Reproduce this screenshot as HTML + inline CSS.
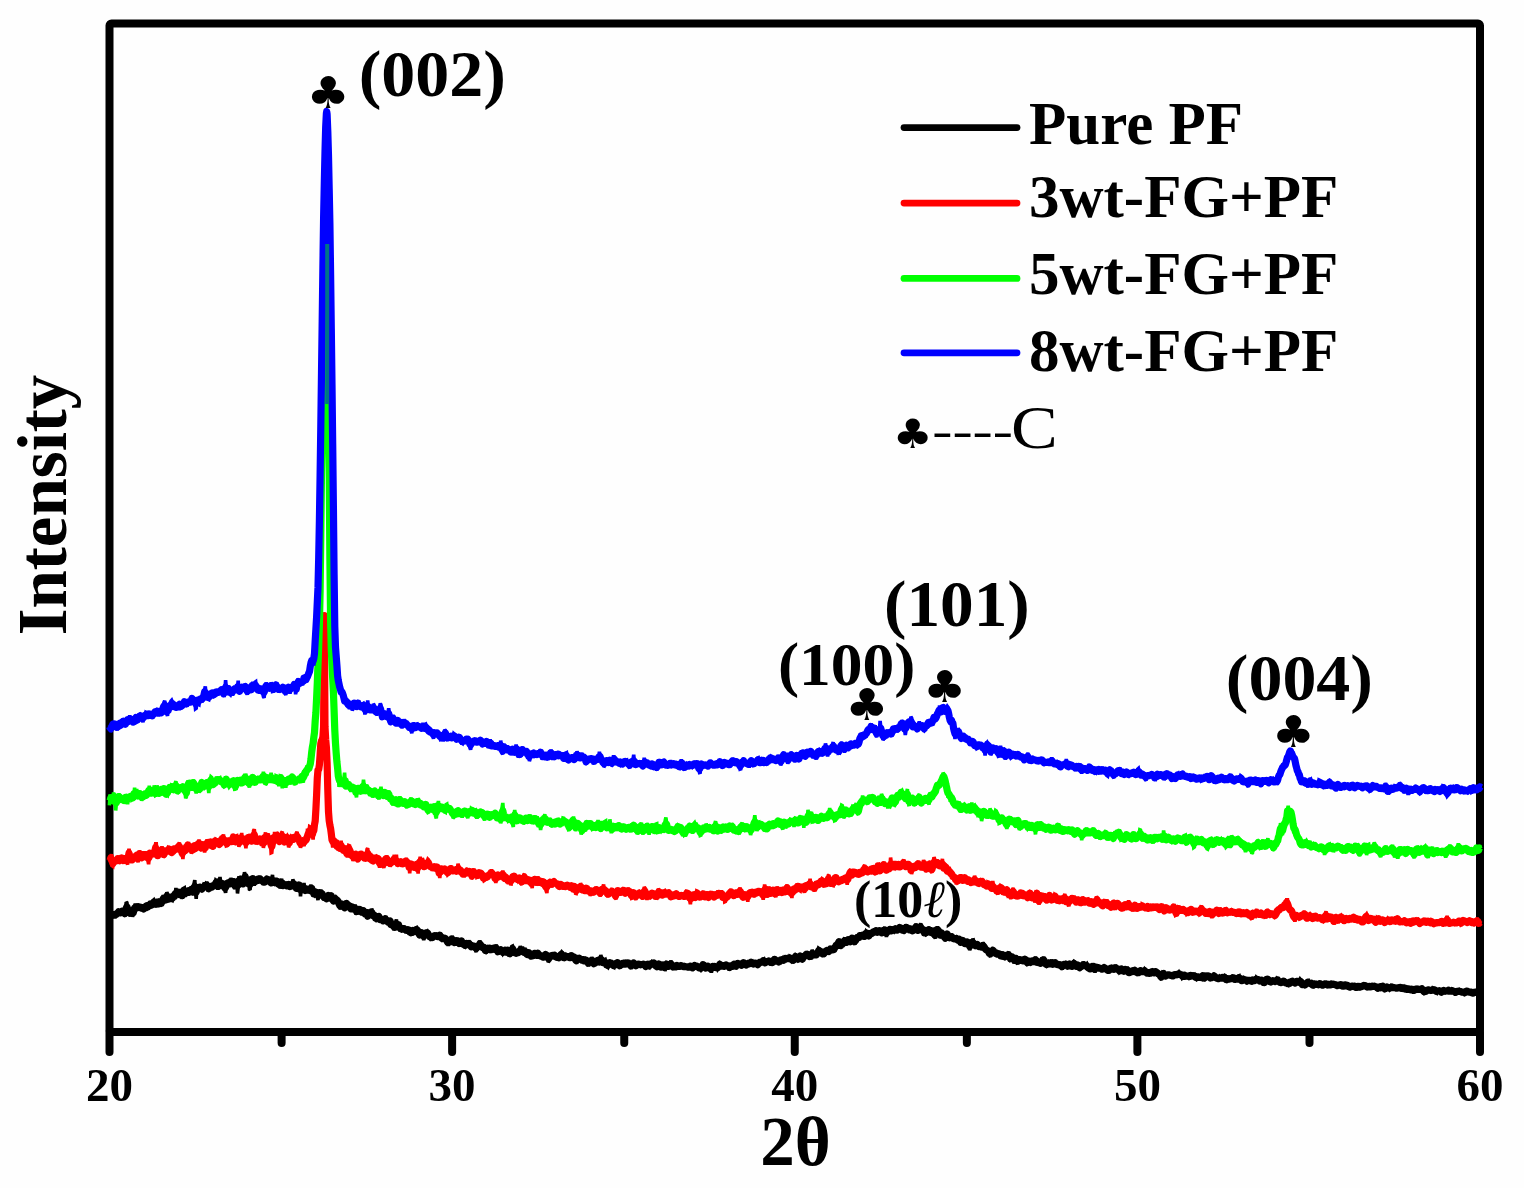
<!DOCTYPE html>
<html lang="en"><head><meta charset="utf-8"><title>XRD patterns</title>
<style>
html,body{margin:0;padding:0;background:#fefefe;}
body{width:1524px;height:1188px;overflow:hidden;}
svg{display:block;}
</style></head>
<body>
<svg width="1524" height="1188" viewBox="0 0 1524 1188" font-family='"Liberation Serif", "DejaVu Serif", serif' fill="#000">
<rect x="0" y="0" width="1524" height="1188" fill="#fefefe"/>
<rect x="109.5" y="23.5" width="1370.5" height="1008.5" fill="none" stroke="#000" stroke-width="8" stroke-linejoin="round" rx="2"/>
<line x1="109.50" y1="1032.0" x2="109.50" y2="1052" stroke="#000" stroke-width="8" stroke-linecap="round"/>
<line x1="281.61" y1="1032.0" x2="281.61" y2="1043" stroke="#000" stroke-width="8" stroke-linecap="round"/>
<line x1="452.12" y1="1032.0" x2="452.12" y2="1052" stroke="#000" stroke-width="8" stroke-linecap="round"/>
<line x1="624.24" y1="1032.0" x2="624.24" y2="1043" stroke="#000" stroke-width="8" stroke-linecap="round"/>
<line x1="794.75" y1="1032.0" x2="794.75" y2="1052" stroke="#000" stroke-width="8" stroke-linecap="round"/>
<line x1="966.86" y1="1032.0" x2="966.86" y2="1043" stroke="#000" stroke-width="8" stroke-linecap="round"/>
<line x1="1137.38" y1="1032.0" x2="1137.38" y2="1052" stroke="#000" stroke-width="8" stroke-linecap="round"/>
<line x1="1309.49" y1="1032.0" x2="1309.49" y2="1043" stroke="#000" stroke-width="8" stroke-linecap="round"/>
<line x1="1480.00" y1="1032.0" x2="1480.00" y2="1052" stroke="#000" stroke-width="8" stroke-linecap="round"/>
<g fill="none" stroke="#000000" stroke-linecap="butt"><path d="M109.4 916.2 L110.1 916.4 L110.8 914.8 L111.5 914.7 L112.2 914.6 L112.9 915.2 L113.6 914.7 L114.3 914.5 L115.0 915.1 L115.7 914.4 L116.4 914.4 L117.1 913.3 L117.8 913.0 L118.5 911.9 L119.2 913.0 L119.9 913.0 L120.6 913.0 L121.3 911.6 L122.0 911.1 L122.7 911.3 L123.4 911.6 L124.1 912.8 L124.8 913.6 L125.5 911.2 L126.2 908.1 L126.9 906.8 L127.6 908.8 L128.3 910.5 L129.0 910.7 L129.7 913.0 L130.4 911.5 L131.1 910.8 L131.8 910.6 L132.5 912.1 L133.2 912.9 L133.9 910.3 L134.6 908.0 L135.3 907.4 L136.0 907.8 L136.7 908.0 L137.4 907.1 L138.1 906.7 L138.8 906.8 L139.5 907.2 L140.2 907.2 L140.9 908.0 L141.6 907.4 L142.3 907.7 L143.0 908.4 L143.7 909.0 L144.4 907.5 L145.1 907.2 L145.8 906.2 L146.5 907.6 L147.2 905.7 L147.9 906.9 L148.6 905.8 L149.3 905.4 L150.0 904.1 L150.7 903.9 L151.4 905.2 L152.1 904.3 L152.8 903.0 L153.5 902.7 L154.2 902.9 L154.9 904.0 L155.6 904.3 L156.3 902.9 L157.0 902.6 L157.7 902.8 L158.4 903.8 L159.1 902.5 L159.8 901.7 L160.5 902.0 L161.2 903.4 L161.9 902.0 L162.6 899.9 L163.3 898.6 L164.0 898.2 L164.7 900.1 L165.4 900.1 L166.1 898.6 L166.8 896.2 L167.5 896.6 L168.2 898.7 L168.9 898.9 L169.6 897.7 L170.3 897.2 L171.0 898.0 L171.7 898.6 L172.4 898.1 L173.1 897.3 L173.8 895.8 L174.5 896.3 L175.2 893.8 L175.9 893.7 L176.6 892.3 L177.3 892.9 L178.0 893.2 L178.7 892.3 L179.4 894.5 L180.1 893.8 L180.8 895.0 L181.5 895.2 L182.2 895.5 L182.9 893.7 L183.6 890.6 L184.3 891.8 L185.0 892.5 L185.7 893.2 L186.4 891.3 L187.1 891.0 L187.8 892.5 L188.5 892.2 L189.2 892.3 L189.9 890.5 L190.6 890.8 L191.3 889.5 L192.0 890.8 L192.7 891.8 L193.4 891.1 L194.1 887.6 L194.8 886.4 L195.5 890.7 L196.2 892.2 L196.9 890.0 L197.6 887.7 L198.3 887.7 L199.0 888.4 L199.7 887.2 L200.4 888.6 L201.1 888.5 L201.8 889.1 L202.5 888.1 L203.2 887.5 L203.9 886.7 L204.6 885.7 L205.3 886.5 L206.0 885.4 L206.7 885.1 L207.4 886.6 L208.1 887.6 L208.8 888.6 L209.5 887.4 L210.2 886.9 L210.9 886.5 L211.6 886.3 L212.3 886.9 L213.0 885.8 L213.7 886.1 L214.4 885.0 L215.1 885.0 L215.8 882.9 L216.5 883.0 L217.2 885.9 L217.9 885.4 L218.6 885.9 L219.3 881.6 L220.0 882.8 L220.7 883.5 L221.4 885.5 L222.1 884.7 L222.8 883.9 L223.5 884.8 L224.2 886.2 L224.9 888.0 L225.6 887.4 L226.3 885.8 L227.0 883.4 L227.7 882.9 L228.4 883.6 L229.1 883.6 L229.8 883.8 L230.5 881.6 L231.2 882.5 L231.9 881.5 L232.6 882.0 L233.3 881.7 L234.0 883.7 L234.7 885.5 L235.4 884.9 L236.1 882.2 L236.8 884.8 L237.5 885.6 L238.2 885.2 L238.9 880.9 L239.6 879.9 L240.3 879.4 L241.0 880.4 L241.7 879.7 L242.4 882.8 L243.1 883.6 L243.8 881.0 L244.5 879.5 L245.2 876.5 L245.9 880.8 L246.6 880.9 L247.3 883.4 L248.0 880.8 L248.7 882.7 L249.4 884.3 L250.1 884.3 L250.8 882.6 L251.5 879.5 L252.2 880.6 L252.9 878.7 L253.6 881.7 L254.3 880.6 L255.0 881.7 L255.7 880.1 L256.4 880.5 L257.1 880.6 L257.8 879.4 L258.5 880.1 L259.2 879.0 L259.9 879.2 L260.6 879.2 L261.3 880.2 L262.0 880.8 L262.7 880.8 L263.4 882.1 L264.1 881.8 L264.8 882.0 L265.5 880.5 L266.2 880.3 L266.9 879.1 L267.6 880.5 L268.3 879.9 L269.0 880.6 L269.7 880.5 L270.4 882.3 L271.1 882.8 L271.8 880.2 L272.5 880.3 L273.2 881.2 L273.9 882.0 L274.6 882.6 L275.3 881.6 L276.0 882.1 L276.7 881.4 L277.4 882.2 L278.1 883.8 L278.8 882.1 L279.5 884.5 L280.2 883.7 L280.9 884.0 L281.6 882.8 L282.3 883.2 L283.0 885.5 L283.7 884.5 L284.4 885.0 L285.1 885.0 L285.8 884.7 L286.5 885.7 L287.2 885.0 L287.9 885.0 L288.6 884.5 L289.3 885.6 L290.0 886.5 L290.7 885.6 L291.4 885.9 L292.1 884.3 L292.8 884.3 L293.5 883.7 L294.2 884.3 L294.9 885.6 L295.6 885.7 L296.3 888.3 L297.0 887.4 L297.7 886.9 L298.4 886.4 L299.1 884.9 L299.8 889.1 L300.5 888.1 L301.2 890.2 L301.9 887.9 L302.6 888.8 L303.3 887.8 L304.0 887.7 L304.7 888.8 L305.4 890.5 L306.1 889.7 L306.8 889.4 L307.5 889.1 L308.2 890.1 L308.9 890.0 L309.6 890.4 L310.3 888.7 L311.0 888.4 L311.7 888.4 L312.4 891.2 L313.1 891.8 L313.8 893.9 L314.5 893.1 L315.2 893.5 L315.9 892.1 L316.6 892.9 L317.3 894.7 L318.0 895.5 L318.7 894.4 L319.4 892.6 L320.1 892.7 L320.8 892.8 L321.5 893.4 L322.2 893.9 L322.9 896.4 L323.6 896.6 L324.3 897.5 L325.0 897.3 L325.7 897.3 L326.4 898.7 L327.1 897.4 L327.8 897.2 L328.5 895.6 L329.2 896.5 L329.9 896.3 L330.6 897.1 L331.3 895.9 L332.0 899.2 L332.7 899.6 L333.4 901.0 L334.1 899.1 L334.8 899.3 L335.5 900.1 L336.2 900.4 L336.9 900.3 L337.6 900.7 L338.3 901.6 L339.0 903.8 L339.7 905.4 L340.4 906.2 L341.1 906.1 L341.8 903.9 L342.5 904.8 L343.2 904.6 L343.9 906.6 L344.6 907.8 L345.3 905.9 L346.0 905.9 L346.7 903.5 L347.4 906.5 L348.1 905.3 L348.8 906.1 L349.5 905.9 L350.2 908.0 L350.9 908.8 L351.6 908.0 L352.3 907.1 L353.0 908.1 L353.7 909.0 L354.4 908.2 L355.1 908.3 L355.8 908.9 L356.5 911.6 L357.2 910.7 L357.9 911.2 L358.6 909.6 L359.3 910.7 L360.0 909.6 L360.7 911.5 L361.4 912.1 L362.1 912.1 L362.8 911.6 L363.5 910.9 L364.2 912.9 L364.9 913.8 L365.6 912.9 L366.3 912.4 L367.0 912.7 L367.7 916.0 L368.4 914.3 L369.1 913.3 L369.8 912.9 L370.5 913.4 L371.2 913.1 L371.9 912.6 L372.6 915.0 L373.3 915.8 L374.0 916.1 L374.7 915.6 L375.4 917.9 L376.1 917.7 L376.8 918.8 L377.5 916.9 L378.2 917.1 L378.9 916.5 L379.6 918.6 L380.3 919.6 L381.0 919.4 L381.7 919.3 L382.4 919.9 L383.1 920.8 L383.8 920.3 L384.5 919.8 L385.2 918.8 L385.9 919.6 L386.6 920.3 L387.3 921.4 L388.0 922.2 L388.7 921.2 L389.4 921.8 L390.1 921.1 L390.8 924.3 L391.5 923.8 L392.2 925.0 L392.9 924.4 L393.6 926.4 L394.3 927.2 L395.0 925.9 L395.7 924.1 L396.4 924.0 L397.1 924.2 L397.8 926.0 L398.5 924.7 L399.2 926.8 L399.9 928.1 L400.6 928.7 L401.3 928.8 L402.0 928.4 L402.7 929.1 L403.4 928.6 L404.1 928.6 L404.8 929.4 L405.5 929.8 L406.2 929.9 L406.9 930.3 L407.6 929.8 L408.3 930.5 L409.0 930.2 L409.7 932.0 L410.4 931.5 L411.1 932.7 L411.8 931.9 L412.5 932.3 L413.2 930.5 L413.9 931.0 L414.6 931.3 L415.3 931.1 L416.0 929.9 L416.7 929.6 L417.4 930.1 L418.1 931.9 L418.8 933.6 L419.5 934.9 L420.2 934.5 L420.9 933.2 L421.6 932.7 L422.3 933.3 L423.0 935.4 L423.7 936.2 L424.4 935.4 L425.1 933.9 L425.8 933.0 L426.5 932.8 L427.2 932.8 L427.9 933.4 L428.6 935.5 L429.3 935.9 L430.0 936.9 L430.7 937.0 L431.4 937.2 L432.1 937.5 L432.8 936.9 L433.5 936.7 L434.2 935.8 L434.9 935.5 L435.6 935.8 L436.3 935.7 L437.0 935.9 L437.7 936.6 L438.4 936.3 L439.1 936.4 L439.8 935.2 L440.5 936.2 L441.2 936.9 L441.9 938.3 L442.6 938.6 L443.3 938.7 L444.0 938.4 L444.7 938.2 L445.4 938.4 L446.1 939.8 L446.8 940.4 L447.5 942.1 L448.2 941.6 L448.9 942.2 L449.6 941.5 L450.3 941.7 L451.0 940.6 L451.7 939.1 L452.4 939.5 L453.1 941.1 L453.8 942.3 L454.5 942.6 L455.2 941.7 L455.9 942.1 L456.6 940.7 L457.3 941.4 L458.0 941.2 L458.7 941.9 L459.4 943.5 L460.1 942.7 L460.8 943.1 L461.5 940.9 L462.2 942.8 L462.9 943.1 L463.6 944.6 L464.3 944.4 L465.0 945.3 L465.7 944.1 L466.4 943.5 L467.1 944.6 L467.8 944.7 L468.5 944.7 L469.2 943.6 L469.9 945.2 L470.6 946.0 L471.3 946.8 L472.0 945.6 L472.7 946.2 L473.4 946.2 L474.1 946.0 L474.8 946.5 L475.5 947.8 L476.2 948.5 L476.9 947.6 L477.6 947.1 L478.3 946.8 L479.0 945.5 L479.7 943.9 L480.4 944.6 L481.1 945.6 L481.8 947.0 L482.5 947.6 L483.2 947.3 L483.9 947.4 L484.6 948.6 L485.3 950.3 L486.0 950.6 L486.7 949.5 L487.4 949.5 L488.1 948.3 L488.8 948.9 L489.5 948.3 L490.2 949.8 L490.9 949.7 L491.6 949.2 L492.3 948.6 L493.0 949.2 L493.7 949.3 L494.4 948.9 L495.1 947.8 L495.8 947.6 L496.5 948.7 L497.2 950.1 L497.9 951.7 L498.6 951.4 L499.3 950.6 L500.0 950.3 L500.7 949.8 L501.4 950.5 L502.1 951.1 L502.8 952.3 L503.5 951.5 L504.2 951.0 L504.9 950.4 L505.6 952.0 L506.3 952.1 L507.0 951.2 L507.7 950.4 L508.4 951.6 L509.1 953.3 L509.8 953.7 L510.5 952.6 L511.2 951.1 L511.9 949.5 L512.6 948.8 L513.3 950.0 L514.0 951.4 L514.7 952.7 L515.4 952.7 L516.1 953.2 L516.8 952.7 L517.5 952.6 L518.2 952.6 L518.9 952.3 L519.6 951.1 L520.3 950.1 L521.0 950.8 L521.7 950.6 L522.4 951.2 L523.1 951.0 L523.8 952.1 L524.5 951.5 L525.2 951.5 L525.9 952.1 L526.6 953.9 L527.3 954.5 L528.0 953.9 L528.7 952.7 L529.4 953.0 L530.1 955.2 L530.8 956.0 L531.5 955.8 L532.2 955.9 L532.9 955.7 L533.6 955.4 L534.3 953.5 L535.0 953.3 L535.7 954.8 L536.4 954.9 L537.1 955.3 L537.8 953.2 L538.5 954.2 L539.2 954.8 L539.9 955.5 L540.6 956.0 L541.3 955.9 L542.0 956.4 L542.7 957.0 L543.4 957.1 L544.1 956.7 L544.8 955.4 L545.5 954.5 L546.2 955.0 L546.9 955.3 L547.6 957.5 L548.3 958.3 L549.0 958.5 L549.7 956.7 L550.4 956.7 L551.1 955.8 L551.8 955.7 L552.5 955.4 L553.2 956.0 L553.9 956.1 L554.6 955.4 L555.3 956.4 L556.0 956.8 L556.7 957.3 L557.4 957.3 L558.1 957.3 L558.8 957.8 L559.5 957.1 L560.2 956.4 L560.9 954.7 L561.6 954.3 L562.3 954.9 L563.0 956.6 L563.7 957.7 L564.4 957.8 L565.1 956.6 L565.8 956.3 L566.5 956.5 L567.2 956.9 L567.9 956.5 L568.6 956.5 L569.3 957.5 L570.0 957.1 L570.7 957.4 L571.4 955.7 L572.1 957.1 L572.8 956.9 L573.5 957.0 L574.2 957.1 L574.9 958.6 L575.6 960.0 L576.3 960.7 L577.0 959.7 L577.7 958.5 L578.4 958.3 L579.1 958.2 L579.8 958.7 L580.5 959.0 L581.2 959.5 L581.9 960.2 L582.6 960.4 L583.3 959.9 L584.0 960.8 L584.7 960.0 L585.4 961.0 L586.1 960.2 L586.8 961.8 L587.5 961.8 L588.2 963.3 L588.9 962.2 L589.6 961.9 L590.3 961.7 L591.0 960.7 L591.7 960.5 L592.4 960.6 L593.1 962.5 L593.8 963.6 L594.5 963.0 L595.2 963.1 L595.9 962.2 L596.6 961.7 L597.3 960.6 L598.0 960.7 L598.7 961.2 L599.4 961.9 L600.1 960.3 L600.8 959.6 L601.5 959.7 L602.2 961.8 L602.9 962.6 L603.6 962.5 L604.3 961.2 L605.0 962.6 L605.7 962.5 L606.4 964.7 L607.1 964.5 L607.8 965.3 L608.5 964.1 L609.2 963.4 L609.9 962.7 L610.6 963.2 L611.3 963.2 L612.0 964.1 L612.7 964.5 L613.4 965.5 L614.1 965.0 L614.8 965.1 L615.5 963.8 L616.2 963.5 L616.9 962.7 L617.6 962.6 L618.3 963.7 L619.0 964.5 L619.7 965.7 L620.4 965.2 L621.1 964.9 L621.8 964.0 L622.5 963.4 L623.2 963.5 L623.9 964.0 L624.6 964.1 L625.3 964.2 L626.0 963.1 L626.7 963.7 L627.4 963.0 L628.1 963.7 L628.8 963.3 L629.5 964.1 L630.2 964.7 L630.9 965.9 L631.6 965.5 L632.3 964.6 L633.0 963.8 L633.7 963.1 L634.4 964.1 L635.1 964.9 L635.8 965.7 L636.5 965.2 L637.2 964.4 L637.9 964.4 L638.6 964.0 L639.3 964.3 L640.0 964.3 L640.7 964.8 L641.4 964.5 L642.1 964.5 L642.8 964.4 L643.5 964.2 L644.2 964.6 L644.9 965.1 L645.6 966.5 L646.3 965.6 L647.0 964.6 L647.7 964.2 L648.4 965.3 L649.1 965.8 L649.8 964.6 L650.5 964.1 L651.2 963.6 L651.9 964.2 L652.6 963.2 L653.3 964.0 L654.0 963.1 L654.7 964.1 L655.4 965.1 L656.1 966.1 L656.8 966.6 L657.5 965.5 L658.2 965.2 L658.9 964.1 L659.6 965.0 L660.3 965.4 L661.0 967.1 L661.7 966.0 L662.4 965.9 L663.1 965.1 L663.8 966.5 L664.5 967.6 L665.2 967.2 L665.9 965.9 L666.6 964.1 L667.3 965.2 L668.0 965.8 L668.7 966.3 L669.4 965.7 L670.1 964.4 L670.8 963.9 L671.5 964.4 L672.2 966.0 L672.9 966.9 L673.6 966.0 L674.3 966.1 L675.0 967.0 L675.7 966.9 L676.4 966.6 L677.1 965.5 L677.8 966.3 L678.5 966.3 L679.2 966.5 L679.9 965.9 L680.6 965.9 L681.3 965.7 L682.0 966.1 L682.7 966.0 L683.4 966.7 L684.1 966.5 L684.8 966.4 L685.5 966.6 L686.2 966.8 L686.9 966.9 L687.6 966.8 L688.3 967.0 L689.0 967.2 L689.7 966.9 L690.4 966.1 L691.1 966.3 L691.8 966.9 L692.5 967.8 L693.2 966.8 L693.9 966.3 L694.6 965.5 L695.3 966.2 L696.0 966.1 L696.7 966.0 L697.4 966.8 L698.1 966.7 L698.8 967.7 L699.5 967.3 L700.2 968.0 L700.9 968.2 L701.6 967.1 L702.3 966.4 L703.0 964.7 L703.7 965.2 L704.4 965.6 L705.1 967.1 L705.8 968.0 L706.5 967.4 L707.2 967.1 L707.9 966.4 L708.6 967.3 L709.3 967.9 L710.0 967.6 L710.7 968.9 L711.4 968.1 L712.1 968.0 L712.8 966.4 L713.5 966.7 L714.2 967.2 L714.9 966.5 L715.6 966.8 L716.3 966.6 L717.0 967.6 L717.7 967.6 L718.4 966.9 L719.1 965.5 L719.8 964.3 L720.5 965.0 L721.2 965.5 L721.9 966.1 L722.6 965.5 L723.3 965.7 L724.0 966.3 L724.7 965.9 L725.4 965.6 L726.1 964.9 L726.8 965.5 L727.5 965.5 L728.2 966.2 L728.9 966.9 L729.6 967.4 L730.3 966.1 L731.0 966.5 L731.7 966.2 L732.4 966.3 L733.1 964.9 L733.8 964.4 L734.5 965.8 L735.2 966.0 L735.9 966.3 L736.6 964.0 L737.3 964.3 L738.0 963.6 L738.7 964.1 L739.4 964.0 L740.1 964.1 L740.8 965.0 L741.5 965.3 L742.2 964.7 L742.9 964.1 L743.6 962.7 L744.3 963.5 L745.0 964.0 L745.7 964.1 L746.4 965.0 L747.1 964.3 L747.8 964.3 L748.5 963.2 L749.2 963.7 L749.9 963.5 L750.6 963.5 L751.3 962.3 L752.0 963.6 L752.7 963.6 L753.4 964.1 L754.1 963.9 L754.8 963.0 L755.5 963.0 L756.2 963.3 L756.9 963.9 L757.6 964.7 L758.3 963.8 L759.0 963.4 L759.7 962.4 L760.4 962.3 L761.1 962.3 L761.8 961.9 L762.5 961.4 L763.2 960.7 L763.9 961.1 L764.6 961.7 L765.3 962.8 L766.0 961.7 L766.7 961.8 L767.4 961.3 L768.1 961.4 L768.8 960.9 L769.5 961.3 L770.2 962.3 L770.9 962.5 L771.6 962.5 L772.3 962.6 L773.0 962.1 L773.7 960.4 L774.4 959.4 L775.1 959.5 L775.8 960.3 L776.5 961.0 L777.2 961.2 L777.9 961.4 L778.6 961.9 L779.3 960.9 L780.0 961.3 L780.7 959.9 L781.4 959.9 L782.1 959.6 L782.8 959.4 L783.5 960.2 L784.2 959.2 L784.9 959.4 L785.6 958.4 L786.3 958.8 L787.0 958.5 L787.7 958.2 L788.4 958.6 L789.1 958.0 L789.8 958.0 L790.5 958.0 L791.2 959.2 L791.9 960.0 L792.6 959.6 L793.3 960.3 L794.0 959.1 L794.7 958.4 L795.4 956.4 L796.1 957.5 L796.8 958.0 L797.5 959.1 L798.2 959.0 L798.9 958.6 L799.6 957.3 L800.3 956.1 L801.0 957.4 L801.7 958.3 L802.4 959.1 L803.1 957.5 L803.8 956.7 L804.5 956.0 L805.2 955.9 L805.9 954.5 L806.6 954.5 L807.3 954.4 L808.0 955.9 L808.7 955.9 L809.4 956.5 L810.1 956.2 L810.8 956.4 L811.5 954.2 L812.2 953.5 L812.9 953.9 L813.6 954.5 L814.3 954.9 L815.0 954.1 L815.7 954.2 L816.4 954.6 L817.1 953.2 L817.8 952.4 L818.5 950.9 L819.2 950.6 L819.9 951.6 L820.6 952.0 L821.3 953.0 L822.0 952.1 L822.7 953.7 L823.4 953.1 L824.1 953.5 L824.8 951.9 L825.5 951.5 L826.2 950.9 L826.9 950.4 L827.6 950.8 L828.3 951.3 L829.0 951.5 L829.7 950.3 L830.4 949.0 L831.1 949.4 L831.8 949.3 L832.5 949.8 L833.2 948.7 L833.9 949.5 L834.6 948.0 L835.3 946.9 L836.0 945.4 L836.7 945.7 L837.4 944.1 L838.1 944.0 L838.8 941.9 L839.5 943.4 L840.2 943.5 L840.9 945.6 L841.6 944.2 L842.3 944.2 L843.0 942.9 L843.7 942.5 L844.4 940.9 L845.1 940.6 L845.8 941.2 L846.5 942.2 L847.2 941.0 L847.9 940.2 L848.6 939.9 L849.3 941.3 L850.0 941.7 L850.7 939.7 L851.4 939.9 L852.1 938.2 L852.8 939.1 L853.5 939.1 L854.2 941.3 L854.9 941.2 L855.6 940.6 L856.3 938.5 L857.0 937.6 L857.7 937.5 L858.4 937.7 L859.1 937.7 L859.8 935.6 L860.5 935.5 L861.2 935.8 L861.9 936.0 L862.6 935.3 L863.3 935.8 L864.0 936.3 L864.7 936.3 L865.4 934.0 L866.1 933.2 L866.8 933.1 L867.5 934.8 L868.2 934.6 L868.9 935.9 L869.6 934.0 L870.3 934.0 L871.0 933.1 L871.7 933.5 L872.4 932.9 L873.1 932.0 L873.8 932.4 L874.5 931.6 L875.2 931.3 L875.9 930.7 L876.6 931.6 L877.3 932.2 L878.0 931.7 L878.7 931.6 L879.4 930.9 L880.1 931.8 L880.8 931.8 L881.5 932.8 L882.2 931.4 L882.9 932.4 L883.6 930.5 L884.3 930.9 L885.0 930.1 L885.7 932.3 L886.4 933.0 L887.1 932.3 L887.8 931.6 L888.5 930.6 L889.2 930.2 L889.9 929.4 L890.6 929.5 L891.3 930.8 L892.0 929.9 L892.7 930.0 L893.4 929.7 L894.1 930.2 L894.8 929.8 L895.5 928.7 L896.2 929.1 L896.9 929.1 L897.6 930.0 L898.3 928.9 L899.0 928.8 L899.7 927.5 L900.4 927.8 L901.1 928.4 L901.8 929.3 L902.5 929.9 L903.2 929.5 L903.9 930.5 L904.6 929.7 L905.3 928.2 L906.0 927.4 L906.7 927.5 L907.4 928.1 L908.1 928.3 L908.8 928.7 L909.5 929.8 L910.2 929.1 L910.9 929.1 L911.6 929.0 L912.3 930.8 L913.0 930.1 L913.7 930.0 L914.4 928.9 L915.1 928.2 L915.8 927.0 L916.5 928.5 L917.2 928.6 L917.9 930.4 L918.6 928.1 L919.3 929.0 L920.0 927.0 L920.7 927.1 L921.4 928.4 L922.1 928.9 L922.8 930.2 L923.5 929.9 L924.2 932.7 L924.9 931.9 L925.6 932.8 L926.3 932.0 L927.0 932.2 L927.7 930.1 L928.4 930.7 L929.1 929.9 L929.8 931.0 L930.5 930.6 L931.2 932.7 L931.9 932.6 L932.6 932.0 L933.3 931.1 L934.0 932.8 L934.7 934.9 L935.4 933.9 L936.1 933.8 L936.8 929.9 L937.5 931.5 L938.2 930.1 L938.9 934.0 L939.6 934.4 L940.3 934.9 L941.0 933.3 L941.7 933.0 L942.4 934.0 L943.1 934.6 L943.8 935.8 L944.5 937.2 L945.2 938.1 L945.9 937.0 L946.6 935.0 L947.3 934.2 L948.0 936.2 L948.7 937.5 L949.4 937.8 L950.1 937.4 L950.8 936.8 L951.5 936.7 L952.2 937.2 L952.9 938.2 L953.6 938.8 L954.3 938.9 L955.0 938.9 L955.7 938.9 L956.4 938.5 L957.1 939.5 L957.8 940.2 L958.5 939.8 L959.2 939.3 L959.9 939.9 L960.6 942.2 L961.3 941.8 L962.0 941.7 L962.7 940.4 L963.4 941.9 L964.1 942.2 L964.8 943.6 L965.5 943.6 L966.2 943.1 L966.9 941.9 L967.6 942.0 L968.3 942.8 L969.0 945.1 L969.7 946.2 L970.4 945.3 L971.1 944.1 L971.8 942.2 L972.5 942.1 L973.2 942.6 L973.9 944.1 L974.6 944.8 L975.3 945.6 L976.0 944.8 L976.7 945.0 L977.4 944.5 L978.1 945.6 L978.8 946.5 L979.5 946.3 L980.2 946.6 L980.9 946.8 L981.6 947.1 L982.3 945.9 L983.0 945.5 L983.7 946.3 L984.4 947.3 L985.1 948.8 L985.8 949.5 L986.5 950.1 L987.2 950.2 L987.9 951.0 L988.6 951.9 L989.3 953.2 L990.0 953.1 L990.7 953.4 L991.4 952.4 L992.1 951.2 L992.8 950.3 L993.5 950.9 L994.2 952.0 L994.9 952.9 L995.6 953.3 L996.3 952.9 L997.0 954.0 L997.7 953.7 L998.4 954.3 L999.1 953.9 L999.8 954.0 L1000.5 955.8 L1001.2 955.1 L1001.9 955.5 L1002.6 954.9 L1003.3 956.5 L1004.0 956.4 L1004.7 956.9 L1005.4 956.1 L1006.1 955.7 L1006.8 955.2 L1007.5 955.2 L1008.2 954.8 L1008.9 955.2 L1009.6 956.6 L1010.3 958.7 L1011.0 958.0 L1011.7 957.9 L1012.4 957.1 L1013.1 958.6 L1013.8 959.1 L1014.5 960.2 L1015.2 958.3 L1015.9 958.4 L1016.6 959.0 L1017.3 961.0 L1018.0 961.1 L1018.7 960.4 L1019.4 959.6 L1020.1 959.6 L1020.8 960.0 L1021.5 960.4 L1022.2 960.0 L1022.9 960.8 L1023.6 960.2 L1024.3 960.4 L1025.0 959.3 L1025.7 960.6 L1026.4 961.5 L1027.1 962.6 L1027.8 962.6 L1028.5 961.1 L1029.2 961.6 L1029.9 961.6 L1030.6 962.4 L1031.3 961.4 L1032.0 961.0 L1032.7 961.4 L1033.4 961.6 L1034.1 961.7 L1034.8 960.1 L1035.5 960.0 L1036.2 960.6 L1036.9 962.3 L1037.6 962.3 L1038.3 962.4 L1039.0 962.8 L1039.7 962.7 L1040.4 963.3 L1041.1 961.7 L1041.8 961.4 L1042.5 960.2 L1043.2 960.0 L1043.9 960.2 L1044.6 961.4 L1045.3 963.5 L1046.0 964.2 L1046.7 964.5 L1047.4 964.0 L1048.1 963.8 L1048.8 963.1 L1049.5 962.9 L1050.2 963.6 L1050.9 962.8 L1051.6 963.5 L1052.3 962.9 L1053.0 964.2 L1053.7 962.9 L1054.4 963.0 L1055.1 962.7 L1055.8 964.1 L1056.5 963.7 L1057.2 964.6 L1057.9 964.5 L1058.6 964.9 L1059.3 964.7 L1060.0 964.6 L1060.7 965.6 L1061.4 966.2 L1062.1 966.6 L1062.8 965.8 L1063.5 964.5 L1064.2 964.4 L1064.9 964.9 L1065.6 964.8 L1066.3 964.2 L1067.0 964.5 L1067.7 966.2 L1068.4 965.3 L1069.1 965.4 L1069.8 964.1 L1070.5 966.0 L1071.2 966.1 L1071.9 966.3 L1072.6 965.5 L1073.3 964.4 L1074.0 963.4 L1074.7 964.7 L1075.4 965.4 L1076.1 966.1 L1076.8 965.4 L1077.5 964.9 L1078.2 965.4 L1078.9 966.3 L1079.6 967.7 L1080.3 966.8 L1081.0 966.9 L1081.7 966.0 L1082.4 965.8 L1083.1 964.6 L1083.8 964.6 L1084.5 965.6 L1085.2 965.8 L1085.9 965.6 L1086.6 965.5 L1087.3 967.1 L1088.0 967.6 L1088.7 968.0 L1089.4 967.1 L1090.1 968.9 L1090.8 967.8 L1091.5 968.4 L1092.2 966.4 L1092.9 967.2 L1093.6 966.6 L1094.3 969.0 L1095.0 968.9 L1095.7 968.1 L1096.4 967.2 L1097.1 967.3 L1097.8 968.1 L1098.5 967.6 L1099.2 968.1 L1099.9 968.2 L1100.6 968.4 L1101.3 968.6 L1102.0 969.2 L1102.7 968.9 L1103.4 968.4 L1104.1 967.5 L1104.8 968.1 L1105.5 968.5 L1106.2 969.4 L1106.9 969.4 L1107.6 970.3 L1108.3 970.2 L1109.0 970.4 L1109.7 969.1 L1110.4 968.5 L1111.1 968.0 L1111.8 968.1 L1112.5 969.0 L1113.2 968.6 L1113.9 969.3 L1114.6 967.8 L1115.3 968.0 L1116.0 967.9 L1116.7 969.0 L1117.4 968.7 L1118.1 969.0 L1118.8 969.7 L1119.5 970.9 L1120.2 970.6 L1120.9 969.9 L1121.6 969.1 L1122.3 969.8 L1123.0 970.8 L1123.7 971.2 L1124.4 970.2 L1125.1 969.6 L1125.8 970.3 L1126.5 969.9 L1127.2 969.9 L1127.9 970.7 L1128.6 972.4 L1129.3 972.7 L1130.0 971.9 L1130.7 972.1 L1131.4 971.4 L1132.1 970.9 L1132.8 970.7 L1133.5 970.8 L1134.2 971.4 L1134.9 970.4 L1135.6 971.1 L1136.3 971.5 L1137.0 972.5 L1137.7 972.3 L1138.4 972.7 L1139.1 972.2 L1139.8 971.8 L1140.5 970.6 L1141.2 970.9 L1141.9 971.0 L1142.6 971.6 L1143.3 971.5 L1144.0 971.4 L1144.7 970.7 L1145.4 971.6 L1146.1 972.3 L1146.8 973.0 L1147.5 972.5 L1148.2 972.6 L1148.9 973.1 L1149.6 973.4 L1150.3 973.2 L1151.0 972.6 L1151.7 971.9 L1152.4 971.6 L1153.1 972.7 L1153.8 972.9 L1154.5 972.6 L1155.2 971.6 L1155.9 971.7 L1156.6 972.9 L1157.3 972.9 L1158.0 973.6 L1158.7 973.7 L1159.4 974.7 L1160.1 975.5 L1160.8 976.7 L1161.5 976.8 L1162.2 975.3 L1162.9 973.9 L1163.6 973.5 L1164.3 975.0 L1165.0 975.5 L1165.7 976.0 L1166.4 975.0 L1167.1 975.1 L1167.8 974.9 L1168.5 974.8 L1169.2 975.0 L1169.9 975.2 L1170.6 975.4 L1171.3 975.5 L1172.0 975.8 L1172.7 976.0 L1173.4 975.6 L1174.1 974.8 L1174.8 974.5 L1175.5 974.6 L1176.2 974.6 L1176.9 974.8 L1177.6 974.4 L1178.3 974.0 L1179.0 973.8 L1179.7 974.3 L1180.4 974.5 L1181.1 974.7 L1181.8 975.3 L1182.5 976.4 L1183.2 976.4 L1183.9 976.0 L1184.6 975.2 L1185.3 976.3 L1186.0 975.8 L1186.7 976.2 L1187.4 976.1 L1188.1 976.0 L1188.8 976.6 L1189.5 975.7 L1190.2 976.2 L1190.9 975.5 L1191.6 975.9 L1192.3 975.9 L1193.0 976.1 L1193.7 975.7 L1194.4 976.0 L1195.1 976.4 L1195.8 977.5 L1196.5 977.8 L1197.2 976.9 L1197.9 976.9 L1198.6 976.9 L1199.3 977.3 L1200.0 977.3 L1200.7 977.4 L1201.4 977.5 L1202.1 976.5 L1202.8 975.7 L1203.5 977.2 L1204.2 978.0 L1204.9 977.6 L1205.6 976.4 L1206.3 975.9 L1207.0 976.3 L1207.7 976.5 L1208.4 975.9 L1209.1 976.3 L1209.8 976.9 L1210.5 978.0 L1211.2 977.7 L1211.9 977.6 L1212.6 977.2 L1213.3 976.9 L1214.0 975.9 L1214.7 976.4 L1215.4 977.2 L1216.1 977.8 L1216.8 978.2 L1217.5 978.4 L1218.2 978.7 L1218.9 978.2 L1219.6 977.8 L1220.3 978.1 L1221.0 978.1 L1221.7 978.2 L1222.4 977.5 L1223.1 977.9 L1223.8 977.6 L1224.5 977.3 L1225.2 978.5 L1225.9 979.4 L1226.6 979.7 L1227.3 978.7 L1228.0 978.6 L1228.7 978.8 L1229.4 979.1 L1230.1 978.6 L1230.8 978.7 L1231.5 978.4 L1232.2 978.6 L1232.9 977.7 L1233.6 977.8 L1234.3 978.2 L1235.0 979.4 L1235.7 979.1 L1236.4 979.2 L1237.1 979.1 L1237.8 978.8 L1238.5 977.8 L1239.2 978.0 L1239.9 978.4 L1240.6 979.7 L1241.3 980.5 L1242.0 980.7 L1242.7 980.0 L1243.4 979.2 L1244.1 979.7 L1244.8 979.6 L1245.5 980.1 L1246.2 980.3 L1246.9 981.1 L1247.6 980.4 L1248.3 980.4 L1249.0 980.5 L1249.7 980.3 L1250.4 980.8 L1251.1 980.4 L1251.8 981.1 L1252.5 980.0 L1253.2 980.4 L1253.9 980.7 L1254.6 980.6 L1255.3 979.8 L1256.0 979.2 L1256.7 979.1 L1257.4 979.5 L1258.1 979.6 L1258.8 980.2 L1259.5 981.0 L1260.2 980.7 L1260.9 980.9 L1261.6 980.2 L1262.3 981.2 L1263.0 982.1 L1263.7 982.5 L1264.4 982.6 L1265.1 981.4 L1265.8 980.7 L1266.5 979.5 L1267.2 979.1 L1267.9 979.4 L1268.6 979.9 L1269.3 981.0 L1270.0 981.7 L1270.7 982.0 L1271.4 981.4 L1272.1 980.9 L1272.8 980.7 L1273.5 981.0 L1274.2 981.4 L1274.9 981.6 L1275.6 981.5 L1276.3 980.7 L1277.0 980.1 L1277.7 979.9 L1278.4 981.4 L1279.1 981.7 L1279.8 982.3 L1280.5 982.3 L1281.2 982.6 L1281.9 982.2 L1282.6 981.6 L1283.3 981.1 L1284.0 981.4 L1284.7 982.0 L1285.4 982.7 L1286.1 983.0 L1286.8 982.8 L1287.5 983.5 L1288.2 983.0 L1288.9 982.8 L1289.6 982.3 L1290.3 983.1 L1291.0 982.2 L1291.7 981.7 L1292.4 981.2 L1293.1 981.8 L1293.8 982.4 L1294.5 982.6 L1295.2 983.0 L1295.9 982.0 L1296.6 981.5 L1297.3 981.3 L1298.0 982.2 L1298.7 982.3 L1299.4 981.9 L1300.1 981.2 L1300.8 981.5 L1301.5 983.0 L1302.2 984.6 L1302.9 984.7 L1303.6 984.4 L1304.3 984.1 L1305.0 984.8 L1305.7 984.4 L1306.4 983.4 L1307.1 982.8 L1307.8 982.2 L1308.5 982.8 L1309.2 983.3 L1309.9 983.4 L1310.6 983.3 L1311.3 983.1 L1312.0 984.4 L1312.7 985.0 L1313.4 985.2 L1314.1 984.5 L1314.8 983.9 L1315.5 984.1 L1316.2 984.1 L1316.9 984.3 L1317.6 984.5 L1318.3 984.8 L1319.0 984.3 L1319.7 983.6 L1320.4 983.9 L1321.1 984.4 L1321.8 984.9 L1322.5 985.2 L1323.2 985.1 L1323.9 984.5 L1324.6 984.0 L1325.3 983.8 L1326.0 984.2 L1326.7 984.2 L1327.4 985.0 L1328.1 984.7 L1328.8 984.4 L1329.5 984.9 L1330.2 984.8 L1330.9 984.9 L1331.6 984.0 L1332.3 984.3 L1333.0 984.2 L1333.7 984.5 L1334.4 984.4 L1335.1 984.6 L1335.8 984.8 L1336.5 985.3 L1337.2 985.7 L1337.9 985.3 L1338.6 985.2 L1339.3 985.1 L1340.0 985.3 L1340.7 984.6 L1341.4 984.9 L1342.1 984.9 L1342.8 986.2 L1343.5 986.2 L1344.2 985.9 L1344.9 984.8 L1345.6 985.0 L1346.3 985.2 L1347.0 986.0 L1347.7 985.5 L1348.4 986.6 L1349.1 986.4 L1349.8 987.1 L1350.5 986.8 L1351.2 986.7 L1351.9 986.0 L1352.6 986.1 L1353.3 986.3 L1354.0 986.2 L1354.7 986.1 L1355.4 987.1 L1356.1 987.4 L1356.8 987.5 L1357.5 986.5 L1358.2 987.1 L1358.9 986.5 L1359.6 987.1 L1360.3 986.8 L1361.0 986.9 L1361.7 986.5 L1362.4 986.1 L1363.1 985.8 L1363.8 985.4 L1364.5 985.6 L1365.2 985.6 L1365.9 986.2 L1366.6 986.4 L1367.3 987.0 L1368.0 986.7 L1368.7 986.5 L1369.4 986.4 L1370.1 987.0 L1370.8 986.8 L1371.5 986.7 L1372.2 986.1 L1372.9 986.4 L1373.6 986.3 L1374.3 986.1 L1375.0 986.6 L1375.7 986.6 L1376.4 987.2 L1377.1 987.6 L1377.8 988.3 L1378.5 987.4 L1379.2 987.0 L1379.9 986.7 L1380.6 987.6 L1381.3 986.7 L1382.0 986.9 L1382.7 986.3 L1383.4 987.4 L1384.1 987.5 L1384.8 988.9 L1385.5 988.3 L1386.2 987.4 L1386.9 986.9 L1387.6 987.4 L1388.3 987.9 L1389.0 988.1 L1389.7 988.1 L1390.4 987.8 L1391.1 987.3 L1391.8 986.9 L1392.5 987.4 L1393.2 987.7 L1393.9 987.6 L1394.6 987.7 L1395.3 987.9 L1396.0 988.1 L1396.7 988.2 L1397.4 987.9 L1398.1 988.0 L1398.8 987.5 L1399.5 987.7 L1400.2 987.4 L1400.9 988.2 L1401.6 987.7 L1402.3 988.4 L1403.0 988.5 L1403.7 988.6 L1404.4 988.4 L1405.1 988.1 L1405.8 989.2 L1406.5 989.4 L1407.2 989.4 L1407.9 988.9 L1408.6 988.8 L1409.3 989.5 L1410.0 989.6 L1410.7 989.8 L1411.4 989.1 L1412.1 989.3 L1412.8 989.9 L1413.5 990.5 L1414.2 990.3 L1414.9 989.7 L1415.6 989.2 L1416.3 989.3 L1417.0 988.9 L1417.7 989.3 L1418.4 989.2 L1419.1 989.3 L1419.8 989.5 L1420.5 989.2 L1421.2 989.5 L1421.9 988.9 L1422.6 990.1 L1423.3 990.8 L1424.0 991.6 L1424.7 991.6 L1425.4 991.2 L1426.1 991.1 L1426.8 990.4 L1427.5 990.0 L1428.2 989.9 L1428.9 989.9 L1429.6 990.1 L1430.3 990.3 L1431.0 990.5 L1431.7 990.1 L1432.4 989.9 L1433.1 989.7 L1433.8 990.1 L1434.5 989.9 L1435.2 990.6 L1435.9 991.3 L1436.6 991.3 L1437.3 991.2 L1438.0 990.8 L1438.7 990.8 L1439.4 990.7 L1440.1 991.0 L1440.8 991.7 L1441.5 992.2 L1442.2 991.4 L1442.9 990.9 L1443.6 990.5 L1444.3 991.0 L1445.0 991.3 L1445.7 991.1 L1446.4 990.9 L1447.1 990.7 L1447.8 991.0 L1448.5 990.3 L1449.2 991.0 L1449.9 990.7 L1450.6 991.2 L1451.3 990.9 L1452.0 990.6 L1452.7 991.2 L1453.4 991.0 L1454.1 991.6 L1454.8 991.8 L1455.5 992.4 L1456.2 992.0 L1456.9 991.7 L1457.6 991.3 L1458.3 991.1 L1459.0 991.4 L1459.7 991.4 L1460.4 991.5 L1461.1 991.7 L1461.8 992.1 L1462.5 992.2 L1463.2 992.0 L1463.9 992.0 L1464.6 992.7 L1465.3 992.2 L1466.0 991.4 L1466.7 991.1 L1467.4 991.3 L1468.1 991.8 L1468.8 991.8 L1469.5 992.1 L1470.2 992.0 L1470.9 992.0 L1471.6 992.8 L1472.3 992.9 L1473.0 993.2 L1473.7 992.4 L1474.4 992.5 L1475.1 992.0 L1475.8 992.1 L1476.5 992.1 L1477.2 992.6 L1477.9 993.1 L1478.6 993.2 L1479.3 993.2 L1480.0 992.3 L1480.7 992.2" stroke-width="7.2" stroke-linejoin="round"/><path d="M109.4 917.0 L110.1 918.2 L110.8 915.5 L111.5 911.9 L112.2 916.6 L112.9 916.1 L113.6 913.6 L114.3 915.8 L115.0 915.9 L115.7 915.1 L116.4 914.5 L117.1 914.5 L117.8 911.4 L118.5 911.6 L119.2 911.9 L119.9 914.3 L120.6 913.1 L121.3 910.9 L122.0 909.4 L122.7 910.7 L123.4 911.6 L124.1 912.2 L124.8 916.5 L125.5 913.4 L126.2 902.0 L126.9 902.6 L127.6 908.4 L128.3 909.6 L129.0 911.2 L129.7 913.4 L130.4 916.3 L131.1 908.3 L131.8 909.7 L132.5 916.7 L133.2 914.4 L133.9 911.8 L134.6 906.8 L135.3 903.6 L136.0 908.2 L136.7 908.3 L137.4 904.3 L138.1 905.2 L138.8 906.7 L139.5 905.1 L140.2 907.0 L140.9 908.2 L141.6 907.5 L142.3 906.6 L143.0 909.8 L143.7 911.1 L144.4 908.2 L145.1 905.3 L145.8 907.9 L146.5 906.5 L147.2 907.7 L147.9 904.4 L148.6 907.9 L149.3 905.4 L150.0 901.1 L150.7 903.2 L151.4 905.3 L152.1 905.0 L152.8 900.7 L153.5 900.1 L154.2 903.4 L154.9 902.9 L155.6 904.9 L156.3 904.7 L157.0 898.7 L157.7 903.4 L158.4 906.8 L159.1 901.8 L159.8 899.8 L160.5 903.8 L161.2 904.0 L161.9 904.1 L162.6 899.1 L163.3 895.0 L164.0 897.9 L164.7 899.0 L165.4 902.0 L166.1 899.1 L166.8 892.2 L167.5 893.7 L168.2 900.9 L168.9 900.6 L169.6 896.1 L170.3 897.2 L171.0 899.1 L171.7 899.8 L172.4 900.3 L173.1 897.9 L173.8 895.5 L174.5 895.7 L175.2 896.5 L175.9 888.0 L176.6 892.0 L177.3 893.0 L178.0 889.6 L178.7 893.1 L179.4 892.8 L180.1 896.0 L180.8 894.6 L181.5 896.9 L182.2 898.6 L182.9 894.6 L183.6 888.3 L184.3 887.9 L185.0 897.0 L185.7 892.9 L186.4 889.5 L187.1 891.4 L187.8 892.0 L188.5 894.5 L189.2 892.4 L189.9 890.5 L190.6 888.9 L191.3 890.7 L192.0 888.1 L192.7 893.6 L193.4 895.1 L194.1 883.6 L194.8 880.0 L195.5 892.3 L196.2 898.8 L196.9 887.4 L197.6 884.4 L198.3 889.3 L199.0 886.2 L199.7 885.9 L200.4 887.6 L201.1 889.9 L201.8 888.0 L202.5 888.9 L203.2 887.0 L203.9 884.4 L204.6 884.8 L205.3 883.9 L206.0 885.4 L206.7 882.1 L207.4 883.7 L208.1 891.5 L208.8 888.5 L209.5 887.3 L210.2 888.2 L210.9 885.4 L211.6 885.7 L212.3 888.1 L213.0 886.5 L213.7 883.0 L214.4 887.2 L215.1 883.4 L215.8 880.0 L216.5 880.5 L217.2 884.8 L217.9 889.8 L218.6 882.7 L219.3 882.0 L220.0 877.0 L220.7 883.5 L221.4 888.0 L222.1 884.1 L222.8 882.2 L223.5 885.4 L224.2 888.1 L224.9 889.9 L225.6 892.8 L226.3 886.4 L227.0 881.7 L227.7 882.6 L228.4 883.4 L229.1 883.9 L229.8 883.7 L230.5 882.1 L231.2 877.9 L231.9 883.8 L232.6 880.4 L233.3 878.5 L234.0 885.5 L234.7 889.2 L235.4 886.2 L236.1 882.7 L236.8 882.3 L237.5 893.5 L238.2 887.7 L238.9 877.8 L239.6 877.8 L240.3 879.6 L241.0 876.1 L241.7 880.1 L242.4 881.5 L243.1 887.0 L243.8 883.6 L244.5 872.0 L245.2 876.6 L245.9 876.3 L246.6 884.0 L247.3 883.8 L248.0 882.3 L248.7 879.7 L249.4 889.4 L250.1 889.9 L250.8 879.6 L251.5 880.5 L252.2 878.8 L252.9 878.7 L253.6 878.2 L254.3 885.8 L255.0 879.0 L255.7 879.3 L256.4 881.9 L257.1 878.8 L257.8 878.8 L258.5 878.5 L259.2 878.7 L259.9 876.0 L260.6 878.0 L261.3 879.6 L262.0 879.9 L262.7 881.0 L263.4 881.3 L264.1 883.9 L264.8 881.1 L265.5 880.1 L266.2 878.5 L266.9 877.6 L267.6 877.0 L268.3 881.3 L269.0 877.4 L269.7 878.4 L270.4 883.3 L271.1 883.9 L271.8 879.1 L272.5 874.8 L273.2 882.4 L273.9 882.7 L274.6 878.7 L275.3 883.7 L276.0 880.1 L276.7 878.4 L277.4 882.4 L278.1 883.4 L278.8 882.6 L279.5 880.1 L280.2 888.7 L280.9 882.3 L281.6 878.6 L282.3 884.9 L283.0 884.5 L283.7 885.4 L284.4 884.1 L285.1 884.9 L285.8 885.4 L286.5 883.7 L287.2 886.9 L287.9 883.8 L288.6 882.1 L289.3 885.8 L290.0 887.7 L290.7 885.0 L291.4 883.6 L292.1 886.0 L292.8 879.5 L293.5 881.0 L294.2 884.4 L294.9 882.0 L295.6 885.7 L296.3 888.2 L297.0 889.8 L297.7 884.5 L298.4 884.8 L299.1 885.8 L299.8 882.6 L300.5 896.4 L301.2 888.4 L301.9 886.0 L302.6 891.0 L303.3 887.7 L304.0 883.0 L304.7 890.5 L305.4 892.7 L306.1 888.5 L306.8 888.7 L307.5 890.4 L308.2 887.7 L308.9 891.1 L309.6 891.0 L310.3 886.9 L311.0 884.8 L311.7 887.8 L312.4 888.9 L313.1 894.4 L313.8 894.2 L314.5 895.2 L315.2 893.9 L315.9 892.7 L316.6 890.9 L317.3 896.5 L318.0 900.1 L318.7 893.6 L319.4 891.1 L320.1 892.3 L320.8 891.6 L321.5 891.6 L322.2 894.3 L322.9 895.7 L323.6 900.2 L324.3 897.5 L325.0 898.1 L325.7 899.6 L326.4 898.0 L327.1 901.0 L327.8 895.6 L328.5 893.6 L329.2 895.6 L329.9 896.0 L330.6 893.6 L331.3 895.8 L332.0 895.1 L332.7 902.9 L333.4 900.8 L334.1 897.6 L334.8 897.1 L335.5 899.2 L336.2 899.9 L336.9 897.8 L337.6 898.5 L338.3 901.1 L339.0 902.5 L339.7 907.6 L340.4 908.9 L341.1 906.1 L341.8 905.0 L342.5 901.7 L343.2 906.1 L343.9 906.5 L344.6 908.9 L345.3 909.6 L346.0 900.6 L346.7 904.1 L347.4 904.0 L348.1 906.6 L348.8 903.0 L349.5 904.8 L350.2 908.5 L350.9 910.2 L351.6 908.2 L352.3 905.3 L353.0 906.8 L353.7 911.1 L354.4 908.2 L355.1 904.5 L355.8 910.9 L356.5 912.5 L357.2 912.6 L357.9 910.5 L358.6 911.5 L359.3 908.3 L360.0 910.9 L360.7 910.4 L361.4 913.6 L362.1 914.3 L362.8 910.0 L363.5 910.8 L364.2 913.0 L364.9 916.5 L365.6 914.5 L366.3 909.7 L367.0 913.7 L367.7 917.6 L368.4 918.9 L369.1 909.7 L369.8 911.7 L370.5 916.3 L371.2 910.1 L371.9 910.0 L372.6 916.1 L373.3 918.0 L374.0 914.7 L374.7 916.8 L375.4 918.1 L376.1 920.9 L376.8 918.8 L377.5 919.1 L378.2 915.2 L378.9 916.1 L379.6 918.4 L380.3 922.0 L381.0 920.6 L381.7 917.8 L382.4 921.3 L383.1 922.4 L383.8 920.1 L384.5 919.3 L385.2 918.4 L385.9 916.1 L386.6 920.7 L387.3 921.9 L388.0 920.4 L388.7 922.7 L389.4 919.0 L390.1 920.0 L390.8 923.3 L391.5 927.7 L392.2 921.8 L392.9 925.5 L393.6 928.3 L394.3 928.0 L395.0 928.3 L395.7 922.1 L396.4 919.5 L397.1 925.7 L397.8 923.7 L398.5 924.1 L399.2 924.5 L399.9 930.1 L400.6 930.4 L401.3 927.4 L402.0 930.2 L402.7 929.4 L403.4 928.4 L404.1 928.7 L404.8 929.0 L405.5 931.0 L406.2 930.4 L406.9 929.7 L407.6 931.7 L408.3 929.3 L409.0 930.7 L409.7 932.8 L410.4 934.3 L411.1 931.8 L411.8 935.1 L412.5 932.6 L413.2 930.2 L413.9 929.7 L414.6 932.4 L415.3 931.2 L416.0 927.9 L416.7 927.5 L417.4 929.1 L418.1 930.7 L418.8 935.6 L419.5 937.4 L420.2 936.1 L420.9 933.9 L421.6 931.9 L422.3 933.4 L423.0 937.0 L423.7 940.1 L424.4 937.1 L425.1 933.4 L425.8 933.1 L426.5 931.9 L427.2 931.3 L427.9 933.1 L428.6 935.9 L429.3 939.2 L430.0 937.0 L430.7 939.4 L431.4 940.4 L432.1 937.7 L432.8 939.8 L433.5 938.0 L434.2 935.1 L434.9 936.0 L435.6 935.9 L436.3 935.2 L437.0 935.6 L437.7 936.9 L438.4 937.1 L439.1 934.8 L439.8 935.1 L440.5 933.5 L441.2 937.3 L441.9 939.4 L442.6 938.8 L443.3 939.2 L444.0 939.4 L444.7 937.0 L445.4 937.9 L446.1 940.7 L446.8 942.2 L447.5 942.8 L448.2 945.9 L448.9 942.1 L449.6 943.2 L450.3 943.9 L451.0 940.4 L451.7 937.7 L452.4 937.5 L453.1 941.4 L453.8 944.2 L454.5 943.0 L455.2 942.0 L455.9 941.5 L456.6 941.7 L457.3 937.8 L458.0 941.6 L458.7 942.0 L459.4 941.2 L460.1 946.3 L460.8 940.8 L461.5 939.2 L462.2 940.8 L462.9 944.9 L463.6 943.1 L464.3 945.5 L465.0 946.3 L465.7 944.5 L466.4 941.3 L467.1 943.6 L467.8 947.4 L468.5 942.6 L469.2 942.3 L469.9 944.9 L470.6 947.3 L471.3 947.2 L472.0 946.8 L472.7 944.5 L473.4 947.7 L474.1 946.9 L474.8 944.0 L475.5 950.2 L476.2 952.1 L476.9 946.4 L477.6 947.2 L478.3 949.0 L479.0 943.2 L479.7 940.7 L480.4 942.5 L481.1 944.7 L481.8 946.1 L482.5 948.6 L483.2 947.7 L483.9 945.4 L484.6 949.4 L485.3 953.2 L486.0 952.5 L486.7 951.1 L487.4 949.5 L488.1 949.9 L488.8 947.4 L489.5 949.5 L490.2 949.6 L490.9 951.5 L491.6 949.9 L492.3 946.9 L493.0 949.4 L493.7 951.2 L494.4 947.2 L495.1 946.9 L495.8 946.5 L496.5 946.4 L497.2 951.6 L497.9 953.7 L498.6 952.6 L499.3 951.0 L500.0 950.3 L500.7 950.2 L501.4 949.4 L502.1 952.5 L502.8 953.9 L503.5 952.9 L504.2 950.2 L504.9 950.5 L505.6 951.7 L506.3 954.8 L507.0 951.4 L507.7 947.6 L508.4 952.2 L509.1 956.1 L509.8 954.7 L510.5 953.9 L511.2 951.1 L511.9 946.5 L512.6 946.1 L513.3 948.2 L514.0 951.3 L514.7 953.2 L515.4 953.7 L516.1 952.7 L516.8 954.1 L517.5 952.1 L518.2 951.5 L518.9 953.5 L519.6 949.8 L520.3 946.0 L521.0 949.2 L521.7 950.8 L522.4 946.6 L523.1 950.5 L523.8 951.6 L524.5 949.4 L525.2 949.3 L525.9 951.4 L526.6 953.1 L527.3 956.3 L528.0 954.5 L528.7 950.4 L529.4 951.8 L530.1 956.2 L530.8 958.8 L531.5 956.4 L532.2 956.3 L532.9 958.4 L533.6 955.4 L534.3 953.1 L535.0 951.2 L535.7 954.1 L536.4 958.0 L537.1 953.2 L537.8 953.2 L538.5 952.2 L539.2 955.0 L539.9 956.8 L540.6 955.6 L541.3 957.0 L542.0 957.4 L542.7 957.7 L543.4 959.6 L544.1 957.9 L544.8 954.9 L545.5 953.5 L546.2 953.8 L546.9 956.0 L547.6 957.0 L548.3 962.2 L549.0 961.1 L549.7 956.4 L550.4 956.2 L551.1 958.1 L551.8 953.1 L552.5 954.7 L553.2 957.4 L553.9 954.8 L554.6 954.7 L555.3 955.9 L556.0 957.7 L556.7 957.5 L557.4 957.9 L558.1 958.2 L558.8 957.9 L559.5 958.7 L560.2 955.3 L560.9 952.7 L561.6 951.8 L562.3 952.6 L563.0 955.8 L563.7 959.2 L564.4 958.0 L565.1 955.8 L565.8 954.8 L566.5 955.8 L567.2 956.3 L567.9 955.7 L568.6 954.5 L569.3 956.8 L570.0 958.6 L570.7 954.4 L571.4 955.3 L572.1 954.2 L572.8 957.2 L573.5 956.0 L574.2 954.2 L574.9 958.8 L575.6 962.5 L576.3 960.8 L577.0 961.3 L577.7 958.4 L578.4 955.3 L579.1 958.9 L579.8 958.1 L580.5 957.0 L581.2 960.6 L581.9 960.6 L582.6 959.7 L583.3 961.1 L584.0 959.6 L584.7 960.8 L585.4 959.7 L586.1 960.9 L586.8 960.3 L587.5 963.7 L588.2 963.7 L588.9 964.1 L589.6 960.8 L590.3 961.1 L591.0 961.8 L591.7 956.9 L592.4 959.2 L593.1 963.8 L593.8 964.2 L594.5 964.3 L595.2 962.7 L595.9 963.0 L596.6 960.8 L597.3 958.8 L598.0 958.5 L598.7 960.5 L599.4 961.2 L600.1 959.5 L600.8 955.0 L601.5 957.1 L602.2 961.1 L602.9 963.0 L603.6 961.8 L604.3 960.0 L605.0 959.6 L605.7 965.1 L606.4 963.3 L607.1 966.7 L607.8 967.3 L608.5 964.5 L609.2 962.7 L609.9 962.9 L610.6 961.7 L611.3 963.5 L612.0 964.1 L612.7 965.2 L613.4 966.7 L614.1 967.2 L614.8 964.6 L615.5 965.1 L616.2 962.5 L616.9 961.6 L617.6 961.8 L618.3 962.4 L619.0 965.8 L619.7 966.9 L620.4 966.9 L621.1 964.9 L621.8 964.3 L622.5 962.7 L623.2 962.1 L623.9 964.6 L624.6 964.4 L625.3 962.8 L626.0 963.9 L626.7 961.4 L627.4 962.8 L628.1 962.9 L628.8 962.6 L629.5 962.8 L630.2 965.9 L630.9 966.7 L631.6 967.0 L632.3 964.8 L633.0 962.2 L633.7 962.6 L634.4 962.6 L635.1 965.5 L635.8 967.3 L636.5 965.6 L637.2 963.6 L637.9 963.9 L638.6 964.2 L639.3 962.4 L640.0 964.4 L640.7 965.0 L641.4 963.8 L642.1 964.0 L642.8 964.6 L643.5 963.2 L644.2 963.5 L644.9 966.1 L645.6 966.7 L646.3 967.7 L647.0 963.3 L647.7 962.0 L648.4 966.4 L649.1 967.0 L649.8 963.7 L650.5 962.3 L651.2 963.5 L651.9 962.0 L652.6 962.7 L653.3 961.2 L654.0 962.7 L654.7 961.4 L655.4 964.7 L656.1 967.9 L656.8 966.2 L657.5 966.4 L658.2 964.4 L658.9 962.9 L659.6 963.1 L660.3 966.7 L661.0 967.0 L661.7 967.9 L662.4 964.4 L663.1 964.8 L663.8 966.5 L664.5 969.3 L665.2 969.4 L665.9 965.1 L666.6 962.7 L667.3 963.0 L668.0 967.3 L668.7 966.2 L669.4 964.8 L670.1 964.3 L670.8 960.7 L671.5 962.2 L672.2 967.0 L672.9 967.4 L673.6 966.1 L674.3 964.8 L675.0 967.6 L675.7 969.0 L676.4 965.0 L677.1 965.4 L677.8 965.7 L678.5 966.7 L679.2 966.5 L679.9 965.6 L680.6 964.7 L681.3 965.6 L682.0 965.2 L682.7 965.8 L683.4 966.6 L684.1 967.2 L684.8 965.6 L685.5 966.1 L686.2 968.1 L686.9 966.5 L687.6 966.4 L688.3 968.0 L689.0 967.5 L689.7 966.9 L690.4 966.3 L691.1 964.7 L691.8 967.4 L692.5 969.4 L693.2 967.4 L693.9 964.3 L694.6 965.8 L695.3 965.0 L696.0 965.8 L696.7 966.1 L697.4 965.2 L698.1 968.2 L698.8 967.5 L699.5 968.2 L700.2 968.7 L700.9 969.8 L701.6 968.5 L702.3 964.6 L703.0 964.7 L703.7 962.6 L704.4 965.0 L705.1 967.9 L705.8 969.1 L706.5 968.9 L707.2 966.6 L707.9 966.8 L708.6 967.3 L709.3 969.4 L710.0 969.5 L710.7 968.4 L711.4 972.7 L712.1 968.0 L712.8 965.9 L713.5 967.4 L714.2 968.1 L714.9 967.1 L715.6 966.0 L716.3 968.3 L717.0 967.7 L717.7 969.4 L718.4 968.5 L719.1 963.9 L719.8 963.0 L720.5 963.7 L721.2 965.8 L721.9 966.2 L722.6 965.9 L723.3 964.7 L724.0 966.8 L724.7 967.7 L725.4 963.9 L726.1 964.7 L726.8 965.8 L727.5 965.3 L728.2 966.0 L728.9 969.1 L729.6 969.0 L730.3 967.1 L731.0 965.6 L731.7 969.0 L732.4 966.7 L733.1 964.2 L733.8 964.0 L734.5 965.2 L735.2 968.7 L735.9 966.5 L736.6 964.1 L737.3 961.5 L738.0 964.5 L738.7 962.8 L739.4 962.6 L740.1 964.8 L740.8 963.9 L741.5 966.3 L742.2 966.1 L742.9 961.9 L743.6 962.5 L744.3 961.5 L745.0 963.9 L745.7 965.2 L746.4 963.2 L747.1 966.5 L747.8 963.9 L748.5 961.7 L749.2 963.5 L749.9 964.5 L750.6 961.8 L751.3 962.3 L752.0 961.8 L752.7 965.1 L753.4 964.2 L754.1 963.3 L754.8 964.3 L755.5 961.3 L756.2 962.8 L756.9 966.2 L757.6 964.5 L758.3 965.5 L759.0 963.6 L759.7 961.5 L760.4 961.9 L761.1 962.4 L761.8 961.4 L762.5 960.3 L763.2 959.7 L763.9 959.2 L764.6 961.8 L765.3 963.3 L766.0 962.6 L766.7 959.4 L767.4 962.3 L768.1 961.4 L768.8 959.0 L769.5 961.4 L770.2 963.3 L770.9 963.2 L771.6 963.5 L772.3 963.9 L773.0 963.3 L773.7 960.3 L774.4 956.6 L775.1 958.5 L775.8 960.7 L776.5 960.4 L777.2 962.0 L777.9 962.4 L778.6 962.0 L779.3 963.3 L780.0 959.9 L780.7 961.1 L781.4 959.2 L782.1 958.5 L782.8 960.2 L783.5 959.4 L784.2 960.3 L784.9 957.8 L785.6 958.4 L786.3 957.6 L787.0 958.1 L787.7 957.7 L788.4 957.1 L789.1 958.9 L789.8 956.3 L790.5 956.7 L791.2 960.4 L791.9 961.3 L792.6 960.5 L793.3 960.7 L794.0 962.2 L794.7 956.7 L795.4 955.3 L796.1 956.1 L796.8 959.2 L797.5 959.4 L798.2 960.5 L798.9 959.9 L799.6 957.0 L800.3 954.9 L801.0 956.0 L801.7 961.4 L802.4 960.5 L803.1 958.3 L803.8 956.2 L804.5 955.7 L805.2 955.4 L805.9 954.0 L806.6 951.1 L807.3 954.3 L808.0 955.3 L808.7 956.3 L809.4 956.8 L810.1 957.4 L810.8 956.4 L811.5 955.4 L812.2 949.8 L812.9 952.3 L813.6 957.0 L814.3 953.1 L815.0 953.7 L815.7 955.2 L816.4 953.3 L817.1 954.2 L817.8 950.3 L818.5 948.1 L819.2 948.6 L819.9 949.1 L820.6 951.9 L821.3 952.5 L822.0 952.6 L822.7 952.1 L823.4 956.9 L824.1 953.3 L824.8 951.8 L825.5 952.2 L826.2 950.5 L826.9 949.4 L827.6 950.9 L828.3 952.7 L829.0 952.5 L829.7 951.7 L830.4 948.2 L831.1 948.2 L831.8 952.4 L832.5 949.4 L833.2 949.5 L833.9 950.6 L834.6 950.2 L835.3 944.7 L836.0 944.6 L836.7 945.0 L837.4 943.6 L838.1 940.1 L838.8 941.8 L839.5 938.7 L840.2 944.0 L840.9 946.4 L841.6 945.2 L842.3 942.2 L843.0 944.4 L843.7 941.1 L844.4 938.8 L845.1 938.9 L845.8 939.8 L846.5 942.4 L847.2 942.4 L847.9 936.6 L848.6 939.0 L849.3 942.8 L850.0 942.0 L850.7 940.5 L851.4 937.4 L852.1 939.8 L852.8 936.4 L853.5 939.4 L854.2 943.6 L854.9 944.5 L855.6 941.5 L856.3 940.1 L857.0 936.5 L857.7 936.7 L858.4 939.8 L859.1 937.7 L859.8 935.4 L860.5 933.0 L861.2 936.1 L861.9 937.2 L862.6 933.9 L863.3 934.9 L864.0 939.2 L864.7 936.6 L865.4 933.5 L866.1 931.2 L866.8 931.9 L867.5 934.3 L868.2 937.1 L868.9 934.8 L869.6 937.3 L870.3 932.3 L871.0 932.5 L871.7 935.0 L872.4 932.5 L873.1 930.5 L873.8 932.2 L874.5 932.4 L875.2 928.2 L875.9 930.3 L876.6 931.4 L877.3 931.5 L878.0 933.1 L878.7 930.5 L879.4 930.2 L880.1 931.8 L880.8 933.1 L881.5 932.4 L882.2 934.2 L882.9 930.7 L883.6 932.9 L884.3 929.3 L885.0 929.8 L885.7 933.0 L886.4 936.9 L887.1 934.0 L887.8 930.8 L888.5 933.1 L889.2 929.8 L889.9 927.9 L890.6 930.4 L891.3 931.0 L892.0 931.7 L892.7 929.0 L893.4 930.4 L894.1 931.4 L894.8 930.3 L895.5 928.6 L896.2 927.7 L896.9 930.8 L897.6 930.3 L898.3 929.9 L899.0 928.1 L899.7 927.5 L900.4 925.8 L901.1 928.5 L901.8 930.7 L902.5 930.1 L903.2 931.2 L903.9 931.1 L904.6 932.3 L905.3 927.8 L906.0 924.3 L906.7 928.3 L907.4 927.7 L908.1 926.4 L908.8 929.9 L909.5 930.4 L910.2 930.0 L910.9 928.5 L911.6 929.4 L912.3 931.2 L913.0 933.5 L913.7 928.7 L914.4 928.9 L915.1 928.9 L915.8 923.7 L916.5 925.5 L917.2 932.7 L917.9 927.0 L918.6 929.2 L919.3 927.3 L920.0 925.6 L920.7 923.3 L921.4 926.7 L922.1 930.4 L922.8 927.6 L923.5 931.1 L924.2 933.3 L924.9 935.7 L925.6 931.9 L926.3 934.4 L927.0 933.9 L927.7 929.5 L928.4 927.5 L929.1 932.8 L929.8 928.4 L930.5 929.8 L931.2 934.3 L931.9 934.6 L932.6 930.4 L933.3 931.0 L934.0 932.3 L934.7 937.1 L935.4 938.5 L936.1 930.5 L936.8 931.6 L937.5 926.2 L938.2 930.2 L938.9 932.0 L939.6 938.0 L940.3 935.2 L941.0 932.0 L941.7 932.1 L942.4 933.0 L943.1 934.9 L943.8 935.5 L944.5 938.3 L945.2 940.9 L945.9 938.3 L946.6 932.8 L947.3 931.4 L948.0 934.9 L948.7 939.3 L949.4 937.2 L950.1 936.2 L950.8 937.1 L951.5 934.2 L952.2 935.2 L952.9 939.1 L953.6 938.3 L954.3 938.1 L955.0 939.4 L955.7 937.9 L956.4 937.3 L957.1 938.7 L957.8 941.2 L958.5 939.9 L959.2 937.3 L959.9 939.4 L960.6 943.3 L961.3 944.9 L962.0 939.8 L962.7 941.0 L963.4 941.5 L964.1 943.6 L964.8 944.4 L965.5 946.0 L966.2 943.9 L966.9 941.0 L967.6 941.1 L968.3 943.5 L969.0 945.7 L969.7 950.1 L970.4 948.0 L971.1 942.2 L971.8 942.8 L972.5 940.0 L973.2 939.9 L973.9 945.3 L974.6 945.7 L975.3 943.9 L976.0 947.5 L976.7 943.4 L977.4 942.6 L978.1 946.6 L978.8 946.9 L979.5 946.0 L980.2 946.4 L980.9 947.2 L981.6 946.8 L982.3 945.7 L983.0 942.5 L983.7 944.2 L984.4 948.3 L985.1 947.7 L985.8 950.4 L986.5 952.0 L987.2 949.6 L987.9 951.4 L988.6 955.1 L989.3 954.2 L990.0 955.9 L990.7 955.7 L991.4 953.6 L992.1 951.0 L992.8 949.0 L993.5 949.3 L994.2 952.7 L994.9 953.5 L995.6 953.1 L996.3 954.2 L997.0 953.1 L997.7 955.3 L998.4 954.4 L999.1 953.8 L999.8 954.0 L1000.5 955.7 L1001.2 958.7 L1001.9 953.1 L1002.6 955.2 L1003.3 958.3 L1004.0 957.5 L1004.7 956.5 L1005.4 958.6 L1006.1 954.2 L1006.8 953.4 L1007.5 956.0 L1008.2 952.7 L1008.9 951.8 L1009.6 957.9 L1010.3 959.7 L1011.0 959.1 L1011.7 957.2 L1012.4 957.4 L1013.1 957.2 L1013.8 961.5 L1014.5 961.3 L1015.2 959.3 L1015.9 955.8 L1016.6 960.1 L1017.3 963.0 L1018.0 962.8 L1018.7 961.4 L1019.4 959.6 L1020.1 959.2 L1020.8 960.8 L1021.5 960.9 L1022.2 960.3 L1022.9 960.4 L1023.6 962.4 L1024.3 958.9 L1025.0 959.2 L1025.7 959.8 L1026.4 962.9 L1027.1 964.5 L1027.8 964.2 L1028.5 962.1 L1029.2 959.8 L1029.9 964.4 L1030.6 963.1 L1031.3 961.2 L1032.0 961.0 L1032.7 960.9 L1033.4 962.2 L1034.1 962.1 L1034.8 959.6 L1035.5 956.6 L1036.2 960.5 L1036.9 963.0 L1037.6 963.0 L1038.3 962.2 L1039.0 963.4 L1039.7 964.0 L1040.4 962.7 L1041.1 963.7 L1041.8 958.8 L1042.5 958.5 L1043.2 958.8 L1043.9 957.0 L1044.6 960.1 L1045.3 965.1 L1046.0 965.8 L1046.7 964.6 L1047.4 966.3 L1048.1 964.1 L1048.8 962.4 L1049.5 963.2 L1050.2 963.5 L1050.9 963.7 L1051.6 961.5 L1052.3 964.2 L1053.0 963.6 L1053.7 964.0 L1054.4 961.1 L1055.1 962.1 L1055.8 964.2 L1056.5 964.9 L1057.2 963.1 L1057.9 966.6 L1058.6 965.5 L1059.3 964.1 L1060.0 966.1 L1060.7 965.7 L1061.4 967.7 L1062.1 969.6 L1062.8 966.8 L1063.5 963.8 L1064.2 963.9 L1064.9 965.7 L1065.6 965.2 L1066.3 963.2 L1067.0 963.7 L1067.7 967.1 L1068.4 968.2 L1069.1 962.1 L1069.8 965.0 L1070.5 965.7 L1071.2 967.1 L1071.9 967.4 L1072.6 965.5 L1073.3 963.1 L1074.0 961.7 L1074.7 962.3 L1075.4 966.9 L1076.1 965.9 L1076.8 964.8 L1077.5 964.6 L1078.2 963.8 L1078.9 966.7 L1079.6 969.3 L1080.3 968.2 L1081.0 964.9 L1081.7 967.6 L1082.4 964.9 L1083.1 962.2 L1083.8 963.1 L1084.5 964.4 L1085.2 965.8 L1085.9 964.3 L1086.6 963.7 L1087.3 966.8 L1088.0 969.9 L1088.7 967.1 L1089.4 967.7 L1090.1 969.0 L1090.8 971.0 L1091.5 966.1 L1092.2 967.8 L1092.9 965.6 L1093.6 965.9 L1094.3 968.8 L1095.0 972.8 L1095.7 967.2 L1096.4 965.0 L1097.1 968.8 L1097.8 967.1 L1098.5 967.3 L1099.2 968.1 L1099.9 968.3 L1100.6 968.2 L1101.3 968.9 L1102.0 969.7 L1102.7 969.9 L1103.4 967.9 L1104.1 966.6 L1104.8 966.8 L1105.5 969.2 L1106.2 969.3 L1106.9 970.1 L1107.6 971.0 L1108.3 972.2 L1109.0 970.7 L1109.7 969.9 L1110.4 967.1 L1111.1 966.8 L1111.8 967.7 L1112.5 967.6 L1113.2 969.4 L1113.9 967.7 L1114.6 967.9 L1115.3 965.1 L1116.0 966.6 L1116.7 968.6 L1117.4 968.4 L1118.1 966.9 L1118.8 969.8 L1119.5 972.1 L1120.2 971.4 L1120.9 969.2 L1121.6 968.4 L1122.3 968.4 L1123.0 971.6 L1123.7 972.9 L1124.4 969.6 L1125.1 967.7 L1125.8 970.5 L1126.5 970.7 L1127.2 966.8 L1127.9 970.8 L1128.6 974.9 L1129.3 973.6 L1130.0 972.5 L1130.7 972.5 L1131.4 972.6 L1132.1 969.8 L1132.8 969.7 L1133.5 971.3 L1134.2 970.7 L1134.9 970.7 L1135.6 969.0 L1136.3 972.3 L1137.0 973.4 L1137.7 972.3 L1138.4 972.9 L1139.1 974.1 L1139.8 970.6 L1140.5 969.5 L1141.2 969.7 L1141.9 970.5 L1142.6 970.4 L1143.3 971.6 L1144.0 970.7 L1144.7 969.1 L1145.4 969.9 L1146.1 973.7 L1146.8 972.9 L1147.5 972.3 L1148.2 972.6 L1148.9 973.0 L1149.6 974.3 L1150.3 973.9 L1151.0 971.9 L1151.7 971.0 L1152.4 970.4 L1153.1 971.3 L1153.8 974.4 L1154.5 971.6 L1155.2 969.4 L1155.9 970.8 L1156.6 972.0 L1157.3 973.3 L1158.0 972.6 L1158.7 974.2 L1159.4 975.1 L1160.1 976.9 L1160.8 979.1 L1161.5 979.9 L1162.2 976.8 L1162.9 972.6 L1163.6 973.0 L1164.3 975.2 L1165.0 977.8 L1165.7 976.7 L1166.4 976.4 L1167.1 974.9 L1167.8 975.5 L1168.5 975.6 L1169.2 974.5 L1169.9 976.0 L1170.6 976.5 L1171.3 975.4 L1172.0 976.9 L1172.7 977.8 L1173.4 975.7 L1174.1 974.8 L1174.8 974.2 L1175.5 974.0 L1176.2 974.8 L1176.9 974.4 L1177.6 974.1 L1178.3 973.2 L1179.0 972.1 L1179.7 973.3 L1180.4 974.9 L1181.1 973.4 L1181.8 974.6 L1182.5 978.1 L1183.2 977.6 L1183.9 975.2 L1184.6 975.9 L1185.3 975.6 L1186.0 977.5 L1186.7 975.6 L1187.4 976.2 L1188.1 977.5 L1188.8 975.7 L1189.5 977.1 L1190.2 975.3 L1190.9 975.8 L1191.6 975.6 L1192.3 975.8 L1193.0 976.2 L1193.7 975.6 L1194.4 975.0 L1195.1 977.3 L1195.8 978.2 L1196.5 979.1 L1197.2 978.3 L1197.9 975.5 L1198.6 978.3 L1199.3 978.7 L1200.0 976.7 L1200.7 978.5 L1201.4 979.0 L1202.1 975.9 L1202.8 974.3 L1203.5 976.8 L1204.2 980.9 L1204.9 977.9 L1205.6 975.1 L1206.3 975.6 L1207.0 975.3 L1207.7 976.1 L1208.4 976.0 L1209.1 973.6 L1209.8 977.3 L1210.5 979.4 L1211.2 977.5 L1211.9 977.2 L1212.6 978.3 L1213.3 975.6 L1214.0 974.6 L1214.7 975.0 L1215.4 977.0 L1216.1 978.2 L1216.8 978.1 L1217.5 979.0 L1218.2 979.6 L1218.9 978.7 L1219.6 977.0 L1220.3 977.9 L1221.0 979.4 L1221.7 977.1 L1222.4 977.3 L1223.1 977.5 L1223.8 977.5 L1224.5 976.2 L1225.2 977.1 L1225.9 982.0 L1226.6 980.7 L1227.3 977.9 L1228.0 978.5 L1228.7 979.5 L1229.4 978.8 L1230.1 979.3 L1230.8 978.1 L1231.5 978.1 L1232.2 978.5 L1232.9 977.3 L1233.6 975.4 L1234.3 978.2 L1235.0 979.7 L1235.7 979.5 L1236.4 978.2 L1237.1 979.4 L1237.8 979.0 L1238.5 976.1 L1239.2 975.8 L1239.9 978.8 L1240.6 978.8 L1241.3 981.4 L1242.0 982.8 L1242.7 979.4 L1243.4 978.5 L1244.1 979.7 L1244.8 980.2 L1245.5 979.0 L1246.2 981.5 L1246.9 982.1 L1247.6 981.1 L1248.3 979.9 L1249.0 981.4 L1249.7 981.1 L1250.4 979.6 L1251.1 982.4 L1251.8 980.8 L1252.5 980.4 L1253.2 979.8 L1253.9 981.1 L1254.6 981.8 L1255.3 979.1 L1256.0 977.6 L1256.7 978.6 L1257.4 978.2 L1258.1 978.9 L1258.8 980.0 L1259.5 981.0 L1260.2 981.9 L1260.9 979.9 L1261.6 980.5 L1262.3 980.7 L1263.0 983.4 L1263.7 984.9 L1264.4 982.9 L1265.1 983.0 L1265.8 980.2 L1266.5 978.0 L1267.2 977.9 L1267.9 977.9 L1268.6 978.9 L1269.3 980.8 L1270.0 982.8 L1270.7 982.7 L1271.4 981.8 L1272.1 980.5 L1272.8 980.0 L1273.5 981.0 L1274.2 981.5 L1274.9 981.8 L1275.6 981.9 L1276.3 980.6 L1277.0 978.3 L1277.7 978.8 L1278.4 980.6 L1279.1 983.3 L1279.8 981.9 L1280.5 982.9 L1281.2 984.0 L1281.9 982.6 L1282.6 981.2 L1283.3 980.8 L1284.0 980.5 L1284.7 982.3 L1285.4 983.8 L1286.1 983.5 L1286.8 983.6 L1287.5 984.1 L1288.2 984.8 L1288.9 982.2 L1289.6 982.5 L1290.3 983.8 L1291.0 983.3 L1291.7 979.5 L1292.4 980.7 L1293.1 981.6 L1293.8 981.5 L1294.5 983.4 L1295.2 983.2 L1295.9 981.7 L1296.6 980.0 L1297.3 980.1 L1298.0 981.3 L1298.7 982.7 L1299.4 980.8 L1300.1 979.3 L1300.8 980.2 L1301.5 982.5 L1302.2 986.1 L1302.9 987.0 L1303.6 984.0 L1304.3 984.9 L1305.0 986.1 L1305.7 985.6 L1306.4 983.3 L1307.1 981.6 L1307.8 981.7 L1308.5 981.1 L1309.2 983.5 L1309.9 984.1 L1310.6 981.6 L1311.3 983.1 L1312.0 984.6 L1312.7 986.1 L1313.4 986.4 L1314.1 985.2 L1314.8 983.2 L1315.5 983.7 L1316.2 985.2 L1316.9 983.7 L1317.6 984.4 L1318.3 986.2 L1319.0 984.4 L1319.7 982.4 L1320.4 983.6 L1321.1 984.9 L1321.8 984.8 L1322.5 986.3 L1323.2 986.2 L1323.9 983.9 L1324.6 983.6 L1325.3 983.7 L1326.0 983.1 L1326.7 984.5 L1327.4 984.8 L1328.1 985.4 L1328.8 983.9 L1329.5 984.1 L1330.2 986.4 L1330.9 984.1 L1331.6 983.5 L1332.3 983.6 L1333.0 983.9 L1333.7 983.7 L1334.4 984.3 L1335.1 983.9 L1335.8 984.4 L1336.5 985.6 L1337.2 986.3 L1337.9 985.7 L1338.6 984.6 L1339.3 985.4 L1340.0 985.2 L1340.7 984.5 L1341.4 983.4 L1342.1 985.5 L1342.8 986.1 L1343.5 987.8 L1344.2 986.5 L1344.9 983.8 L1345.6 983.8 L1346.3 986.2 L1347.0 985.2 L1347.7 986.1 L1348.4 986.3 L1349.1 988.2 L1349.8 987.2 L1350.5 988.2 L1351.2 987.8 L1351.9 985.6 L1352.6 985.8 L1353.3 987.6 L1354.0 986.2 L1354.7 985.3 L1355.4 988.1 L1356.1 989.6 L1356.8 987.5 L1357.5 987.8 L1358.2 987.0 L1358.9 987.7 L1359.6 986.9 L1360.3 988.0 L1361.0 987.4 L1361.7 986.4 L1362.4 986.4 L1363.1 985.4 L1363.8 984.4 L1364.5 984.7 L1365.2 985.6 L1365.9 985.3 L1366.6 986.8 L1367.3 987.5 L1368.0 987.1 L1368.7 986.1 L1369.4 986.5 L1370.1 987.1 L1370.8 988.0 L1371.5 986.0 L1372.2 985.8 L1372.9 986.2 L1373.6 986.2 L1374.3 985.6 L1375.0 986.1 L1375.7 987.6 L1376.4 986.7 L1377.1 988.5 L1377.8 990.1 L1378.5 988.5 L1379.2 985.5 L1379.9 987.4 L1380.6 988.0 L1381.3 987.3 L1382.0 985.5 L1382.7 987.0 L1383.4 986.5 L1384.1 988.7 L1384.8 989.8 L1385.5 990.5 L1386.2 987.2 L1386.9 985.7 L1387.6 988.4 L1388.3 988.7 L1389.0 987.8 L1389.7 989.3 L1390.4 988.4 L1391.1 986.2 L1391.8 986.7 L1392.5 987.1 L1393.2 987.6 L1393.9 987.8 L1394.6 987.1 L1395.3 987.8 L1396.0 988.7 L1396.7 988.2 L1397.4 987.8 L1398.1 987.8 L1398.8 987.4 L1399.5 986.1 L1400.2 987.6 L1400.9 987.4 L1401.6 987.8 L1402.3 987.2 L1403.0 989.3 L1403.7 988.8 L1404.4 987.3 L1405.1 988.3 L1405.8 988.6 L1406.5 990.9 L1407.2 989.8 L1407.9 988.3 L1408.6 989.0 L1409.3 989.5 L1410.0 990.6 L1410.7 990.2 L1411.4 989.6 L1412.1 988.4 L1412.8 990.6 L1413.5 992.3 L1414.2 990.9 L1414.9 989.7 L1415.6 989.4 L1416.3 988.6 L1417.0 989.1 L1417.7 988.5 L1418.4 989.3 L1419.1 989.1 L1419.8 988.9 L1420.5 989.7 L1421.2 988.4 L1421.9 989.0 L1422.6 989.1 L1423.3 992.3 L1424.0 993.2 L1424.7 992.4 L1425.4 992.8 L1426.1 991.7 L1426.8 990.9 L1427.5 989.7 L1428.2 989.2 L1428.9 990.0 L1429.6 989.7 L1430.3 990.0 L1431.0 991.1 L1431.7 990.1 L1432.4 988.7 L1433.1 989.6 L1433.8 989.6 L1434.5 989.7 L1435.2 989.7 L1435.9 992.3 L1436.6 992.9 L1437.3 990.4 L1438.0 991.4 L1438.7 991.4 L1439.4 989.9 L1440.1 991.1 L1440.8 992.8 L1441.5 992.9 L1442.2 992.7 L1442.9 990.0 L1443.6 989.9 L1444.3 991.3 L1445.0 991.6 L1445.7 991.2 L1446.4 990.6 L1447.1 990.4 L1447.8 990.6 L1448.5 990.7 L1449.2 988.9 L1449.9 992.0 L1450.6 990.8 L1451.3 989.8 L1452.0 991.1 L1452.7 990.2 L1453.4 991.3 L1454.1 991.4 L1454.8 992.3 L1455.5 993.0 L1456.2 993.1 L1456.9 991.4 L1457.6 991.1 L1458.3 991.1 L1459.0 990.3 L1459.7 991.9 L1460.4 991.6 L1461.1 990.7 L1461.8 993.1 L1462.5 993.2 L1463.2 991.0 L1463.9 992.4 L1464.6 993.7 L1465.3 992.9 L1466.0 990.7 L1466.7 990.1 L1467.4 991.2 L1468.1 991.4 L1468.8 991.8 L1469.5 992.1 L1470.2 992.4 L1470.9 991.6 L1471.6 992.7 L1472.3 995.2 L1473.0 993.2 L1473.7 993.0 L1474.4 992.8 L1475.1 992.2 L1475.8 991.4 L1476.5 992.5 L1477.2 992.6 L1477.9 993.8 L1478.6 994.8 L1479.3 993.4 L1480.0 992.9 L1480.7 991.4" stroke-width="3.6" stroke-linejoin="miter" stroke-miterlimit="2"/></g>
<g fill="none" stroke="#ff0000" stroke-linecap="butt"><path d="M109.4 861.1 L110.1 860.5 L110.8 857.8 L111.5 860.0 L112.2 861.5 L112.9 863.5 L113.6 862.4 L114.3 861.4 L115.0 861.0 L115.7 861.1 L116.4 860.4 L117.1 860.5 L117.8 858.6 L118.5 859.3 L119.2 859.4 L119.9 860.7 L120.6 859.5 L121.3 859.6 L122.0 858.0 L122.7 859.3 L123.4 859.3 L124.1 860.4 L124.8 859.9 L125.5 858.5 L126.2 858.9 L126.9 860.4 L127.6 859.7 L128.3 856.9 L129.0 853.2 L129.7 855.6 L130.4 857.4 L131.1 859.9 L131.8 859.7 L132.5 859.6 L133.2 858.7 L133.9 857.6 L134.6 858.2 L135.3 856.5 L136.0 856.1 L136.7 855.4 L137.4 858.3 L138.1 857.8 L138.8 856.2 L139.5 853.6 L140.2 855.3 L140.9 856.0 L141.6 857.9 L142.3 854.8 L143.0 856.0 L143.7 855.6 L144.4 855.9 L145.1 854.8 L145.8 854.8 L146.5 856.3 L147.2 857.0 L147.9 858.1 L148.6 858.2 L149.3 856.7 L150.0 853.2 L150.7 853.5 L151.4 853.5 L152.1 854.0 L152.8 853.1 L153.5 853.8 L154.2 852.8 L154.9 851.1 L155.6 847.7 L156.3 850.0 L157.0 851.6 L157.7 855.7 L158.4 854.3 L159.1 853.3 L159.8 852.1 L160.5 851.9 L161.2 851.3 L161.9 849.7 L162.6 851.6 L163.3 853.2 L164.0 854.5 L164.7 852.2 L165.4 851.0 L166.1 851.4 L166.8 851.4 L167.5 851.3 L168.2 850.0 L168.9 849.1 L169.6 850.0 L170.3 851.3 L171.0 851.2 L171.7 852.5 L172.4 850.4 L173.1 851.4 L173.8 848.8 L174.5 849.2 L175.2 849.0 L175.9 849.3 L176.6 848.7 L177.3 847.8 L178.0 847.2 L178.7 846.2 L179.4 846.5 L180.1 847.7 L180.8 850.3 L181.5 851.2 L182.2 853.3 L182.9 852.6 L183.6 851.3 L184.3 850.5 L185.0 848.9 L185.7 850.3 L186.4 847.1 L187.1 848.6 L187.8 845.2 L188.5 847.1 L189.2 846.5 L189.9 847.4 L190.6 848.2 L191.3 849.1 L192.0 850.1 L192.7 847.3 L193.4 846.3 L194.1 845.9 L194.8 847.5 L195.5 848.3 L196.2 847.6 L196.9 846.1 L197.6 844.5 L198.3 843.6 L199.0 843.4 L199.7 843.8 L200.4 845.9 L201.1 847.9 L201.8 847.0 L202.5 846.7 L203.2 844.6 L203.9 847.7 L204.6 846.9 L205.3 847.9 L206.0 844.3 L206.7 843.4 L207.4 842.9 L208.1 843.4 L208.8 844.5 L209.5 842.4 L210.2 843.4 L210.9 841.9 L211.6 845.5 L212.3 844.3 L213.0 846.4 L213.7 842.7 L214.4 843.4 L215.1 841.0 L215.8 842.0 L216.5 841.4 L217.2 841.9 L217.9 842.6 L218.6 843.4 L219.3 844.4 L220.0 843.9 L220.7 841.4 L221.4 839.6 L222.1 839.4 L222.8 838.4 L223.5 840.1 L224.2 840.0 L224.9 842.0 L225.6 842.2 L226.3 843.1 L227.0 843.6 L227.7 841.3 L228.4 840.8 L229.1 840.8 L229.8 840.9 L230.5 841.6 L231.2 841.7 L231.9 840.4 L232.6 839.3 L233.3 837.2 L234.0 840.6 L234.7 841.4 L235.4 841.5 L236.1 839.1 L236.8 838.2 L237.5 839.1 L238.2 841.8 L238.9 842.5 L239.6 842.4 L240.3 841.2 L241.0 837.9 L241.7 838.6 L242.4 838.8 L243.1 840.9 L243.8 839.7 L244.5 839.3 L245.2 841.7 L245.9 842.7 L246.6 840.7 L247.3 840.1 L248.0 837.7 L248.7 839.5 L249.4 837.1 L250.1 840.4 L250.8 838.8 L251.5 841.0 L252.2 840.2 L252.9 839.2 L253.6 835.4 L254.3 834.6 L255.0 838.1 L255.7 840.6 L256.4 841.0 L257.1 839.3 L257.8 840.0 L258.5 840.4 L259.2 841.0 L259.9 839.0 L260.6 840.0 L261.3 841.2 L262.0 840.9 L262.7 842.2 L263.4 841.5 L264.1 842.5 L264.8 837.6 L265.5 837.6 L266.2 838.8 L266.9 840.4 L267.6 837.6 L268.3 838.3 L269.0 838.3 L269.7 839.9 L270.4 841.9 L271.1 845.1 L271.8 846.7 L272.5 843.0 L273.2 841.3 L273.9 837.6 L274.6 838.3 L275.3 836.7 L276.0 837.9 L276.7 836.0 L277.4 837.5 L278.1 839.1 L278.8 841.1 L279.5 841.5 L280.2 840.5 L280.9 838.9 L281.6 835.9 L282.3 836.6 L283.0 838.9 L283.7 840.8 L284.4 841.9 L285.1 839.7 L285.8 839.4 L286.5 837.8 L287.2 837.7 L287.9 840.4 L288.6 842.3 L289.3 842.9 L290.0 839.9 L290.7 838.8 L291.4 838.1 L292.1 839.5 L292.8 838.0 L293.5 839.3 L294.2 837.6 L294.9 838.6 L295.6 837.5 L296.3 836.9 L297.0 836.3 L297.7 837.1 L298.4 838.6 L299.1 839.8 L299.8 842.3 L300.5 843.6 L301.2 843.3 L301.9 842.4 L302.6 840.7 L303.3 842.6 L304.0 842.2 L304.7 841.2 L305.4 840.1 L306.1 840.1 L306.8 838.2 L307.5 836.0 L308.2 833.8 L308.9 833.7 L309.6 832.1 L310.3 830.1 L311.0 831.5 L311.7 831.6 L312.4 834.5 L313.1 831.7 L313.8 830.7 L314.5 824.7 L315.2 821.0 L315.9 809.2 L316.6 795.1 L317.3 778.0 L318.0 769.9 L318.7 769.5 L319.4 764.7 L320.1 755.1 L320.8 743.7 L321.5 740.9 L322.2 739.7 L322.9 736.7 L323.6 727.0 L324.3 615.6 L325.0 726.9 L325.7 739.5 L326.4 747.3 L327.1 762.7 L327.8 790.1 L328.5 811.9 L329.2 820.8 L329.9 825.2 L330.6 828.6 L331.3 833.8 L332.0 839.8 L332.7 841.4 L333.4 842.2 L334.1 841.1 L334.8 842.8 L335.5 843.6 L336.2 842.7 L336.9 845.9 L337.6 845.7 L338.3 847.6 L339.0 847.6 L339.7 848.3 L340.4 846.6 L341.1 845.5 L341.8 847.0 L342.5 849.1 L343.2 850.1 L343.9 848.4 L344.6 848.9 L345.3 849.7 L346.0 851.1 L346.7 853.3 L347.4 852.6 L348.1 851.7 L348.8 848.2 L349.5 850.0 L350.2 851.3 L350.9 854.4 L351.6 854.0 L352.3 856.1 L353.0 856.6 L353.7 856.1 L354.4 854.9 L355.1 855.0 L355.8 854.3 L356.5 855.8 L357.2 856.2 L357.9 858.8 L358.6 857.3 L359.3 856.5 L360.0 854.5 L360.7 855.0 L361.4 854.3 L362.1 855.8 L362.8 855.4 L363.5 856.5 L364.2 857.9 L364.9 857.2 L365.6 858.1 L366.3 855.0 L367.0 854.3 L367.7 853.4 L368.4 855.7 L369.1 858.5 L369.8 857.2 L370.5 857.3 L371.2 857.1 L371.9 860.3 L372.6 860.4 L373.3 861.0 L374.0 858.8 L374.7 858.9 L375.4 858.0 L376.1 859.9 L376.8 859.2 L377.5 859.0 L378.2 858.9 L378.9 861.9 L379.6 863.2 L380.3 863.1 L381.0 861.0 L381.7 861.8 L382.4 862.2 L383.1 864.4 L383.8 863.7 L384.5 862.3 L385.2 860.1 L385.9 858.8 L386.6 858.6 L387.3 860.5 L388.0 862.4 L388.7 862.5 L389.4 863.1 L390.1 862.6 L390.8 863.0 L391.5 861.7 L392.2 861.4 L392.9 861.7 L393.6 859.5 L394.3 859.7 L395.0 860.8 L395.7 860.3 L396.4 860.9 L397.1 861.3 L397.8 863.5 L398.5 863.2 L399.2 862.4 L399.9 862.1 L400.6 861.7 L401.3 863.5 L402.0 863.0 L402.7 863.7 L403.4 862.6 L404.1 863.4 L404.8 862.9 L405.5 861.4 L406.2 861.4 L406.9 861.9 L407.6 863.7 L408.3 863.8 L409.0 866.9 L409.7 866.1 L410.4 867.2 L411.1 864.0 L411.8 864.3 L412.5 865.5 L413.2 865.3 L413.9 867.1 L414.6 867.0 L415.3 866.5 L416.0 866.3 L416.7 864.6 L417.4 868.4 L418.1 867.1 L418.8 866.9 L419.5 862.4 L420.2 861.5 L420.9 862.0 L421.6 862.9 L422.3 863.1 L423.0 863.0 L423.7 863.9 L424.4 866.6 L425.1 865.7 L425.8 865.4 L426.5 863.2 L427.2 863.4 L427.9 862.8 L428.6 863.0 L429.3 865.3 L430.0 866.4 L430.7 866.9 L431.4 866.9 L432.1 867.5 L432.8 867.9 L433.5 867.8 L434.2 866.9 L434.9 867.9 L435.6 868.1 L436.3 868.6 L437.0 867.0 L437.7 868.2 L438.4 868.8 L439.1 873.0 L439.8 871.1 L440.5 872.0 L441.2 868.8 L441.9 869.8 L442.6 869.9 L443.3 869.7 L444.0 869.5 L444.7 869.0 L445.4 870.0 L446.1 870.8 L446.8 871.8 L447.5 872.6 L448.2 872.4 L448.9 871.2 L449.6 869.5 L450.3 868.7 L451.0 868.6 L451.7 870.4 L452.4 870.9 L453.1 870.3 L453.8 870.4 L454.5 870.1 L455.2 870.6 L455.9 869.9 L456.6 871.2 L457.3 869.8 L458.0 869.0 L458.7 868.9 L459.4 870.9 L460.1 871.2 L460.8 870.6 L461.5 872.4 L462.2 872.8 L462.9 874.1 L463.6 873.7 L464.3 873.8 L465.0 873.6 L465.7 872.5 L466.4 872.5 L467.1 871.1 L467.8 872.4 L468.5 872.7 L469.2 873.3 L469.9 871.6 L470.6 873.7 L471.3 875.0 L472.0 876.0 L472.7 873.8 L473.4 871.8 L474.1 872.2 L474.8 873.2 L475.5 873.4 L476.2 874.3 L476.9 874.8 L477.6 875.3 L478.3 873.8 L479.0 872.8 L479.7 873.9 L480.4 874.4 L481.1 873.4 L481.8 874.7 L482.5 875.2 L483.2 877.9 L483.9 877.8 L484.6 877.4 L485.3 876.6 L486.0 876.2 L486.7 877.2 L487.4 876.8 L488.1 875.7 L488.8 875.1 L489.5 874.6 L490.2 874.7 L490.9 872.9 L491.6 873.8 L492.3 873.5 L493.0 874.9 L493.7 874.8 L494.4 876.1 L495.1 878.4 L495.8 878.8 L496.5 877.3 L497.2 875.8 L497.9 875.1 L498.6 876.9 L499.3 876.2 L500.0 876.2 L500.7 875.4 L501.4 875.6 L502.1 874.7 L502.8 874.6 L503.5 875.2 L504.2 878.1 L504.9 878.5 L505.6 878.2 L506.3 877.8 L507.0 878.6 L507.7 880.5 L508.4 880.5 L509.1 880.1 L509.8 880.0 L510.5 880.9 L511.2 880.6 L511.9 879.6 L512.6 876.9 L513.3 877.1 L514.0 876.2 L514.7 877.6 L515.4 877.6 L516.1 878.3 L516.8 878.5 L517.5 879.5 L518.2 879.9 L518.9 879.6 L519.6 878.1 L520.3 879.1 L521.0 881.0 L521.7 881.8 L522.4 881.3 L523.1 878.8 L523.8 877.9 L524.5 877.3 L525.2 880.0 L525.9 880.6 L526.6 880.2 L527.3 880.4 L528.0 879.7 L528.7 881.1 L529.4 880.2 L530.1 881.8 L530.8 881.5 L531.5 883.4 L532.2 882.7 L532.9 882.4 L533.6 880.0 L534.3 880.4 L535.0 879.6 L535.7 881.3 L536.4 882.2 L537.1 881.9 L537.8 880.0 L538.5 880.3 L539.2 882.3 L539.9 881.7 L540.6 881.4 L541.3 881.4 L542.0 883.0 L542.7 883.6 L543.4 881.8 L544.1 883.2 L544.8 883.1 L545.5 886.4 L546.2 887.3 L546.9 887.1 L547.6 884.6 L548.3 883.0 L549.0 883.0 L549.7 883.8 L550.4 882.3 L551.1 884.0 L551.8 884.1 L552.5 883.9 L553.2 882.1 L553.9 881.6 L554.6 883.1 L555.3 883.2 L556.0 883.4 L556.7 883.8 L557.4 883.8 L558.1 885.4 L558.8 886.0 L559.5 886.4 L560.2 885.3 L560.9 884.5 L561.6 885.7 L562.3 886.3 L563.0 886.4 L563.7 885.7 L564.4 886.1 L565.1 886.6 L565.8 886.2 L566.5 885.6 L567.2 885.2 L567.9 885.4 L568.6 886.0 L569.3 886.5 L570.0 887.2 L570.7 886.7 L571.4 885.7 L572.1 887.3 L572.8 888.6 L573.5 888.5 L574.2 886.4 L574.9 887.4 L575.6 889.7 L576.3 890.6 L577.0 890.1 L577.7 887.8 L578.4 887.8 L579.1 887.5 L579.8 887.4 L580.5 886.8 L581.2 887.0 L581.9 889.6 L582.6 889.9 L583.3 889.7 L584.0 890.2 L584.7 890.6 L585.4 889.4 L586.1 888.2 L586.8 888.4 L587.5 890.7 L588.2 891.0 L588.9 890.8 L589.6 891.8 L590.3 891.3 L591.0 892.4 L591.7 891.1 L592.4 892.2 L593.1 892.1 L593.8 892.1 L594.5 891.5 L595.2 890.3 L595.9 889.7 L596.6 889.6 L597.3 890.7 L598.0 891.1 L598.7 890.8 L599.4 892.1 L600.1 893.3 L600.8 892.1 L601.5 891.1 L602.2 889.3 L602.9 889.1 L603.6 889.5 L604.3 889.6 L605.0 891.4 L605.7 890.7 L606.4 892.1 L607.1 893.4 L607.8 894.2 L608.5 894.0 L609.2 892.9 L609.9 892.9 L610.6 891.8 L611.3 892.0 L612.0 891.3 L612.7 892.3 L613.4 892.9 L614.1 893.8 L614.8 894.5 L615.5 896.0 L616.2 894.2 L616.9 893.3 L617.6 890.7 L618.3 892.1 L619.0 891.0 L619.7 891.6 L620.4 891.8 L621.1 892.4 L621.8 892.2 L622.5 892.0 L623.2 890.6 L623.9 891.7 L624.6 892.0 L625.3 893.1 L626.0 892.6 L626.7 892.3 L627.4 891.4 L628.1 891.9 L628.8 891.1 L629.5 892.7 L630.2 892.1 L630.9 894.6 L631.6 895.7 L632.3 895.8 L633.0 894.1 L633.7 892.9 L634.4 893.7 L635.1 895.7 L635.8 896.5 L636.5 895.2 L637.2 894.6 L637.9 893.9 L638.6 894.1 L639.3 893.1 L640.0 893.9 L640.7 894.5 L641.4 895.5 L642.1 896.1 L642.8 896.3 L643.5 893.7 L644.2 891.4 L644.9 891.1 L645.6 892.9 L646.3 896.0 L647.0 895.9 L647.7 895.8 L648.4 894.9 L649.1 895.8 L649.8 895.8 L650.5 895.4 L651.2 893.7 L651.9 893.2 L652.6 893.8 L653.3 893.6 L654.0 895.1 L654.7 894.7 L655.4 896.5 L656.1 896.5 L656.8 896.4 L657.5 894.2 L658.2 892.7 L658.9 891.8 L659.6 894.2 L660.3 894.2 L661.0 894.1 L661.7 893.1 L662.4 895.1 L663.1 894.5 L663.8 893.8 L664.5 893.3 L665.2 892.8 L665.9 894.1 L666.6 893.3 L667.3 893.7 L668.0 893.2 L668.7 892.8 L669.4 894.1 L670.1 894.8 L670.8 896.8 L671.5 896.6 L672.2 896.4 L672.9 894.9 L673.6 894.9 L674.3 895.6 L675.0 894.6 L675.7 895.1 L676.4 893.9 L677.1 895.5 L677.8 895.3 L678.5 896.4 L679.2 896.5 L679.9 896.0 L680.6 895.6 L681.3 895.4 L682.0 895.6 L682.7 895.5 L683.4 896.2 L684.1 896.5 L684.8 896.4 L685.5 894.8 L686.2 894.6 L686.9 893.0 L687.6 894.6 L688.3 893.9 L689.0 896.4 L689.7 898.2 L690.4 898.6 L691.1 898.6 L691.8 896.6 L692.5 896.5 L693.2 894.8 L693.9 894.9 L694.6 896.5 L695.3 897.4 L696.0 895.8 L696.7 893.9 L697.4 893.4 L698.1 895.7 L698.8 896.7 L699.5 897.1 L700.2 897.0 L700.9 896.6 L701.6 896.3 L702.3 895.2 L703.0 893.9 L703.7 894.3 L704.4 894.8 L705.1 896.9 L705.8 895.6 L706.5 894.6 L707.2 894.6 L707.9 895.7 L708.6 897.4 L709.3 896.0 L710.0 895.9 L710.7 894.3 L711.4 895.2 L712.1 894.6 L712.8 895.5 L713.5 896.1 L714.2 897.0 L714.9 895.1 L715.6 895.0 L716.3 894.8 L717.0 895.3 L717.7 893.9 L718.4 893.5 L719.1 894.7 L719.8 895.0 L720.5 893.7 L721.2 893.5 L721.9 893.9 L722.6 897.1 L723.3 895.8 L724.0 897.6 L724.7 897.0 L725.4 898.3 L726.1 897.5 L726.8 896.2 L727.5 896.7 L728.2 894.8 L728.9 894.8 L729.6 893.2 L730.3 892.5 L731.0 892.1 L731.7 892.4 L732.4 894.0 L733.1 895.2 L733.8 895.6 L734.5 895.1 L735.2 894.2 L735.9 893.0 L736.6 893.2 L737.3 893.0 L738.0 894.2 L738.7 893.1 L739.4 891.5 L740.1 891.3 L740.8 892.4 L741.5 895.0 L742.2 896.0 L742.9 896.9 L743.6 896.1 L744.3 896.1 L745.0 894.7 L745.7 894.9 L746.4 894.7 L747.1 896.9 L747.8 896.6 L748.5 894.8 L749.2 893.7 L749.9 892.8 L750.6 893.8 L751.3 892.4 L752.0 892.2 L752.7 893.3 L753.4 894.0 L754.1 894.2 L754.8 893.1 L755.5 892.2 L756.2 893.2 L756.9 892.8 L757.6 892.4 L758.3 891.4 L759.0 891.3 L759.7 892.1 L760.4 891.8 L761.1 892.0 L761.8 892.1 L762.5 894.6 L763.2 895.3 L763.9 892.5 L764.6 890.2 L765.3 889.1 L766.0 891.7 L766.7 893.3 L767.4 894.2 L768.1 892.0 L768.8 891.0 L769.5 890.4 L770.2 892.5 L770.9 893.3 L771.6 892.3 L772.3 892.7 L773.0 890.3 L773.7 891.1 L774.4 890.5 L775.1 893.6 L775.8 892.9 L776.5 891.2 L777.2 889.8 L777.9 889.8 L778.6 892.3 L779.3 891.1 L780.0 890.9 L780.7 890.5 L781.4 891.1 L782.1 892.6 L782.8 890.3 L783.5 891.5 L784.2 890.1 L784.9 891.9 L785.6 889.6 L786.3 888.8 L787.0 887.8 L787.7 888.7 L788.4 891.1 L789.1 891.5 L789.8 891.9 L790.5 891.1 L791.2 893.2 L791.9 891.9 L792.6 892.3 L793.3 889.5 L794.0 890.3 L794.7 888.7 L795.4 889.7 L796.1 888.3 L796.8 887.6 L797.5 886.3 L798.2 886.3 L798.9 887.9 L799.6 888.7 L800.3 888.9 L801.0 888.9 L801.7 887.4 L802.4 887.9 L803.1 887.1 L803.8 889.1 L804.5 889.1 L805.2 888.2 L805.9 885.7 L806.6 886.6 L807.3 885.8 L808.0 886.1 L808.7 884.6 L809.4 883.8 L810.1 883.7 L810.8 884.7 L811.5 886.9 L812.2 886.4 L812.9 886.0 L813.6 886.1 L814.3 888.4 L815.0 887.0 L815.7 886.1 L816.4 884.3 L817.1 884.7 L817.8 885.0 L818.5 884.7 L819.2 884.1 L819.9 882.5 L820.6 881.9 L821.3 881.2 L822.0 881.5 L822.7 881.3 L823.4 882.7 L824.1 884.2 L824.8 883.5 L825.5 883.1 L826.2 882.9 L826.9 883.5 L827.6 881.6 L828.3 878.8 L829.0 879.4 L829.7 881.4 L830.4 883.3 L831.1 881.5 L831.8 881.7 L832.5 882.4 L833.2 883.1 L833.9 881.5 L834.6 878.5 L835.3 879.0 L836.0 877.7 L836.7 879.8 L837.4 879.7 L838.1 881.1 L838.8 881.7 L839.5 880.6 L840.2 880.9 L840.9 880.1 L841.6 880.5 L842.3 879.4 L843.0 879.6 L843.7 879.6 L844.4 879.7 L845.1 878.2 L845.8 877.8 L846.5 879.8 L847.2 879.8 L847.9 879.3 L848.6 876.0 L849.3 874.5 L850.0 872.7 L850.7 873.6 L851.4 874.4 L852.1 874.9 L852.8 873.1 L853.5 872.4 L854.2 872.6 L854.9 872.4 L855.6 872.7 L856.3 873.0 L857.0 874.0 L857.7 874.1 L858.4 873.2 L859.1 874.3 L859.8 872.4 L860.5 873.3 L861.2 872.4 L861.9 872.9 L862.6 872.6 L863.3 870.6 L864.0 869.2 L864.7 868.5 L865.4 868.8 L866.1 870.6 L866.8 870.7 L867.5 871.8 L868.2 871.4 L868.9 871.4 L869.6 870.7 L870.3 869.9 L871.0 869.2 L871.7 870.9 L872.4 869.4 L873.1 869.6 L873.8 868.5 L874.5 870.5 L875.2 871.9 L875.9 871.4 L876.6 869.7 L877.3 867.9 L878.0 866.0 L878.7 868.1 L879.4 869.7 L880.1 870.5 L880.8 870.0 L881.5 868.2 L882.2 867.1 L882.9 866.1 L883.6 864.9 L884.3 865.6 L885.0 866.2 L885.7 868.3 L886.4 870.1 L887.1 869.4 L887.8 868.9 L888.5 867.9 L889.2 868.7 L889.9 865.6 L890.6 864.4 L891.3 864.5 L892.0 866.1 L892.7 866.9 L893.4 866.9 L894.1 866.0 L894.8 865.5 L895.5 864.8 L896.2 866.6 L896.9 865.2 L897.6 865.2 L898.3 864.6 L899.0 866.8 L899.7 866.8 L900.4 866.8 L901.1 866.1 L901.8 864.9 L902.5 864.7 L903.2 863.0 L903.9 863.4 L904.6 864.8 L905.3 866.5 L906.0 866.7 L906.7 865.3 L907.4 864.6 L908.1 865.4 L908.8 864.6 L909.5 867.1 L910.2 866.4 L910.9 870.0 L911.6 869.1 L912.3 868.8 L913.0 867.4 L913.7 866.6 L914.4 867.5 L915.1 867.6 L915.8 866.8 L916.5 865.8 L917.2 864.7 L917.9 863.9 L918.6 864.3 L919.3 865.0 L920.0 866.6 L920.7 867.1 L921.4 866.5 L922.1 867.1 L922.8 864.9 L923.5 865.0 L924.2 863.9 L924.9 866.8 L925.6 867.9 L926.3 869.0 L927.0 868.2 L927.7 868.5 L928.4 866.7 L929.1 866.8 L929.8 863.9 L930.5 866.5 L931.2 868.0 L931.9 869.5 L932.6 867.0 L933.3 863.4 L934.0 862.4 L934.7 863.1 L935.4 864.7 L936.1 864.5 L936.8 863.5 L937.5 862.7 L938.2 864.4 L938.9 865.4 L939.6 865.8 L940.3 865.6 L941.0 865.1 L941.7 863.7 L942.4 864.2 L943.1 864.7 L943.8 868.0 L944.5 866.7 L945.2 868.1 L945.9 867.4 L946.6 870.0 L947.3 871.2 L948.0 871.3 L948.7 870.8 L949.4 871.4 L950.1 872.6 L950.8 873.6 L951.5 873.6 L952.2 874.9 L952.9 876.8 L953.6 876.9 L954.3 877.3 L955.0 877.8 L955.7 879.8 L956.4 880.0 L957.1 880.6 L957.8 879.9 L958.5 880.3 L959.2 879.6 L959.9 877.9 L960.6 877.5 L961.3 877.5 L962.0 878.5 L962.7 880.4 L963.4 879.2 L964.1 879.2 L964.8 877.7 L965.5 878.9 L966.2 880.3 L966.9 880.0 L967.6 881.1 L968.3 879.7 L969.0 880.7 L969.7 881.0 L970.4 881.4 L971.1 882.5 L971.8 881.9 L972.5 882.1 L973.2 881.4 L973.9 880.0 L974.6 879.7 L975.3 880.3 L976.0 882.1 L976.7 881.7 L977.4 882.6 L978.1 883.1 L978.8 883.4 L979.5 881.8 L980.2 881.9 L980.9 881.7 L981.6 882.1 L982.3 881.8 L983.0 883.4 L983.7 884.2 L984.4 884.7 L985.1 884.3 L985.8 884.1 L986.5 885.7 L987.2 885.4 L987.9 885.6 L988.6 884.1 L989.3 885.0 L990.0 886.6 L990.7 886.8 L991.4 888.2 L992.1 885.2 L992.8 886.4 L993.5 886.9 L994.2 888.8 L994.9 889.1 L995.6 888.7 L996.3 890.3 L997.0 891.0 L997.7 891.2 L998.4 889.9 L999.1 888.7 L999.8 887.8 L1000.5 888.3 L1001.2 887.9 L1001.9 888.6 L1002.6 890.4 L1003.3 892.0 L1004.0 892.0 L1004.7 892.2 L1005.4 890.4 L1006.1 890.8 L1006.8 889.9 L1007.5 892.4 L1008.2 893.7 L1008.9 894.4 L1009.6 894.7 L1010.3 894.9 L1011.0 895.8 L1011.7 894.3 L1012.4 892.5 L1013.1 891.3 L1013.8 892.7 L1014.5 894.4 L1015.2 895.6 L1015.9 895.6 L1016.6 896.0 L1017.3 896.1 L1018.0 895.1 L1018.7 895.6 L1019.4 894.3 L1020.1 894.9 L1020.8 893.0 L1021.5 894.3 L1022.2 893.3 L1022.9 895.6 L1023.6 894.3 L1024.3 895.8 L1025.0 894.7 L1025.7 895.1 L1026.4 896.0 L1027.1 895.8 L1027.8 897.7 L1028.5 896.1 L1029.2 895.8 L1029.9 893.2 L1030.6 894.5 L1031.3 896.0 L1032.0 897.8 L1032.7 897.3 L1033.4 895.9 L1034.1 897.6 L1034.8 898.4 L1035.5 897.8 L1036.2 895.8 L1036.9 893.3 L1037.6 896.0 L1038.3 897.8 L1039.0 901.0 L1039.7 899.8 L1040.4 897.9 L1041.1 895.8 L1041.8 896.3 L1042.5 896.2 L1043.2 897.1 L1043.9 896.3 L1044.6 896.6 L1045.3 897.7 L1046.0 899.5 L1046.7 899.9 L1047.4 899.3 L1048.1 897.3 L1048.8 896.3 L1049.5 895.5 L1050.2 897.1 L1050.9 898.3 L1051.6 899.9 L1052.3 899.6 L1053.0 899.2 L1053.7 897.5 L1054.4 897.0 L1055.1 896.3 L1055.8 898.8 L1056.5 899.4 L1057.2 900.3 L1057.9 900.3 L1058.6 899.9 L1059.3 900.7 L1060.0 899.1 L1060.7 899.7 L1061.4 899.1 L1062.1 899.7 L1062.8 900.5 L1063.5 899.9 L1064.2 898.0 L1064.9 898.0 L1065.6 899.1 L1066.3 901.6 L1067.0 900.4 L1067.7 901.5 L1068.4 902.3 L1069.1 901.7 L1069.8 901.1 L1070.5 899.4 L1071.2 899.1 L1071.9 898.5 L1072.6 899.4 L1073.3 899.7 L1074.0 899.0 L1074.7 899.6 L1075.4 900.8 L1076.1 902.1 L1076.8 900.4 L1077.5 900.0 L1078.2 899.8 L1078.9 900.9 L1079.6 901.6 L1080.3 902.7 L1081.0 902.8 L1081.7 901.6 L1082.4 899.9 L1083.1 899.8 L1083.8 902.0 L1084.5 902.2 L1085.2 902.0 L1085.9 901.1 L1086.6 901.2 L1087.3 900.9 L1088.0 900.9 L1088.7 902.2 L1089.4 903.2 L1090.1 903.3 L1090.8 902.9 L1091.5 901.7 L1092.2 902.7 L1092.9 903.0 L1093.6 904.3 L1094.3 902.4 L1095.0 903.5 L1095.7 901.2 L1096.4 901.7 L1097.1 899.6 L1097.8 902.4 L1098.5 902.1 L1099.2 903.0 L1099.9 902.5 L1100.6 903.4 L1101.3 904.0 L1102.0 905.2 L1102.7 905.8 L1103.4 905.0 L1104.1 902.4 L1104.8 903.3 L1105.5 903.3 L1106.2 903.7 L1106.9 902.9 L1107.6 904.2 L1108.3 905.5 L1109.0 904.6 L1109.7 905.3 L1110.4 905.9 L1111.1 907.1 L1111.8 906.3 L1112.5 904.3 L1113.2 904.1 L1113.9 903.3 L1114.6 906.6 L1115.3 906.3 L1116.0 906.1 L1116.7 903.5 L1117.4 903.4 L1118.1 903.7 L1118.8 905.0 L1119.5 905.5 L1120.2 907.1 L1120.9 907.4 L1121.6 908.0 L1122.3 907.6 L1123.0 907.8 L1123.7 907.0 L1124.4 905.0 L1125.1 904.9 L1125.8 904.7 L1126.5 906.8 L1127.2 906.0 L1127.9 905.1 L1128.6 904.2 L1129.3 905.6 L1130.0 907.1 L1130.7 907.2 L1131.4 906.6 L1132.1 908.1 L1132.8 908.2 L1133.5 908.1 L1134.2 906.5 L1134.9 905.2 L1135.6 906.2 L1136.3 907.5 L1137.0 908.1 L1137.7 907.5 L1138.4 907.0 L1139.1 907.5 L1139.8 906.8 L1140.5 907.2 L1141.2 906.7 L1141.9 906.5 L1142.6 906.0 L1143.3 906.9 L1144.0 907.2 L1144.7 907.4 L1145.4 907.8 L1146.1 907.4 L1146.8 907.3 L1147.5 906.6 L1148.2 908.4 L1148.9 907.4 L1149.6 907.6 L1150.3 907.1 L1151.0 907.9 L1151.7 907.9 L1152.4 907.0 L1153.1 907.5 L1153.8 907.0 L1154.5 907.3 L1155.2 907.1 L1155.9 906.9 L1156.6 907.2 L1157.3 907.0 L1158.0 908.3 L1158.7 908.7 L1159.4 909.4 L1160.1 908.4 L1160.8 908.0 L1161.5 906.7 L1162.2 907.0 L1162.9 908.0 L1163.6 909.2 L1164.3 910.9 L1165.0 909.6 L1165.7 909.7 L1166.4 907.8 L1167.1 908.7 L1167.8 908.6 L1168.5 909.8 L1169.2 909.5 L1169.9 910.1 L1170.6 909.9 L1171.3 909.6 L1172.0 909.3 L1172.7 908.7 L1173.4 907.3 L1174.1 907.7 L1174.8 909.6 L1175.5 911.9 L1176.2 913.2 L1176.9 912.2 L1177.6 910.8 L1178.3 908.6 L1179.0 908.8 L1179.7 909.8 L1180.4 910.4 L1181.1 910.5 L1181.8 909.7 L1182.5 910.2 L1183.2 909.6 L1183.9 910.3 L1184.6 910.8 L1185.3 911.0 L1186.0 911.9 L1186.7 912.0 L1187.4 911.7 L1188.1 912.4 L1188.8 910.7 L1189.5 911.2 L1190.2 910.1 L1190.9 909.5 L1191.6 910.3 L1192.3 910.6 L1193.0 912.2 L1193.7 911.7 L1194.4 911.1 L1195.1 911.1 L1195.8 911.7 L1196.5 911.3 L1197.2 911.5 L1197.9 911.1 L1198.6 911.9 L1199.3 912.8 L1200.0 911.5 L1200.7 909.6 L1201.4 908.8 L1202.1 909.8 L1202.8 910.5 L1203.5 910.9 L1204.2 911.4 L1204.9 912.4 L1205.6 913.3 L1206.3 912.2 L1207.0 912.0 L1207.7 912.3 L1208.4 913.5 L1209.1 912.7 L1209.8 911.6 L1210.5 912.0 L1211.2 914.2 L1211.9 914.5 L1212.6 914.5 L1213.3 912.4 L1214.0 911.8 L1214.7 911.9 L1215.4 912.0 L1216.1 912.2 L1216.8 910.1 L1217.5 911.8 L1218.2 911.8 L1218.9 913.5 L1219.6 911.5 L1220.3 910.7 L1221.0 911.6 L1221.7 912.4 L1222.4 913.0 L1223.1 912.1 L1223.8 912.7 L1224.5 911.8 L1225.2 910.9 L1225.9 910.5 L1226.6 911.9 L1227.3 912.8 L1228.0 912.6 L1228.7 912.4 L1229.4 912.3 L1230.1 912.2 L1230.8 911.9 L1231.5 911.4 L1232.2 911.9 L1232.9 912.4 L1233.6 912.5 L1234.3 912.4 L1235.0 912.5 L1235.7 913.0 L1236.4 913.5 L1237.1 912.7 L1237.8 913.2 L1238.5 911.9 L1239.2 913.2 L1239.9 912.1 L1240.6 913.6 L1241.3 913.9 L1242.0 913.2 L1242.7 913.2 L1243.4 912.7 L1244.1 913.7 L1244.8 913.6 L1245.5 913.1 L1246.2 913.6 L1246.9 912.6 L1247.6 913.5 L1248.3 913.8 L1249.0 915.1 L1249.7 914.1 L1250.4 915.0 L1251.1 915.8 L1251.8 916.2 L1252.5 914.8 L1253.2 913.2 L1253.9 913.7 L1254.6 914.7 L1255.3 914.5 L1256.0 912.7 L1256.7 912.4 L1257.4 912.9 L1258.1 914.3 L1258.8 914.4 L1259.5 913.7 L1260.2 913.6 L1260.9 913.1 L1261.6 914.1 L1262.3 914.9 L1263.0 915.1 L1263.7 914.3 L1264.4 914.3 L1265.1 914.8 L1265.8 915.2 L1266.5 913.2 L1267.2 912.2 L1267.9 912.4 L1268.6 914.0 L1269.3 914.3 L1270.0 914.5 L1270.7 913.7 L1271.4 913.8 L1272.1 913.9 L1272.8 914.1 L1273.5 914.5 L1274.2 914.8 L1274.9 915.6 L1275.6 914.7 L1276.3 913.5 L1277.0 911.4 L1277.7 910.4 L1278.4 910.2 L1279.1 910.1 L1279.8 909.1 L1280.5 908.6 L1281.2 907.6 L1281.9 908.0 L1282.6 907.3 L1283.3 907.6 L1284.0 907.1 L1284.7 904.7 L1285.4 904.3 L1286.1 904.1 L1286.7 905.1 L1286.8 902.4 L1287.5 903.7 L1288.2 905.7 L1288.9 908.5 L1289.6 909.1 L1290.3 910.1 L1291.0 910.1 L1291.7 911.2 L1292.4 913.1 L1293.1 915.4 L1293.8 916.8 L1294.5 917.8 L1295.2 917.2 L1295.9 916.1 L1296.6 915.5 L1297.3 916.2 L1298.0 916.7 L1298.7 916.8 L1299.4 917.2 L1300.1 916.8 L1300.8 916.4 L1301.5 915.5 L1302.2 915.7 L1302.9 915.0 L1303.6 914.2 L1304.3 914.1 L1305.0 914.5 L1305.7 916.3 L1306.4 917.7 L1307.1 918.2 L1307.8 918.0 L1308.5 916.6 L1309.2 916.1 L1309.9 915.7 L1310.6 916.0 L1311.3 916.8 L1312.0 917.2 L1312.7 918.5 L1313.4 918.2 L1314.1 917.2 L1314.8 916.3 L1315.5 916.1 L1316.2 917.3 L1316.9 918.0 L1317.6 918.1 L1318.3 918.0 L1319.0 917.7 L1319.7 917.6 L1320.4 917.9 L1321.1 917.9 L1321.8 919.1 L1322.5 919.7 L1323.2 919.8 L1323.9 919.6 L1324.6 918.1 L1325.3 916.1 L1326.0 915.4 L1326.7 917.2 L1327.4 918.9 L1328.1 918.2 L1328.8 917.1 L1329.5 917.3 L1330.2 917.5 L1330.9 918.2 L1331.6 917.3 L1332.3 919.1 L1333.0 918.8 L1333.7 921.4 L1334.4 920.0 L1335.1 920.2 L1335.8 917.3 L1336.5 918.9 L1337.2 918.8 L1337.9 920.3 L1338.6 919.7 L1339.3 918.9 L1340.0 917.9 L1340.7 917.1 L1341.4 917.2 L1342.1 917.7 L1342.8 919.1 L1343.5 920.3 L1344.2 920.6 L1344.9 919.6 L1345.6 919.4 L1346.3 918.5 L1347.0 919.0 L1347.7 919.2 L1348.4 919.6 L1349.1 919.2 L1349.8 918.5 L1350.5 919.0 L1351.2 919.1 L1351.9 918.5 L1352.6 917.8 L1353.3 917.4 L1354.0 919.2 L1354.7 919.5 L1355.4 919.3 L1356.1 918.5 L1356.8 919.0 L1357.5 920.1 L1358.2 919.8 L1358.9 919.4 L1359.6 919.4 L1360.3 920.2 L1361.0 920.4 L1361.7 921.6 L1362.4 920.9 L1363.1 921.6 L1363.8 920.3 L1364.5 919.4 L1365.2 917.8 L1365.9 916.7 L1366.6 916.7 L1367.3 918.2 L1368.0 918.9 L1368.7 920.4 L1369.4 919.1 L1370.1 919.5 L1370.8 918.5 L1371.5 919.7 L1372.2 919.5 L1372.9 919.9 L1373.6 919.3 L1374.3 920.9 L1375.0 921.4 L1375.7 922.1 L1376.4 920.0 L1377.1 919.4 L1377.8 919.1 L1378.5 918.8 L1379.2 920.0 L1379.9 920.0 L1380.6 921.2 L1381.3 920.3 L1382.0 920.0 L1382.7 919.8 L1383.4 920.8 L1384.1 921.4 L1384.8 922.5 L1385.5 921.5 L1386.2 920.6 L1386.9 920.7 L1387.6 920.2 L1388.3 920.4 L1389.0 920.1 L1389.7 921.5 L1390.4 921.1 L1391.1 920.6 L1391.8 920.0 L1392.5 920.8 L1393.2 920.5 L1393.9 920.9 L1394.6 920.8 L1395.3 921.2 L1396.0 919.5 L1396.7 919.8 L1397.4 918.8 L1398.1 920.6 L1398.8 921.0 L1399.5 921.9 L1400.2 921.6 L1400.9 921.4 L1401.6 921.6 L1402.3 921.8 L1403.0 921.7 L1403.7 921.5 L1404.4 920.8 L1405.1 921.9 L1405.8 922.3 L1406.5 922.8 L1407.2 922.3 L1407.9 921.9 L1408.6 921.8 L1409.3 921.7 L1410.0 922.6 L1410.7 923.3 L1411.4 922.0 L1412.1 921.4 L1412.8 921.0 L1413.5 922.2 L1414.2 921.7 L1414.9 921.1 L1415.6 920.8 L1416.3 920.8 L1417.0 920.8 L1417.7 920.8 L1418.4 921.9 L1419.1 922.7 L1419.8 923.4 L1420.5 922.3 L1421.2 922.6 L1421.9 922.0 L1422.6 922.0 L1423.3 921.4 L1424.0 920.9 L1424.7 921.3 L1425.4 921.1 L1426.1 922.4 L1426.8 922.3 L1427.5 921.9 L1428.2 921.1 L1428.9 921.5 L1429.6 922.2 L1430.3 922.8 L1431.0 922.0 L1431.7 921.7 L1432.4 922.2 L1433.1 922.7 L1433.8 923.6 L1434.5 922.9 L1435.2 923.2 L1435.9 922.9 L1436.6 922.5 L1437.3 922.8 L1438.0 922.5 L1438.7 922.7 L1439.4 922.5 L1440.1 922.5 L1440.8 921.6 L1441.5 921.4 L1442.2 922.3 L1442.9 923.3 L1443.6 922.1 L1444.3 921.8 L1445.0 922.8 L1445.7 922.9 L1446.4 920.9 L1447.1 919.6 L1447.8 920.6 L1448.5 922.7 L1449.2 923.3 L1449.9 923.3 L1450.6 923.1 L1451.3 922.9 L1452.0 922.9 L1452.7 922.5 L1453.4 922.2 L1454.1 922.6 L1454.8 922.9 L1455.5 922.7 L1456.2 922.9 L1456.9 922.3 L1457.6 922.4 L1458.3 921.8 L1459.0 921.1 L1459.7 921.0 L1460.4 921.5 L1461.1 923.1 L1461.8 922.6 L1462.5 921.6 L1463.2 920.5 L1463.9 921.0 L1464.6 921.5 L1465.3 921.2 L1466.0 921.5 L1466.7 921.6 L1467.4 922.5 L1468.1 921.9 L1468.8 921.8 L1469.5 920.8 L1470.2 921.3 L1470.9 921.5 L1471.6 922.5 L1472.3 921.7 L1473.0 922.3 L1473.7 923.0 L1474.4 922.6 L1475.1 922.1 L1475.8 921.5 L1476.5 921.1 L1477.2 921.2 L1477.9 921.5 L1478.6 923.4 L1479.3 923.2 L1480.0 922.4 L1480.7 922.0" stroke-width="7.2" stroke-linejoin="round"/><path d="M109.4 861.5 L110.1 859.3 L110.8 856.8 L111.5 854.1 L112.2 865.8 L112.9 866.3 L113.6 861.6 L114.3 863.3 L115.0 861.7 L115.7 859.8 L116.4 862.8 L117.1 859.8 L117.8 857.8 L118.5 857.4 L119.2 860.5 L119.9 860.4 L120.6 860.8 L121.3 858.1 L122.0 858.3 L122.7 857.2 L123.4 861.4 L124.1 860.9 L124.8 860.7 L125.5 859.5 L126.2 856.4 L126.9 862.4 L127.6 864.7 L128.3 852.9 L129.0 848.9 L129.7 851.9 L130.4 859.5 L131.1 860.2 L131.8 862.3 L132.5 861.4 L133.2 859.2 L133.9 858.3 L134.6 857.7 L135.3 858.7 L136.0 853.3 L136.7 854.3 L137.4 858.9 L138.1 862.3 L138.8 854.3 L139.5 850.9 L140.2 853.9 L140.9 858.5 L141.6 857.3 L142.3 858.1 L143.0 851.3 L143.7 858.4 L144.4 858.5 L145.1 851.2 L145.8 855.2 L146.5 859.3 L147.2 857.2 L147.9 860.6 L148.6 864.2 L149.3 857.4 L150.0 852.5 L150.7 851.5 L151.4 855.1 L152.1 853.5 L152.8 852.6 L153.5 853.6 L154.2 854.4 L154.9 848.4 L155.6 843.8 L156.3 843.8 L157.0 854.7 L157.7 855.9 L158.4 858.2 L159.1 853.3 L159.8 850.2 L160.5 853.2 L161.2 851.1 L161.9 846.5 L162.6 849.3 L163.3 857.7 L164.0 855.4 L164.7 853.3 L165.4 850.2 L166.1 849.6 L166.8 853.7 L167.5 851.0 L168.2 848.1 L168.9 848.7 L169.6 847.6 L170.3 851.7 L171.0 854.1 L171.7 850.3 L172.4 854.1 L173.1 849.6 L173.8 849.2 L174.5 847.0 L175.2 848.4 L175.9 849.4 L176.6 847.5 L177.3 845.9 L178.0 845.5 L178.7 844.0 L179.4 842.4 L180.1 847.0 L180.8 851.4 L181.5 853.6 L182.2 855.0 L182.9 859.0 L183.6 852.1 L184.3 849.3 L185.0 853.8 L185.7 847.6 L186.4 849.7 L187.1 846.0 L187.8 846.1 L188.5 841.9 L189.2 848.8 L189.9 847.0 L190.6 845.6 L191.3 853.5 L192.0 852.1 L192.7 847.4 L193.4 844.3 L194.1 845.8 L194.8 847.0 L195.5 850.2 L196.2 849.7 L196.9 844.3 L197.6 843.0 L198.3 842.2 L199.0 839.8 L199.7 842.2 L200.4 845.7 L201.1 849.8 L201.8 850.6 L202.5 844.6 L203.2 846.1 L203.9 846.5 L204.6 852.5 L205.3 847.7 L206.0 845.7 L206.7 840.8 L207.4 840.7 L208.1 843.9 L208.8 843.5 L209.5 843.4 L210.2 839.2 L210.9 843.7 L211.6 843.0 L212.3 848.9 L213.0 845.6 L213.7 845.7 L214.4 839.6 L215.1 842.2 L215.8 839.5 L216.5 840.0 L217.2 842.0 L217.9 841.8 L218.6 844.1 L219.3 846.4 L220.0 845.6 L220.7 841.1 L221.4 835.9 L222.1 837.2 L222.8 837.9 L223.5 834.3 L224.2 842.1 L224.9 841.4 L225.6 841.5 L226.3 845.7 L227.0 845.4 L227.7 841.9 L228.4 838.0 L229.1 841.7 L229.8 841.8 L230.5 839.2 L231.2 844.6 L231.9 841.8 L232.6 833.9 L233.3 837.5 L234.0 837.2 L234.7 844.5 L235.4 843.7 L236.1 836.0 L236.8 835.7 L237.5 839.4 L238.2 841.1 L238.9 846.7 L239.6 844.4 L240.3 840.4 L241.0 839.5 L241.7 832.9 L242.4 839.7 L243.1 843.3 L243.8 839.2 L244.5 837.3 L245.2 843.3 L245.9 848.2 L246.6 841.3 L247.3 837.0 L248.0 841.7 L248.7 834.3 L249.4 838.5 L250.1 838.7 L250.8 841.3 L251.5 838.6 L252.2 843.9 L252.9 840.0 L253.6 830.6 L254.3 829.2 L255.0 837.3 L255.7 844.2 L256.4 841.4 L257.1 839.5 L257.8 839.3 L258.5 842.4 L259.2 842.0 L259.9 839.8 L260.6 837.2 L261.3 844.5 L262.0 844.7 L262.7 838.6 L263.4 847.9 L264.1 844.5 L264.8 836.3 L265.5 832.3 L266.2 840.6 L266.9 841.9 L267.6 835.9 L268.3 833.3 L269.0 841.4 L269.7 838.2 L270.4 840.6 L271.1 852.9 L271.8 852.6 L272.5 845.6 L273.2 840.0 L273.9 839.4 L274.6 832.0 L275.3 837.0 L276.0 835.8 L276.7 832.4 L277.4 833.1 L278.1 840.6 L278.8 841.4 L279.5 842.0 L280.2 842.8 L280.9 836.6 L281.6 832.5 L282.3 831.6 L283.0 838.0 L283.7 842.9 L284.4 841.5 L285.1 841.5 L285.8 836.1 L286.5 836.5 L287.2 835.6 L287.9 837.0 L288.6 847.4 L289.3 845.2 L290.0 837.8 L290.7 836.7 L291.4 837.9 L292.1 835.5 L292.8 839.2 L293.5 835.7 L294.2 836.6 L294.9 835.8 L295.6 836.2 L296.3 833.2 L297.0 832.0 L297.7 834.4 L298.4 836.7 L299.1 839.0 L299.8 842.5 L300.5 847.8 L301.2 845.5 L301.9 841.7 L302.6 842.7 L303.3 840.7 L304.0 846.2 L304.7 842.7 L305.4 836.4 L306.1 842.2 L306.8 840.5 L307.5 828.6 L308.2 831.8 L308.9 832.4 L309.6 826.6 L310.3 827.0 L311.0 828.8 L311.7 833.1 L312.4 835.4 L313.1 839.5 L313.8 829.5 L314.5 828.2 L315.2 821.2 L315.9 810.0 L316.6 791.2 L317.3 771.6 L318.0 767.4 L318.7 772.0 L319.4 770.0 L320.1 757.1 L320.8 745.3 L321.5 738.1 L322.2 744.8 L322.9 741.2 L323.6 725.3 L324.3 615.6 L325.0 723.6 L325.7 744.4 L326.4 748.6 L327.1 762.4 L327.8 791.4 L328.5 813.3 L329.2 819.5 L329.9 821.6 L330.6 824.9 L331.3 828.9 L332.0 841.1 L332.7 847.5 L333.4 837.6 L334.1 841.5 L334.8 843.9 L335.5 841.0 L336.2 843.3 L336.9 842.9 L337.6 848.9 L338.3 846.1 L339.0 847.9 L339.7 850.1 L340.4 845.4 L341.1 840.8 L341.8 845.6 L342.5 851.1 L343.2 849.9 L343.9 849.0 L344.6 846.0 L345.3 850.0 L346.0 853.0 L346.7 853.4 L347.4 857.5 L348.1 851.2 L348.8 845.5 L349.5 845.8 L350.2 854.3 L350.9 854.3 L351.6 856.6 L352.3 857.3 L353.0 860.8 L353.7 859.3 L354.4 853.9 L355.1 855.7 L355.8 857.1 L356.5 852.7 L357.2 859.9 L357.9 861.8 L358.6 859.7 L359.3 856.0 L360.0 855.3 L360.7 852.2 L361.4 854.4 L362.1 854.3 L362.8 855.6 L363.5 855.3 L364.2 858.6 L364.9 860.2 L365.6 854.8 L366.3 857.3 L367.0 849.4 L367.7 848.1 L368.4 855.4 L369.1 858.6 L369.8 858.3 L370.5 853.2 L371.2 857.0 L371.9 860.6 L372.6 863.5 L373.3 860.7 L374.0 860.1 L374.7 856.5 L375.4 857.6 L376.1 858.8 L376.8 860.9 L377.5 856.5 L378.2 856.9 L378.9 863.3 L379.6 867.6 L380.3 864.0 L381.0 861.8 L381.7 861.0 L382.4 864.8 L383.1 865.7 L383.8 867.9 L384.5 863.1 L385.2 857.8 L385.9 857.4 L386.6 856.2 L387.3 857.5 L388.0 865.5 L388.7 864.5 L389.4 860.1 L390.1 866.9 L390.8 863.6 L391.5 859.4 L392.2 862.4 L392.9 861.6 L393.6 857.6 L394.3 855.0 L395.0 860.9 L395.7 861.0 L396.4 854.7 L397.1 862.6 L397.8 865.0 L398.5 862.0 L399.2 862.6 L399.9 861.4 L400.6 859.7 L401.3 862.6 L402.0 866.2 L402.7 860.2 L403.4 863.2 L404.1 863.9 L404.8 861.2 L405.5 860.4 L406.2 858.0 L406.9 859.9 L407.6 863.8 L408.3 864.6 L409.0 864.7 L409.7 873.3 L410.4 865.8 L411.1 864.3 L411.8 863.7 L412.5 864.6 L413.2 868.4 L413.9 866.0 L414.6 870.2 L415.3 869.2 L416.0 863.8 L416.7 867.1 L417.4 866.9 L418.1 873.5 L418.8 865.9 L419.5 860.2 L420.2 857.0 L420.9 858.9 L421.6 861.6 L422.3 860.7 L423.0 860.2 L423.7 862.3 L424.4 866.1 L425.1 869.1 L425.8 861.4 L426.5 861.9 L427.2 861.2 L427.9 859.3 L428.6 860.0 L429.3 863.2 L430.0 868.1 L430.7 866.4 L431.4 865.7 L432.1 868.9 L432.8 868.6 L433.5 867.3 L434.2 867.8 L434.9 865.9 L435.6 869.5 L436.3 869.7 L437.0 866.0 L437.7 865.3 L438.4 872.3 L439.1 873.3 L439.8 878.1 L440.5 870.5 L441.2 870.7 L441.9 868.8 L442.6 870.5 L443.3 871.6 L444.0 867.7 L444.7 868.8 L445.4 870.4 L446.1 871.1 L446.8 873.2 L447.5 874.9 L448.2 874.3 L448.9 871.8 L449.6 868.7 L450.3 866.1 L451.0 866.9 L451.7 869.2 L452.4 872.4 L453.1 869.5 L453.8 867.6 L454.5 871.5 L455.2 868.8 L455.9 868.2 L456.6 870.7 L457.3 870.8 L458.0 863.6 L458.7 866.3 L459.4 871.3 L460.1 870.4 L460.8 868.7 L461.5 871.2 L462.2 876.0 L462.9 873.1 L463.6 875.2 L464.3 875.5 L465.0 872.6 L465.7 873.5 L466.4 871.5 L467.1 869.7 L467.8 869.9 L468.5 874.7 L469.2 872.5 L469.9 870.3 L470.6 871.2 L471.3 879.0 L472.0 877.6 L472.7 873.5 L473.4 870.2 L474.1 868.8 L474.8 873.9 L475.5 874.1 L476.2 871.2 L476.9 877.4 L477.6 877.1 L478.3 871.7 L479.0 871.6 L479.7 873.0 L480.4 874.8 L481.1 873.1 L481.8 871.1 L482.5 878.4 L483.2 878.6 L483.9 880.6 L484.6 880.1 L485.3 876.2 L486.0 877.0 L486.7 878.8 L487.4 878.5 L488.1 875.3 L488.8 873.7 L489.5 874.7 L490.2 873.0 L490.9 871.7 L491.6 869.4 L492.3 873.7 L493.0 872.7 L493.7 873.6 L494.4 876.0 L495.1 879.1 L495.8 882.9 L496.5 877.7 L497.2 872.7 L497.9 875.4 L498.6 875.6 L499.3 877.1 L500.0 874.7 L500.7 873.9 L501.4 874.5 L502.1 873.3 L502.8 870.7 L503.5 873.8 L504.2 878.0 L504.9 881.1 L505.6 877.6 L506.3 877.0 L507.0 879.9 L507.7 881.6 L508.4 884.0 L509.1 881.4 L509.8 879.9 L510.5 883.8 L511.2 883.9 L511.9 878.6 L512.6 877.2 L513.3 873.5 L514.0 875.4 L514.7 875.7 L515.4 877.2 L516.1 877.3 L516.8 878.2 L517.5 879.3 L518.2 881.0 L518.9 880.1 L519.6 877.0 L520.3 876.4 L521.0 883.6 L521.7 884.8 L522.4 880.3 L523.1 880.0 L523.8 874.7 L524.5 874.0 L525.2 879.4 L525.9 883.7 L526.6 877.9 L527.3 878.6 L528.0 883.1 L528.7 877.1 L529.4 881.6 L530.1 882.8 L530.8 881.0 L531.5 883.8 L532.2 888.2 L532.9 880.0 L533.6 879.3 L534.3 879.9 L535.0 878.2 L535.7 878.5 L536.4 885.5 L537.1 882.4 L537.8 876.4 L538.5 878.8 L539.2 883.1 L539.9 882.6 L540.6 878.4 L541.3 881.2 L542.0 883.6 L542.7 884.4 L543.4 882.7 L544.1 879.4 L544.8 887.0 L545.5 886.8 L546.2 891.1 L546.9 893.0 L547.6 884.2 L548.3 880.4 L549.0 884.8 L549.7 883.4 L550.4 881.3 L551.1 881.8 L551.8 887.5 L552.5 883.0 L553.2 879.3 L553.9 880.7 L554.6 880.7 L555.3 883.5 L556.0 882.5 L556.7 881.7 L557.4 885.0 L558.1 884.1 L558.8 887.5 L559.5 889.0 L560.2 884.6 L560.9 883.2 L561.6 886.1 L562.3 888.2 L563.0 886.4 L563.7 886.0 L564.4 886.0 L565.1 887.3 L565.8 887.4 L566.5 884.2 L567.2 884.2 L567.9 885.4 L568.6 884.6 L569.3 886.8 L570.0 888.3 L570.7 886.6 L571.4 884.5 L572.1 885.7 L572.8 892.1 L573.5 890.2 L574.2 884.2 L574.9 885.7 L575.6 893.4 L576.3 893.6 L577.0 890.4 L577.7 890.1 L578.4 884.8 L579.1 887.5 L579.8 888.8 L580.5 883.1 L581.2 885.4 L581.9 891.2 L582.6 892.2 L583.3 888.5 L584.0 890.8 L584.7 893.7 L585.4 888.7 L586.1 885.6 L586.8 888.2 L587.5 889.9 L588.2 893.5 L588.9 891.1 L589.6 890.2 L590.3 896.0 L591.0 891.5 L591.7 892.0 L592.4 893.6 L593.1 893.6 L593.8 892.4 L594.5 892.6 L595.2 890.1 L595.9 886.9 L596.6 889.2 L597.3 890.3 L598.0 890.7 L598.7 891.1 L599.4 890.9 L600.1 895.9 L600.8 895.1 L601.5 886.9 L602.2 889.4 L602.9 887.7 L603.6 884.4 L604.3 890.4 L605.0 890.3 L605.7 889.9 L606.4 890.8 L607.1 895.5 L607.8 896.6 L608.5 894.5 L609.2 894.3 L609.9 892.7 L610.6 892.1 L611.3 890.5 L612.0 891.4 L612.7 890.9 L613.4 893.7 L614.1 895.4 L614.8 895.1 L615.5 898.3 L616.2 899.3 L616.9 889.2 L617.6 890.7 L618.3 891.0 L619.0 890.2 L619.7 889.0 L620.4 891.9 L621.1 891.9 L621.8 891.0 L622.5 891.5 L623.2 889.5 L623.9 887.3 L624.6 894.1 L625.3 892.6 L626.0 890.8 L626.7 892.9 L627.4 890.1 L628.1 887.7 L628.8 892.8 L629.5 889.5 L630.2 891.7 L630.9 894.8 L631.6 898.3 L632.3 898.0 L633.0 894.5 L633.7 891.5 L634.4 892.9 L635.1 897.8 L635.8 899.9 L636.5 896.2 L637.2 893.4 L637.9 895.8 L638.6 893.4 L639.3 892.3 L640.0 893.4 L640.7 895.6 L641.4 896.0 L642.1 898.0 L642.8 898.8 L643.5 894.7 L644.2 887.0 L644.9 887.9 L645.6 893.2 L646.3 895.9 L647.0 900.0 L647.7 895.8 L648.4 894.6 L649.1 897.6 L649.8 897.8 L650.5 895.0 L651.2 894.6 L651.9 891.1 L652.6 892.1 L653.3 896.0 L654.0 892.5 L654.7 896.5 L655.4 897.7 L656.1 897.9 L656.8 898.1 L657.5 895.2 L658.2 888.7 L658.9 889.9 L659.6 893.1 L660.3 895.9 L661.0 892.0 L661.7 891.8 L662.4 894.4 L663.1 897.0 L663.8 891.1 L664.5 890.7 L665.2 893.9 L665.9 890.1 L666.6 893.9 L667.3 892.9 L668.0 890.2 L668.7 892.0 L669.4 892.3 L670.1 895.1 L670.8 897.4 L671.5 899.4 L672.2 896.4 L672.9 895.0 L673.6 893.8 L674.3 895.6 L675.0 896.6 L675.7 891.5 L676.4 895.2 L677.1 894.5 L677.8 895.4 L678.5 897.0 L679.2 898.1 L679.9 896.4 L680.6 894.8 L681.3 896.0 L682.0 895.6 L682.7 895.1 L683.4 896.6 L684.1 898.1 L684.8 896.7 L685.5 895.0 L686.2 892.2 L686.9 892.8 L687.6 891.1 L688.3 895.3 L689.0 894.7 L689.7 900.6 L690.4 904.2 L691.1 897.9 L691.8 899.1 L692.5 897.3 L693.2 893.8 L693.9 893.4 L694.6 897.5 L695.3 900.0 L696.0 896.4 L696.7 891.1 L697.4 891.5 L698.1 895.2 L698.8 899.2 L699.5 897.6 L700.2 897.6 L700.9 898.9 L701.6 895.9 L702.3 895.0 L703.0 893.6 L703.7 891.0 L704.4 895.7 L705.1 897.7 L705.8 897.4 L706.5 892.4 L707.2 893.1 L707.9 897.5 L708.6 898.0 L709.3 898.6 L710.0 894.3 L710.7 894.6 L711.4 893.9 L712.1 895.2 L712.8 894.6 L713.5 897.1 L714.2 899.0 L714.9 896.4 L715.6 891.6 L716.3 896.5 L717.0 896.2 L717.7 891.9 L718.4 891.8 L719.1 894.7 L719.8 896.1 L720.5 892.9 L721.2 890.4 L721.9 894.5 L722.6 897.4 L723.3 900.4 L724.0 895.2 L724.7 901.8 L725.4 901.5 L726.1 898.1 L726.8 899.3 L727.5 896.9 L728.2 896.6 L728.9 893.4 L729.6 893.3 L730.3 890.5 L731.0 889.2 L731.7 891.9 L732.4 892.8 L733.1 896.3 L733.8 898.0 L734.5 894.8 L735.2 894.4 L735.9 893.4 L736.6 890.0 L737.3 893.5 L738.0 894.3 L738.7 893.0 L739.4 889.4 L740.1 887.6 L740.8 891.9 L741.5 895.6 L742.2 898.6 L742.9 899.0 L743.6 898.9 L744.3 896.8 L745.0 896.9 L745.7 894.5 L746.4 895.9 L747.1 898.7 L747.8 901.7 L748.5 895.2 L749.2 891.3 L749.9 895.5 L750.6 892.2 L751.3 892.3 L752.0 891.7 L752.7 891.6 L753.4 896.5 L754.1 895.3 L754.8 891.9 L755.5 892.4 L756.2 892.3 L756.9 893.9 L757.6 891.7 L758.3 889.9 L759.0 890.0 L759.7 891.2 L760.4 892.3 L761.1 890.3 L761.8 891.9 L762.5 895.5 L763.2 899.8 L763.9 894.2 L764.6 884.5 L765.3 888.2 L766.0 891.0 L766.7 894.0 L767.4 897.2 L768.1 893.5 L768.8 886.5 L769.5 891.0 L770.2 892.7 L770.9 894.1 L771.6 894.9 L772.3 890.6 L773.0 892.4 L773.7 887.9 L774.4 890.6 L775.1 894.3 L775.8 897.3 L776.5 889.8 L777.2 886.5 L777.9 891.1 L778.6 891.0 L779.3 894.2 L780.0 889.5 L780.7 888.8 L781.4 893.5 L782.1 892.7 L782.8 892.3 L783.5 888.7 L784.2 893.4 L784.9 890.7 L785.6 891.2 L786.3 886.8 L787.0 884.8 L787.7 888.2 L788.4 891.5 L789.1 894.6 L789.8 892.6 L790.5 892.5 L791.2 894.5 L791.9 898.0 L792.6 890.7 L793.3 892.0 L794.0 890.0 L794.7 889.2 L795.4 888.6 L796.1 890.6 L796.8 885.1 L797.5 883.7 L798.2 885.9 L798.9 885.6 L799.6 890.1 L800.3 890.7 L801.0 887.4 L801.7 889.0 L802.4 886.6 L803.1 887.1 L803.8 889.2 L804.5 892.8 L805.2 888.2 L805.9 883.9 L806.6 884.8 L807.3 888.2 L808.0 882.7 L808.7 883.7 L809.4 883.1 L810.1 878.8 L810.8 883.8 L811.5 888.9 L812.2 886.8 L812.9 884.1 L813.6 887.5 L814.3 889.4 L815.0 891.2 L815.7 884.6 L816.4 883.5 L817.1 884.8 L817.8 884.7 L818.5 884.9 L819.2 883.8 L819.9 881.0 L820.6 878.6 L821.3 880.0 L822.0 878.6 L822.7 879.1 L823.4 881.6 L824.1 885.2 L824.8 885.3 L825.5 881.0 L826.2 883.5 L826.9 885.2 L827.6 881.5 L828.3 875.4 L829.0 874.8 L829.7 883.0 L830.4 885.2 L831.1 882.0 L831.8 879.5 L832.5 885.4 L833.2 885.6 L833.9 881.3 L834.6 878.0 L835.3 874.9 L836.0 879.2 L836.7 876.4 L837.4 881.1 L838.1 882.5 L838.8 881.9 L839.5 883.9 L840.2 880.2 L840.9 881.3 L841.6 882.1 L842.3 879.9 L843.0 878.7 L843.7 882.2 L844.4 880.5 L845.1 877.8 L845.8 877.4 L846.5 880.0 L847.2 884.7 L847.9 879.4 L848.6 875.4 L849.3 872.1 L850.0 870.0 L850.7 869.4 L851.4 874.9 L852.1 874.9 L852.8 870.7 L853.5 869.1 L854.2 871.8 L854.9 871.2 L855.6 869.7 L856.3 873.6 L857.0 874.2 L857.7 874.0 L858.4 874.8 L859.1 872.7 L859.8 875.4 L860.5 870.9 L861.2 873.5 L861.9 874.3 L862.6 871.9 L863.3 871.3 L864.0 866.2 L864.7 865.0 L865.4 868.3 L866.1 868.9 L866.8 871.9 L867.5 871.8 L868.2 872.7 L868.9 872.0 L869.6 871.1 L870.3 870.1 L871.0 868.2 L871.7 869.8 L872.4 874.0 L873.1 865.5 L873.8 868.0 L874.5 872.7 L875.2 872.8 L875.9 874.5 L876.6 870.9 L877.3 865.0 L878.0 865.1 L878.7 864.7 L879.4 871.9 L880.1 873.8 L880.8 868.9 L881.5 869.3 L882.2 866.1 L882.9 862.7 L883.6 863.8 L884.3 861.9 L885.0 864.8 L885.7 868.7 L886.4 871.6 L887.1 872.3 L887.8 868.0 L888.5 868.4 L889.2 869.6 L889.9 866.8 L890.6 857.6 L891.3 862.6 L892.0 867.8 L892.7 864.2 L893.4 867.4 L894.1 867.9 L894.8 861.0 L895.5 864.3 L896.2 867.0 L896.9 865.1 L897.6 861.5 L898.3 865.3 L899.0 865.4 L899.7 868.6 L900.4 867.6 L901.1 864.6 L901.8 865.2 L902.5 863.0 L903.2 861.2 L903.9 859.5 L904.6 864.1 L905.3 868.2 L906.0 866.8 L906.7 865.1 L907.4 863.0 L908.1 864.0 L908.8 866.1 L909.5 863.4 L910.2 871.0 L910.9 869.6 L911.6 874.0 L912.3 871.4 L913.0 866.3 L913.7 868.1 L914.4 867.9 L915.1 868.4 L915.8 868.5 L916.5 864.3 L917.2 863.0 L917.9 862.7 L918.6 860.9 L919.3 864.1 L920.0 866.9 L920.7 867.4 L921.4 866.7 L922.1 865.9 L922.8 866.5 L923.5 859.9 L924.2 862.7 L924.9 865.7 L925.6 869.7 L926.3 870.2 L927.0 869.7 L927.7 868.2 L928.4 868.6 L929.1 864.2 L929.8 863.7 L930.5 861.3 L931.2 871.7 L931.9 872.9 L932.6 865.3 L933.3 861.1 L934.0 857.2 L934.7 859.2 L935.4 864.7 L936.1 863.7 L936.8 859.7 L937.5 861.2 L938.2 862.5 L938.9 866.2 L939.6 867.1 L940.3 864.7 L941.0 865.0 L941.7 863.3 L942.4 858.9 L943.1 864.7 L943.8 867.5 L944.5 868.1 L945.2 863.5 L945.9 868.8 L946.6 868.2 L947.3 871.5 L948.0 873.7 L948.7 867.1 L949.4 868.2 L950.1 874.4 L950.8 870.7 L951.5 871.2 L952.2 875.9 L952.9 876.1 L953.6 878.3 L954.3 877.7 L955.0 877.5 L955.7 881.6 L956.4 884.4 L957.1 880.1 L957.8 882.8 L958.5 882.4 L959.2 879.5 L959.9 878.6 L960.6 875.2 L961.3 875.9 L962.0 878.8 L962.7 880.0 L963.4 881.7 L964.1 876.1 L964.8 876.7 L965.5 877.2 L966.2 879.7 L966.9 882.2 L967.6 878.3 L968.3 881.3 L969.0 879.2 L969.7 880.0 L970.4 883.3 L971.1 881.6 L971.8 883.0 L972.5 882.1 L973.2 880.8 L973.9 879.0 L974.6 875.8 L975.3 878.5 L976.0 882.2 L976.7 881.8 L977.4 879.2 L978.1 884.9 L978.8 884.3 L979.5 878.9 L980.2 879.5 L980.9 882.5 L981.6 878.3 L982.3 880.1 L983.0 883.0 L983.7 883.7 L984.4 884.3 L985.1 884.9 L985.8 882.3 L986.5 884.5 L987.2 889.3 L987.9 882.5 L988.6 883.0 L989.3 885.0 L990.0 885.1 L990.7 889.0 L991.4 888.1 L992.1 886.5 L992.8 880.9 L993.5 889.1 L994.2 890.8 L994.9 887.4 L995.6 891.1 L996.3 890.7 L997.0 892.7 L997.7 894.6 L998.4 889.9 L999.1 886.5 L999.8 887.6 L1000.5 885.6 L1001.2 886.1 L1001.9 886.9 L1002.6 888.9 L1003.3 894.1 L1004.0 893.5 L1004.7 890.3 L1005.4 892.4 L1006.1 887.4 L1006.8 888.5 L1007.5 892.0 L1008.2 895.9 L1008.9 895.6 L1009.6 895.4 L1010.3 897.2 L1011.0 897.0 L1011.7 896.7 L1012.4 890.9 L1013.1 887.9 L1013.8 891.8 L1014.5 895.9 L1015.2 896.0 L1015.9 897.2 L1016.6 897.2 L1017.3 896.9 L1018.0 896.5 L1018.7 894.2 L1019.4 896.3 L1020.1 892.9 L1020.8 892.7 L1021.5 891.6 L1022.2 894.1 L1022.9 892.6 L1023.6 896.8 L1024.3 893.1 L1025.0 895.0 L1025.7 894.7 L1026.4 894.2 L1027.1 898.0 L1027.8 896.8 L1028.5 898.7 L1029.2 893.8 L1029.9 891.6 L1030.6 890.7 L1031.3 896.9 L1032.0 899.3 L1032.7 897.6 L1033.4 895.5 L1034.1 895.8 L1034.8 902.6 L1035.5 899.0 L1036.2 892.3 L1036.9 892.6 L1037.6 891.1 L1038.3 900.6 L1039.0 904.5 L1039.7 902.4 L1040.4 897.7 L1041.1 894.6 L1041.8 893.6 L1042.5 897.1 L1043.2 895.6 L1043.9 895.5 L1044.6 895.4 L1045.3 897.0 L1046.0 901.1 L1046.7 902.9 L1047.4 899.5 L1048.1 897.2 L1048.8 894.1 L1049.5 893.2 L1050.2 895.0 L1050.9 899.8 L1051.6 900.2 L1052.3 901.3 L1053.0 899.8 L1053.7 896.7 L1054.4 894.7 L1055.1 895.5 L1055.8 896.1 L1056.5 902.9 L1057.2 900.7 L1057.9 899.6 L1058.6 903.4 L1059.3 899.9 L1060.0 900.0 L1060.7 899.3 L1061.4 899.7 L1062.1 898.9 L1062.8 901.4 L1063.5 902.4 L1064.2 895.6 L1064.9 893.9 L1065.6 901.5 L1066.3 901.8 L1067.0 901.9 L1067.7 900.9 L1068.4 905.0 L1069.1 904.9 L1069.8 898.9 L1070.5 900.5 L1071.2 898.0 L1071.9 895.5 L1072.6 898.8 L1073.3 900.6 L1074.0 896.5 L1074.7 897.2 L1075.4 902.9 L1076.1 902.0 L1076.8 901.0 L1077.5 897.8 L1078.2 898.5 L1078.9 901.0 L1079.6 901.8 L1080.3 902.9 L1081.0 905.5 L1081.7 901.8 L1082.4 897.0 L1083.1 898.1 L1083.8 901.7 L1084.5 904.3 L1085.2 900.6 L1085.9 900.2 L1086.6 900.9 L1087.3 899.5 L1088.0 899.2 L1088.7 901.6 L1089.4 904.8 L1090.1 903.9 L1090.8 902.2 L1091.5 902.2 L1092.2 900.2 L1092.9 904.6 L1093.6 905.4 L1094.3 902.8 L1095.0 900.4 L1095.7 904.6 L1096.4 896.4 L1097.1 897.7 L1097.8 900.5 L1098.5 903.1 L1099.2 900.2 L1099.9 902.7 L1100.6 903.0 L1101.3 903.3 L1102.0 906.5 L1102.7 908.1 L1103.4 905.5 L1104.1 901.7 L1104.8 899.1 L1105.5 905.7 L1106.2 903.0 L1106.9 899.4 L1107.6 904.3 L1108.3 907.8 L1109.0 904.2 L1109.7 903.1 L1110.4 909.6 L1111.1 907.9 L1111.8 906.7 L1112.5 905.9 L1113.2 900.1 L1113.9 903.0 L1114.6 906.1 L1115.3 910.0 L1116.0 904.9 L1116.7 902.4 L1117.4 900.8 L1118.1 902.1 L1118.8 904.5 L1119.5 905.8 L1120.2 906.6 L1120.9 910.7 L1121.6 908.7 L1122.3 908.6 L1123.0 910.0 L1123.7 907.9 L1124.4 903.9 L1125.1 902.0 L1125.8 905.1 L1126.5 905.2 L1127.2 908.1 L1127.9 903.6 L1128.6 900.3 L1129.3 905.5 L1130.0 908.8 L1130.7 906.7 L1131.4 906.8 L1132.1 908.2 L1132.8 911.0 L1133.5 908.5 L1134.2 906.3 L1134.9 903.9 L1135.6 903.3 L1136.3 909.8 L1137.0 909.9 L1137.7 905.8 L1138.4 907.9 L1139.1 907.8 L1139.8 906.0 L1140.5 906.5 L1141.2 907.8 L1141.9 904.3 L1142.6 904.9 L1143.3 906.6 L1144.0 907.0 L1144.7 906.9 L1145.4 908.0 L1146.1 908.1 L1146.8 905.6 L1147.5 906.6 L1148.2 907.3 L1148.9 909.7 L1149.6 905.1 L1150.3 906.5 L1151.0 908.9 L1151.7 907.2 L1152.4 906.3 L1153.1 906.4 L1153.8 907.3 L1154.5 905.2 L1155.2 906.8 L1155.9 906.6 L1156.6 904.6 L1157.3 907.3 L1158.0 907.4 L1158.7 909.1 L1159.4 910.7 L1160.1 908.8 L1160.8 905.9 L1161.5 907.1 L1162.2 904.2 L1162.9 906.6 L1163.6 911.9 L1164.3 910.7 L1165.0 912.1 L1165.7 909.2 L1166.4 907.7 L1167.1 906.7 L1167.8 910.0 L1168.5 909.4 L1169.2 910.5 L1169.9 910.7 L1170.6 910.7 L1171.3 910.1 L1172.0 909.2 L1172.7 908.6 L1173.4 906.0 L1174.1 904.0 L1174.8 910.4 L1175.5 915.3 L1176.2 915.0 L1176.9 916.0 L1177.6 911.6 L1178.3 906.9 L1179.0 907.1 L1179.7 911.0 L1180.4 910.9 L1181.1 910.2 L1181.8 910.9 L1182.5 908.7 L1183.2 910.4 L1183.9 909.8 L1184.6 911.1 L1185.3 912.9 L1186.0 911.6 L1186.7 914.3 L1187.4 913.8 L1188.1 911.1 L1188.8 914.5 L1189.5 909.1 L1190.2 910.0 L1190.9 910.7 L1191.6 906.6 L1192.3 912.3 L1193.0 914.0 L1193.7 911.5 L1194.4 911.6 L1195.1 911.5 L1195.8 911.4 L1196.5 913.1 L1197.2 910.9 L1197.9 911.0 L1198.6 912.6 L1199.3 914.2 L1200.0 913.4 L1200.7 907.2 L1201.4 905.5 L1202.1 909.6 L1202.8 910.4 L1203.5 909.1 L1204.2 911.9 L1204.9 913.4 L1205.6 914.0 L1206.3 915.0 L1207.0 910.4 L1207.7 912.3 L1208.4 916.6 L1209.1 913.8 L1209.8 909.8 L1210.5 912.3 L1211.2 916.1 L1211.9 917.9 L1212.6 915.6 L1213.3 914.3 L1214.0 910.0 L1214.7 911.5 L1215.4 913.9 L1216.1 910.6 L1216.8 910.0 L1217.5 908.8 L1218.2 914.2 L1218.9 913.2 L1219.6 912.4 L1220.3 908.3 L1221.0 909.5 L1221.7 915.3 L1222.4 912.4 L1223.1 911.2 L1223.8 913.6 L1224.5 912.7 L1225.2 907.7 L1225.9 909.0 L1226.6 912.0 L1227.3 912.8 L1228.0 913.1 L1228.7 911.7 L1229.4 911.9 L1230.1 912.6 L1230.8 910.8 L1231.5 910.1 L1232.2 911.0 L1232.9 912.4 L1233.6 912.2 L1234.3 911.6 L1235.0 912.1 L1235.7 912.9 L1236.4 914.0 L1237.1 913.3 L1237.8 911.1 L1238.5 913.4 L1239.2 910.6 L1239.9 912.9 L1240.6 912.4 L1241.3 914.9 L1242.0 914.9 L1242.7 910.2 L1243.4 913.7 L1244.1 914.1 L1244.8 912.9 L1245.5 913.7 L1246.2 912.7 L1246.9 912.8 L1247.6 911.8 L1248.3 915.1 L1249.0 916.0 L1249.7 915.3 L1250.4 913.9 L1251.1 918.7 L1251.8 919.3 L1252.5 914.6 L1253.2 912.5 L1253.9 913.1 L1254.6 915.8 L1255.3 916.1 L1256.0 911.5 L1256.7 909.1 L1257.4 913.5 L1258.1 914.2 L1258.8 914.6 L1259.5 914.5 L1260.2 911.8 L1260.9 913.2 L1261.6 913.6 L1262.3 915.4 L1263.0 917.0 L1263.7 914.2 L1264.4 912.9 L1265.1 916.7 L1265.8 916.3 L1266.5 912.9 L1267.2 909.3 L1267.9 911.0 L1268.6 914.2 L1269.3 915.1 L1270.0 913.6 L1270.7 914.3 L1271.4 912.7 L1272.1 913.2 L1272.8 914.9 L1273.5 914.0 L1274.2 914.9 L1274.9 916.9 L1275.6 916.4 L1276.3 912.5 L1277.0 910.9 L1277.7 908.2 L1278.4 908.0 L1279.1 910.5 L1279.8 908.2 L1280.5 905.4 L1281.2 908.4 L1281.9 906.5 L1282.6 906.7 L1283.3 908.2 L1284.0 907.7 L1284.7 904.6 L1285.4 900.8 L1286.1 905.0 L1286.7 905.1 L1286.8 899.9 L1287.5 899.9 L1288.2 907.8 L1288.9 908.6 L1289.6 909.2 L1290.3 911.1 L1291.0 909.9 L1291.7 908.7 L1292.4 914.1 L1293.1 916.9 L1293.8 917.5 L1294.5 920.1 L1295.2 920.1 L1295.9 914.8 L1296.6 914.8 L1297.3 917.5 L1298.0 916.9 L1298.7 917.0 L1299.4 918.5 L1300.1 917.9 L1300.8 915.6 L1301.5 915.6 L1302.2 914.5 L1302.9 914.6 L1303.6 912.4 L1304.3 911.0 L1305.0 913.6 L1305.7 915.4 L1306.4 919.0 L1307.1 920.5 L1307.8 917.9 L1308.5 917.3 L1309.2 915.1 L1309.9 914.2 L1310.6 915.5 L1311.3 916.3 L1312.0 917.6 L1312.7 918.6 L1313.4 920.7 L1314.1 916.8 L1314.8 913.7 L1315.5 916.2 L1316.2 916.3 L1316.9 918.3 L1317.6 919.8 L1318.3 917.0 L1319.0 917.6 L1319.7 918.3 L1320.4 916.4 L1321.1 918.2 L1321.8 919.9 L1322.5 920.9 L1323.2 921.4 L1323.9 920.4 L1324.6 918.7 L1325.3 914.0 L1326.0 911.3 L1326.7 915.7 L1327.4 921.0 L1328.1 918.3 L1328.8 913.7 L1329.5 916.6 L1330.2 918.1 L1330.9 915.4 L1331.6 918.1 L1332.3 917.4 L1333.0 920.3 L1333.7 921.4 L1334.4 924.6 L1335.1 918.1 L1335.8 917.7 L1336.5 916.7 L1337.2 920.5 L1337.9 920.5 L1338.6 921.0 L1339.3 919.0 L1340.0 916.2 L1340.7 916.1 L1341.4 915.3 L1342.1 916.1 L1342.8 919.3 L1343.5 921.9 L1344.2 921.8 L1344.9 920.3 L1345.6 918.5 L1346.3 919.3 L1347.0 917.7 L1347.7 919.5 L1348.4 920.9 L1349.1 918.9 L1349.8 917.8 L1350.5 918.3 L1351.2 920.0 L1351.9 918.0 L1352.6 915.7 L1353.3 916.8 L1354.0 917.6 L1354.7 921.7 L1355.4 919.3 L1356.1 916.3 L1356.8 919.3 L1357.5 921.2 L1358.2 920.3 L1358.9 918.9 L1359.6 919.6 L1360.3 920.6 L1361.0 921.9 L1361.7 922.2 L1362.4 924.2 L1363.1 921.3 L1363.8 922.5 L1364.5 919.4 L1365.2 915.2 L1365.9 914.9 L1366.6 914.0 L1367.3 915.6 L1368.0 920.7 L1368.7 919.4 L1369.4 920.0 L1370.1 918.2 L1370.8 918.5 L1371.5 918.1 L1372.2 920.8 L1372.9 919.6 L1373.6 918.7 L1374.3 920.6 L1375.0 924.6 L1375.7 922.7 L1376.4 921.2 L1377.1 917.6 L1377.8 918.1 L1378.5 919.2 L1379.2 917.3 L1379.9 922.0 L1380.6 921.6 L1381.3 920.3 L1382.0 919.7 L1382.7 919.4 L1383.4 920.0 L1384.1 923.4 L1384.8 923.5 L1385.5 923.3 L1386.2 920.1 L1386.9 919.4 L1387.6 922.1 L1388.3 918.6 L1389.0 919.2 L1389.7 922.5 L1390.4 922.7 L1391.1 918.7 L1391.8 919.6 L1392.5 920.8 L1393.2 920.3 L1393.9 919.7 L1394.6 921.7 L1395.3 920.4 L1396.0 919.1 L1396.7 916.5 L1397.4 918.6 L1398.1 917.8 L1398.8 922.0 L1399.5 922.6 L1400.2 920.8 L1400.9 921.6 L1401.6 921.8 L1402.3 921.5 L1403.0 922.2 L1403.7 921.3 L1404.4 920.1 L1405.1 920.8 L1405.8 924.7 L1406.5 923.1 L1407.2 922.2 L1407.9 923.0 L1408.6 921.2 L1409.3 921.2 L1410.0 923.6 L1410.7 924.7 L1411.4 923.0 L1412.1 919.3 L1412.8 921.1 L1413.5 922.2 L1414.2 922.3 L1414.9 919.8 L1415.6 919.3 L1416.3 920.6 L1417.0 919.5 L1417.7 919.3 L1418.4 921.8 L1419.1 924.0 L1419.8 923.6 L1420.5 923.8 L1421.2 921.2 L1421.9 923.0 L1422.6 922.0 L1423.3 920.1 L1424.0 920.3 L1424.7 920.1 L1425.4 920.8 L1426.1 921.3 L1426.8 924.1 L1427.5 921.4 L1428.2 919.0 L1428.9 921.2 L1429.6 922.7 L1430.3 922.3 L1431.0 923.3 L1431.7 920.4 L1432.4 921.0 L1433.1 925.0 L1433.8 923.6 L1434.5 923.7 L1435.2 923.9 L1435.9 923.7 L1436.6 922.6 L1437.3 922.6 L1438.0 924.0 L1438.7 922.0 L1439.4 922.6 L1440.1 923.5 L1440.8 921.0 L1441.5 919.2 L1442.2 922.9 L1442.9 924.9 L1443.6 922.4 L1444.3 919.4 L1445.0 923.7 L1445.7 925.7 L1446.4 918.8 L1447.1 915.8 L1447.8 920.2 L1448.5 922.8 L1449.2 924.4 L1449.9 924.4 L1450.6 923.3 L1451.3 923.6 L1452.0 923.4 L1452.7 922.7 L1453.4 922.2 L1454.1 922.4 L1454.8 923.8 L1455.5 923.3 L1456.2 922.3 L1456.9 923.8 L1457.6 921.4 L1458.3 921.5 L1459.0 921.3 L1459.7 918.4 L1460.4 920.9 L1461.1 924.3 L1461.8 923.7 L1462.5 919.9 L1463.2 919.3 L1463.9 919.5 L1464.6 921.2 L1465.3 921.1 L1466.0 919.3 L1466.7 922.0 L1467.4 922.6 L1468.1 921.8 L1468.8 920.8 L1469.5 920.5 L1470.2 918.8 L1470.9 921.8 L1471.6 922.8 L1472.3 921.5 L1473.0 920.6 L1473.7 924.8 L1474.4 924.2 L1475.1 919.5 L1475.8 922.1 L1476.5 921.3 L1477.2 917.6 L1477.9 922.2 L1478.6 924.3 L1479.3 924.2 L1480.0 922.7 L1480.7 921.1" stroke-width="3.6" stroke-linejoin="miter" stroke-miterlimit="2"/></g>
<g fill="none" stroke="#00ff00" stroke-linecap="butt"><path d="M109.4 800.4 L110.1 800.7 L110.8 797.9 L111.5 799.9 L112.2 799.0 L112.9 797.4 L113.6 797.5 L114.3 796.6 L115.0 802.0 L115.7 802.3 L116.4 802.6 L117.1 798.8 L117.8 797.7 L118.5 796.8 L119.2 796.6 L119.9 797.6 L120.6 798.3 L121.3 799.6 L122.0 798.7 L122.7 798.8 L123.4 799.3 L124.1 799.9 L124.8 799.3 L125.5 797.3 L126.2 797.2 L126.9 799.6 L127.6 799.4 L128.3 798.5 L129.0 797.4 L129.7 796.6 L130.4 796.4 L131.1 796.2 L131.8 797.6 L132.5 797.9 L133.2 797.6 L133.9 793.9 L134.6 794.8 L135.3 792.9 L136.0 794.0 L136.7 793.2 L137.4 794.8 L138.1 795.9 L138.8 794.4 L139.5 793.6 L140.2 793.9 L140.9 796.4 L141.6 797.0 L142.3 797.2 L143.0 796.8 L143.7 795.7 L144.4 794.4 L145.1 793.7 L145.8 794.5 L146.5 795.1 L147.2 793.6 L147.9 793.1 L148.6 790.6 L149.3 792.0 L150.0 792.2 L150.7 792.9 L151.4 792.2 L152.1 790.5 L152.8 792.9 L153.5 790.6 L154.2 790.5 L154.9 790.3 L155.6 793.6 L156.3 792.1 L157.0 790.7 L157.7 789.7 L158.4 791.2 L159.1 793.3 L159.8 791.6 L160.5 792.4 L161.2 789.5 L161.9 792.1 L162.6 791.6 L163.3 792.2 L164.0 788.7 L164.7 790.4 L165.4 791.5 L166.1 793.9 L166.8 793.2 L167.5 792.7 L168.2 791.1 L168.9 788.9 L169.6 787.5 L170.3 789.5 L171.0 788.7 L171.7 788.8 L172.4 786.8 L173.1 788.5 L173.8 789.6 L174.5 788.5 L175.2 786.3 L175.9 785.6 L176.6 788.1 L177.3 790.6 L178.0 790.7 L178.7 789.0 L179.4 788.3 L180.1 787.7 L180.8 788.8 L181.5 787.5 L182.2 787.8 L182.9 786.7 L183.6 788.0 L184.3 788.0 L185.0 790.8 L185.7 791.7 L186.4 792.9 L187.1 787.9 L187.8 785.8 L188.5 783.4 L189.2 786.1 L189.9 783.9 L190.6 785.7 L191.3 786.2 L192.0 787.1 L192.7 784.7 L193.4 782.6 L194.1 783.9 L194.8 785.6 L195.5 788.5 L196.2 788.2 L196.9 788.2 L197.6 786.1 L198.3 788.1 L199.0 787.9 L199.7 789.1 L200.4 786.0 L201.1 784.9 L201.8 782.4 L202.5 785.1 L203.2 785.9 L203.9 786.4 L204.6 784.1 L205.3 783.9 L206.0 783.3 L206.7 782.7 L207.4 782.6 L208.1 785.9 L208.8 786.6 L209.5 785.3 L210.2 781.3 L210.9 780.0 L211.6 781.0 L212.3 783.1 L213.0 784.5 L213.7 784.1 L214.4 783.2 L215.1 783.2 L215.8 781.1 L216.5 780.4 L217.2 780.2 L217.9 780.9 L218.6 780.8 L219.3 779.7 L220.0 780.1 L220.7 781.4 L221.4 781.8 L222.1 781.9 L222.8 781.8 L223.5 782.8 L224.2 784.8 L224.9 781.5 L225.6 781.7 L226.3 779.2 L227.0 781.6 L227.7 781.5 L228.4 783.2 L229.1 784.1 L229.8 783.3 L230.5 783.9 L231.2 782.4 L231.9 782.1 L232.6 781.2 L233.3 780.8 L234.0 783.4 L234.7 783.6 L235.4 786.6 L236.1 784.1 L236.8 782.6 L237.5 780.4 L238.2 781.2 L238.9 780.9 L239.6 781.2 L240.3 780.3 L241.0 782.7 L241.7 781.6 L242.4 782.7 L243.1 780.2 L243.8 779.9 L244.5 777.9 L245.2 777.3 L245.9 778.5 L246.6 780.4 L247.3 781.9 L248.0 782.4 L248.7 783.1 L249.4 783.2 L250.1 782.7 L250.8 780.6 L251.5 778.5 L252.2 779.1 L252.9 777.5 L253.6 780.0 L254.3 779.1 L255.0 782.3 L255.7 781.5 L256.4 780.6 L257.1 779.7 L257.8 779.2 L258.5 779.9 L259.2 779.5 L259.9 780.0 L260.6 780.0 L261.3 779.0 L262.0 778.9 L262.7 776.8 L263.4 777.5 L264.1 776.4 L264.8 780.0 L265.5 781.5 L266.2 780.7 L266.9 779.6 L267.6 778.1 L268.3 779.1 L269.0 779.5 L269.7 779.1 L270.4 778.3 L271.1 777.4 L271.8 777.8 L272.5 779.8 L273.2 778.8 L273.9 779.6 L274.6 780.3 L275.3 780.4 L276.0 779.0 L276.7 778.0 L277.4 778.7 L278.1 781.3 L278.8 781.6 L279.5 781.1 L280.2 778.3 L280.9 778.0 L281.6 781.6 L282.3 782.3 L283.0 782.5 L283.7 780.5 L284.4 780.6 L285.1 783.0 L285.8 781.8 L286.5 782.6 L287.2 780.2 L287.9 781.3 L288.6 779.1 L289.3 780.8 L290.0 779.8 L290.7 781.0 L291.4 777.9 L292.1 777.1 L292.8 777.6 L293.5 779.6 L294.2 781.1 L294.9 781.7 L295.6 781.3 L296.3 780.4 L297.0 779.9 L297.7 779.7 L298.4 779.4 L299.1 779.0 L299.8 779.5 L300.5 779.4 L301.2 777.8 L301.9 776.6 L302.6 778.0 L303.3 777.6 L304.0 776.0 L304.7 773.0 L305.4 773.8 L306.1 770.9 L306.8 770.4 L307.5 769.1 L308.2 768.8 L308.9 768.6 L309.6 766.0 L310.3 764.0 L311.0 759.0 L311.7 752.2 L312.4 747.1 L313.1 743.5 L313.8 737.5 L314.5 732.4 L315.2 720.7 L315.9 712.4 L316.6 698.5 L317.3 682.8 L318.0 664.7 L318.7 645.4 L319.4 623.9 L320.1 592.2 L320.8 534.8 L321.5 472.4 L322.2 423.9 L322.9 375.0 L323.6 327.0 L324.3 289.9 L325.0 258.1 L325.6 245.2 L325.7 247.5 L326.4 266.1 L327.1 297.6 L327.8 346.4 L328.5 408.5 L329.2 472.0 L329.9 559.3 L330.6 620.1 L331.3 649.3 L332.0 664.9 L332.7 678.2 L333.4 691.6 L334.1 710.6 L334.8 730.3 L335.5 743.4 L336.2 753.2 L336.9 761.7 L337.6 768.2 L338.3 776.0 L339.0 779.1 L339.7 781.0 L340.4 780.6 L341.1 781.7 L341.8 782.8 L342.5 783.8 L343.2 782.9 L343.9 780.6 L344.6 780.6 L345.3 780.9 L346.0 786.1 L346.7 784.7 L347.4 784.4 L348.1 784.7 L348.8 784.6 L349.5 786.4 L350.2 786.6 L350.9 788.2 L351.6 788.3 L352.3 787.1 L353.0 788.2 L353.7 787.7 L354.4 788.6 L355.1 788.5 L355.8 792.1 L356.5 791.3 L357.2 789.9 L357.9 788.3 L358.6 788.4 L359.3 789.9 L360.0 789.4 L360.7 791.2 L361.4 790.3 L362.1 790.2 L362.8 786.4 L363.5 786.2 L364.2 788.1 L364.9 790.2 L365.6 790.5 L366.3 787.7 L367.0 789.2 L367.7 790.3 L368.4 790.4 L369.1 790.7 L369.8 790.9 L370.5 793.1 L371.2 791.8 L371.9 793.5 L372.6 793.2 L373.3 793.9 L374.0 791.7 L374.7 791.1 L375.4 792.2 L376.1 792.6 L376.8 794.1 L377.5 794.0 L378.2 795.8 L378.9 795.7 L379.6 795.1 L380.3 791.9 L381.0 791.5 L381.7 792.6 L382.4 794.9 L383.1 795.4 L383.8 794.3 L384.5 793.9 L385.2 792.6 L385.9 794.8 L386.6 795.6 L387.3 796.4 L388.0 793.9 L388.7 793.9 L389.4 796.2 L390.1 798.3 L390.8 798.1 L391.5 798.4 L392.2 799.7 L392.9 801.7 L393.6 801.4 L394.3 801.4 L395.0 801.2 L395.7 801.5 L396.4 799.8 L397.1 801.1 L397.8 800.8 L398.5 803.9 L399.2 800.5 L399.9 801.2 L400.6 800.3 L401.3 802.2 L402.0 802.2 L402.7 802.1 L403.4 803.2 L404.1 802.4 L404.8 801.7 L405.5 802.3 L406.2 804.3 L406.9 804.7 L407.6 803.9 L408.3 803.0 L409.0 804.1 L409.7 803.1 L410.4 801.8 L411.1 801.0 L411.8 801.1 L412.5 802.0 L413.2 802.1 L413.9 803.9 L414.6 803.5 L415.3 804.4 L416.0 802.2 L416.7 804.0 L417.4 801.8 L418.1 802.4 L418.8 802.6 L419.5 803.9 L420.2 804.6 L420.9 803.6 L421.6 804.6 L422.3 805.5 L423.0 806.0 L423.7 806.7 L424.4 806.2 L425.1 805.9 L425.8 804.5 L426.5 806.5 L427.2 808.1 L427.9 810.0 L428.6 808.9 L429.3 807.9 L430.0 807.6 L430.7 807.3 L431.4 808.4 L432.1 808.4 L432.8 808.3 L433.5 807.5 L434.2 806.7 L434.9 809.3 L435.6 812.0 L436.3 812.2 L437.0 810.6 L437.7 805.9 L438.4 806.3 L439.1 806.4 L439.8 807.7 L440.5 808.4 L441.2 806.9 L441.9 807.9 L442.6 807.4 L443.3 807.8 L444.0 808.9 L444.7 809.9 L445.4 809.9 L446.1 807.8 L446.8 807.4 L447.5 808.9 L448.2 809.2 L448.9 808.4 L449.6 808.4 L450.3 809.5 L451.0 810.7 L451.7 811.3 L452.4 813.3 L453.1 813.9 L453.8 814.3 L454.5 813.7 L455.2 813.7 L455.9 813.8 L456.6 811.7 L457.3 811.3 L458.0 810.7 L458.7 813.6 L459.4 812.9 L460.1 813.4 L460.8 812.3 L461.5 813.9 L462.2 813.6 L462.9 813.1 L463.6 811.8 L464.3 811.3 L465.0 811.8 L465.7 811.5 L466.4 812.3 L467.1 814.1 L467.8 813.8 L468.5 813.6 L469.2 811.6 L469.9 812.8 L470.6 811.6 L471.3 811.2 L472.0 810.6 L472.7 812.4 L473.4 813.1 L474.1 812.7 L474.8 811.4 L475.5 812.1 L476.2 814.0 L476.9 815.3 L477.6 815.1 L478.3 814.2 L479.0 813.0 L479.7 812.6 L480.4 812.0 L481.1 813.4 L481.8 813.7 L482.5 812.9 L483.2 813.8 L483.9 815.6 L484.6 816.6 L485.3 816.1 L486.0 814.8 L486.7 815.9 L487.4 814.2 L488.1 815.6 L488.8 814.5 L489.5 817.3 L490.2 815.9 L490.9 816.1 L491.6 814.9 L492.3 815.8 L493.0 815.5 L493.7 815.4 L494.4 814.1 L495.1 813.4 L495.8 815.2 L496.5 816.3 L497.2 818.0 L497.9 818.0 L498.6 816.6 L499.3 816.7 L500.0 817.3 L500.7 819.3 L501.4 817.3 L502.1 812.6 L502.8 810.7 L503.5 814.0 L504.2 816.8 L504.9 817.6 L505.6 817.3 L506.3 817.0 L507.0 817.4 L507.7 817.7 L508.4 819.1 L509.1 819.3 L509.8 818.0 L510.5 818.1 L511.2 817.4 L511.9 819.3 L512.6 821.3 L513.3 821.1 L514.0 817.8 L514.7 815.0 L515.4 816.1 L516.1 819.2 L516.8 820.7 L517.5 819.7 L518.2 818.0 L518.9 818.2 L519.6 818.0 L520.3 819.8 L521.0 818.4 L521.7 820.3 L522.4 820.0 L523.1 821.0 L523.8 821.1 L524.5 819.5 L525.2 819.1 L525.9 818.4 L526.6 819.7 L527.3 820.6 L528.0 820.4 L528.7 819.5 L529.4 817.7 L530.1 817.8 L530.8 819.2 L531.5 819.2 L532.2 820.7 L532.9 820.3 L533.6 820.9 L534.3 818.6 L535.0 818.7 L535.7 819.6 L536.4 819.3 L537.1 820.3 L537.8 821.2 L538.5 823.3 L539.2 822.7 L539.9 823.5 L540.6 824.5 L541.3 823.2 L542.0 821.0 L542.7 819.8 L543.4 820.6 L544.1 818.5 L544.8 819.4 L545.5 819.0 L546.2 821.5 L546.9 820.8 L547.6 822.3 L548.3 821.9 L549.0 821.4 L549.7 821.1 L550.4 822.8 L551.1 823.4 L551.8 824.2 L552.5 823.2 L553.2 823.1 L553.9 823.3 L554.6 822.4 L555.3 823.9 L556.0 822.1 L556.7 823.4 L557.4 821.3 L558.1 821.1 L558.8 821.7 L559.5 823.1 L560.2 824.0 L560.9 822.7 L561.6 823.0 L562.3 821.7 L563.0 821.2 L563.7 820.7 L564.4 821.3 L565.1 821.7 L565.8 821.9 L566.5 822.6 L567.2 823.1 L567.9 824.8 L568.6 825.9 L569.3 827.4 L570.0 825.8 L570.7 824.5 L571.4 822.1 L572.1 821.8 L572.8 820.4 L573.5 821.3 L574.2 822.4 L574.9 825.9 L575.6 827.4 L576.3 826.0 L577.0 825.0 L577.7 823.4 L578.4 825.0 L579.1 824.5 L579.8 826.1 L580.5 827.8 L581.2 828.8 L581.9 830.3 L582.6 828.1 L583.3 827.0 L584.0 826.1 L584.7 827.6 L585.4 827.5 L586.1 826.4 L586.8 823.5 L587.5 823.9 L588.2 824.7 L588.9 826.0 L589.6 825.7 L590.3 823.6 L591.0 824.1 L591.7 825.4 L592.4 827.3 L593.1 827.3 L593.8 825.4 L594.5 826.5 L595.2 826.3 L595.9 827.4 L596.6 826.5 L597.3 824.6 L598.0 824.8 L598.7 824.0 L599.4 826.4 L600.1 827.8 L600.8 828.4 L601.5 826.4 L602.2 824.9 L602.9 824.7 L603.6 826.6 L604.3 825.8 L605.0 824.1 L605.7 824.6 L606.4 826.1 L607.1 827.7 L607.8 825.6 L608.5 827.0 L609.2 824.4 L609.9 825.7 L610.6 826.1 L611.3 828.7 L612.0 829.3 L612.7 826.3 L613.4 827.8 L614.1 826.4 L614.8 827.8 L615.5 826.7 L616.2 827.0 L616.9 827.6 L617.6 826.2 L618.3 826.6 L619.0 825.8 L619.7 826.8 L620.4 827.9 L621.1 828.8 L621.8 829.0 L622.5 828.1 L623.2 826.8 L623.9 826.8 L624.6 828.1 L625.3 828.4 L626.0 829.2 L626.7 828.4 L627.4 827.8 L628.1 828.3 L628.8 827.5 L629.5 828.3 L630.2 828.9 L630.9 828.9 L631.6 828.9 L632.3 826.1 L633.0 826.6 L633.7 825.4 L634.4 826.5 L635.1 826.5 L635.8 828.0 L636.5 829.8 L637.2 830.6 L637.9 831.1 L638.6 829.6 L639.3 829.2 L640.0 827.8 L640.7 826.2 L641.4 826.5 L642.1 828.8 L642.8 830.9 L643.5 830.3 L644.2 830.4 L644.9 829.5 L645.6 829.5 L646.3 826.9 L647.0 826.4 L647.7 826.8 L648.4 829.7 L649.1 830.4 L649.8 829.7 L650.5 827.3 L651.2 827.3 L651.9 826.7 L652.6 827.4 L653.3 828.2 L654.0 830.1 L654.7 830.5 L655.4 828.7 L656.1 826.9 L656.8 827.5 L657.5 829.7 L658.2 829.9 L658.9 828.9 L659.6 827.9 L660.3 829.8 L661.0 829.8 L661.7 829.4 L662.4 829.0 L663.1 829.0 L663.8 829.4 L664.5 827.6 L665.2 824.7 L665.9 824.0 L666.6 824.2 L667.3 827.2 L668.0 828.6 L668.7 830.3 L669.4 829.7 L670.1 829.2 L670.8 830.0 L671.5 829.7 L672.2 830.5 L672.9 830.0 L673.6 830.9 L674.3 831.4 L675.0 830.1 L675.7 830.8 L676.4 828.6 L677.1 828.6 L677.8 826.7 L678.5 828.0 L679.2 827.8 L679.9 828.9 L680.6 827.4 L681.3 829.3 L682.0 830.9 L682.7 832.1 L683.4 832.7 L684.1 831.5 L684.8 833.3 L685.5 831.9 L686.2 829.9 L686.9 829.3 L687.6 829.1 L688.3 829.6 L689.0 827.6 L689.7 826.3 L690.4 827.1 L691.1 826.7 L691.8 829.5 L692.5 830.3 L693.2 829.7 L693.9 827.0 L694.6 825.9 L695.3 825.6 L696.0 826.9 L696.7 827.4 L697.4 828.5 L698.1 828.0 L698.8 828.5 L699.5 830.5 L700.2 832.4 L700.9 832.0 L701.6 831.4 L702.3 829.4 L703.0 829.7 L703.7 828.1 L704.4 829.4 L705.1 827.9 L705.8 827.9 L706.5 827.2 L707.2 828.8 L707.9 828.4 L708.6 827.9 L709.3 827.5 L710.0 829.0 L710.7 828.7 L711.4 828.6 L712.1 828.2 L712.8 830.2 L713.5 830.6 L714.2 829.6 L714.9 826.3 L715.6 825.9 L716.3 828.2 L717.0 830.3 L717.7 831.0 L718.4 829.5 L719.1 828.0 L719.8 827.9 L720.5 828.4 L721.2 830.3 L721.9 828.3 L722.6 828.3 L723.3 827.1 L724.0 829.1 L724.7 828.4 L725.4 828.4 L726.1 827.1 L726.8 828.7 L727.5 829.3 L728.2 829.1 L728.9 827.0 L729.6 826.0 L730.3 828.0 L731.0 827.3 L731.7 827.4 L732.4 826.6 L733.1 829.3 L733.8 830.0 L734.5 830.1 L735.2 829.7 L735.9 830.7 L736.6 830.0 L737.3 830.7 L738.0 830.0 L738.7 831.4 L739.4 828.8 L740.1 829.4 L740.8 826.8 L741.5 826.4 L742.2 826.0 L742.9 826.3 L743.6 828.1 L744.3 826.6 L745.0 828.7 L745.7 828.3 L746.4 828.1 L747.1 826.8 L747.8 827.5 L748.5 827.7 L749.2 828.0 L749.9 829.0 L750.6 830.4 L751.3 829.8 L752.0 827.3 L752.7 827.0 L753.4 825.5 L754.1 823.1 L754.8 821.9 L755.5 822.2 L756.2 826.5 L756.9 827.1 L757.6 827.1 L758.3 824.3 L759.0 824.6 L759.7 824.6 L760.4 825.0 L761.1 824.4 L761.8 825.1 L762.5 825.7 L763.2 825.8 L763.9 826.8 L764.6 828.2 L765.3 826.4 L766.0 827.5 L766.7 825.9 L767.4 828.5 L768.1 825.3 L768.8 825.4 L769.5 824.3 L770.2 825.0 L770.9 825.4 L771.6 825.7 L772.3 824.6 L773.0 823.6 L773.7 823.6 L774.4 825.0 L775.1 824.7 L775.8 823.7 L776.5 822.8 L777.2 822.0 L777.9 821.0 L778.6 822.5 L779.3 823.1 L780.0 824.3 L780.7 822.0 L781.4 823.5 L782.1 825.0 L782.8 825.4 L783.5 824.6 L784.2 822.2 L784.9 823.9 L785.6 824.2 L786.3 824.1 L787.0 823.5 L787.7 822.9 L788.4 824.0 L789.1 823.1 L789.8 822.1 L790.5 821.1 L791.2 821.3 L791.9 821.8 L792.6 821.3 L793.3 822.5 L794.0 822.3 L794.7 822.6 L795.4 819.9 L796.1 820.7 L796.8 822.1 L797.5 822.9 L798.2 823.0 L798.9 820.6 L799.6 819.9 L800.3 818.6 L801.0 819.9 L801.7 820.6 L802.4 819.1 L803.1 821.9 L803.8 820.6 L804.5 822.7 L805.2 820.5 L805.9 822.0 L806.6 821.8 L807.3 818.2 L808.0 816.3 L808.7 816.7 L809.4 818.5 L810.1 818.4 L810.8 815.4 L811.5 817.3 L812.2 818.7 L812.9 820.0 L813.6 818.6 L814.3 817.9 L815.0 817.6 L815.7 817.3 L816.4 817.6 L817.1 819.0 L817.8 820.4 L818.5 820.1 L819.2 819.0 L819.9 818.1 L820.6 817.3 L821.3 816.4 L822.0 817.0 L822.7 817.1 L823.4 818.3 L824.1 817.7 L824.8 816.9 L825.5 817.2 L826.2 816.9 L826.9 817.7 L827.6 817.4 L828.3 816.0 L829.0 813.9 L829.7 813.1 L830.4 812.8 L831.1 815.6 L831.8 815.9 L832.5 816.1 L833.2 815.2 L833.9 816.1 L834.6 817.5 L835.3 817.7 L836.0 816.6 L836.7 815.1 L837.4 814.5 L838.1 814.5 L838.8 814.4 L839.5 814.7 L840.2 812.8 L840.9 811.2 L841.6 809.0 L842.3 809.5 L843.0 812.2 L843.7 814.8 L844.4 814.1 L845.1 811.1 L845.8 810.5 L846.5 811.7 L847.2 811.7 L847.9 811.7 L848.6 811.2 L849.3 813.7 L850.0 812.8 L850.7 813.3 L851.4 812.1 L852.1 810.6 L852.8 809.2 L853.5 808.0 L854.2 809.5 L854.9 808.4 L855.6 807.3 L856.3 806.8 L857.0 808.6 L857.7 811.2 L858.4 811.2 L859.1 808.2 L859.8 805.5 L860.5 803.1 L861.2 803.7 L861.9 801.2 L862.6 800.7 L863.3 800.0 L864.0 800.4 L864.7 799.9 L865.4 800.3 L866.1 800.8 L866.8 801.3 L867.5 800.6 L868.2 800.6 L868.9 799.6 L869.6 797.9 L870.3 798.6 L871.0 797.8 L871.7 797.6 L872.4 797.4 L873.1 797.6 L873.8 799.3 L874.5 800.3 L875.2 801.7 L875.9 801.9 L876.6 802.2 L877.3 803.2 L878.0 801.7 L878.7 799.6 L879.4 800.3 L880.1 802.4 L880.8 801.7 L881.5 799.1 L882.2 798.8 L882.9 800.0 L883.6 801.8 L884.3 801.9 L885.0 803.4 L885.7 801.7 L886.4 802.1 L887.1 803.4 L887.8 803.6 L888.5 804.2 L889.2 802.9 L889.9 804.2 L890.6 802.5 L891.3 800.0 L892.0 798.2 L892.7 798.8 L893.4 800.7 L894.1 802.5 L894.8 802.3 L895.5 801.7 L896.2 799.5 L896.9 796.7 L897.6 795.5 L898.3 796.1 L899.0 797.1 L899.7 795.1 L900.4 794.0 L901.1 792.4 L901.8 794.2 L902.5 793.7 L903.2 795.1 L903.9 795.4 L904.6 796.7 L905.3 798.4 L906.0 797.0 L906.7 794.7 L907.4 794.3 L908.1 797.1 L908.8 801.1 L909.5 800.8 L910.2 800.5 L910.9 799.8 L911.6 798.8 L912.3 798.3 L913.0 799.2 L913.7 800.3 L914.4 803.0 L915.1 800.9 L915.8 801.0 L916.5 800.2 L917.2 801.1 L917.9 800.3 L918.6 797.7 L919.3 797.5 L920.0 800.1 L920.7 801.8 L921.4 803.0 L922.1 800.8 L922.8 801.1 L923.5 800.6 L924.2 800.0 L924.9 798.5 L925.6 798.4 L926.3 800.3 L927.0 800.4 L927.7 800.4 L928.4 800.8 L929.1 799.6 L929.8 797.2 L930.5 795.6 L931.2 796.3 L931.9 796.8 L932.6 795.4 L933.3 793.9 L934.0 793.6 L934.7 791.9 L935.4 791.8 L936.1 788.8 L936.8 787.0 L937.5 785.1 L938.2 784.9 L938.9 785.5 L939.6 784.3 L940.3 783.2 L941.0 781.7 L941.7 780.3 L942.4 778.6 L943.1 776.8 L943.8 776.6 L944.5 778.5 L945.2 781.0 L945.9 784.4 L946.6 787.3 L947.3 790.9 L948.0 793.0 L948.7 793.7 L949.4 794.9 L950.1 796.3 L950.8 797.5 L951.5 797.6 L952.2 799.0 L952.9 801.1 L953.6 803.1 L954.3 803.5 L955.0 804.9 L955.7 804.2 L956.4 804.9 L957.1 804.4 L957.8 806.0 L958.5 804.5 L959.2 805.7 L959.9 806.7 L960.6 809.3 L961.3 809.3 L962.0 808.8 L962.7 807.6 L963.4 807.0 L964.1 806.3 L964.8 807.2 L965.5 809.1 L966.2 808.8 L966.9 810.0 L967.6 807.7 L968.3 807.9 L969.0 807.0 L969.7 809.8 L970.4 810.1 L971.1 808.1 L971.8 807.5 L972.5 808.2 L973.2 809.4 L973.9 808.0 L974.6 807.5 L975.3 808.8 L976.0 810.6 L976.7 810.0 L977.4 812.3 L978.1 811.8 L978.8 813.1 L979.5 811.7 L980.2 812.0 L980.9 814.9 L981.6 815.5 L982.3 815.2 L983.0 812.8 L983.7 811.4 L984.4 811.7 L985.1 812.9 L985.8 813.0 L986.5 815.1 L987.2 814.6 L987.9 815.3 L988.6 814.9 L989.3 813.3 L990.0 812.8 L990.7 812.7 L991.4 814.9 L992.1 816.0 L992.8 816.1 L993.5 815.8 L994.2 815.9 L994.9 814.6 L995.6 813.7 L996.3 815.3 L997.0 816.1 L997.7 817.5 L998.4 817.9 L999.1 820.1 L999.8 820.6 L1000.5 819.0 L1001.2 818.2 L1001.9 818.0 L1002.6 819.3 L1003.3 819.7 L1004.0 820.9 L1004.7 821.3 L1005.4 822.0 L1006.1 823.8 L1006.8 824.7 L1007.5 822.5 L1008.2 821.8 L1008.9 819.4 L1009.6 819.8 L1010.3 819.8 L1011.0 820.3 L1011.7 821.5 L1012.4 821.9 L1013.1 822.1 L1013.8 821.7 L1014.5 821.1 L1015.2 823.0 L1015.9 824.4 L1016.6 822.8 L1017.3 821.1 L1018.0 820.6 L1018.7 824.0 L1019.4 825.6 L1020.1 826.6 L1020.8 826.1 L1021.5 825.1 L1022.2 824.9 L1022.9 824.3 L1023.6 823.8 L1024.3 823.5 L1025.0 823.7 L1025.7 823.7 L1026.4 824.6 L1027.1 824.9 L1027.8 827.0 L1028.5 825.7 L1029.2 825.2 L1029.9 825.7 L1030.6 827.3 L1031.3 826.6 L1032.0 825.5 L1032.7 826.3 L1033.4 827.0 L1034.1 827.3 L1034.8 828.5 L1035.5 828.7 L1036.2 828.3 L1036.9 825.1 L1037.6 824.7 L1038.3 826.3 L1039.0 827.2 L1039.7 826.8 L1040.4 824.7 L1041.1 825.0 L1041.8 826.9 L1042.5 827.2 L1043.2 828.0 L1043.9 826.9 L1044.6 828.0 L1045.3 828.0 L1046.0 829.1 L1046.7 828.5 L1047.4 828.0 L1048.1 828.0 L1048.8 827.3 L1049.5 827.7 L1050.2 827.8 L1050.9 830.1 L1051.6 830.0 L1052.3 829.5 L1053.0 828.7 L1053.7 828.2 L1054.4 828.3 L1055.1 828.6 L1055.8 829.7 L1056.5 829.0 L1057.2 828.4 L1057.9 826.3 L1058.6 828.1 L1059.3 828.0 L1060.0 830.3 L1060.7 828.6 L1061.4 829.1 L1062.1 829.4 L1062.8 831.4 L1063.5 830.3 L1064.2 830.8 L1064.9 829.8 L1065.6 830.4 L1066.3 830.2 L1067.0 830.1 L1067.7 830.7 L1068.4 829.7 L1069.1 830.2 L1069.8 830.6 L1070.5 831.2 L1071.2 830.2 L1071.9 829.8 L1072.6 830.4 L1073.3 832.5 L1074.0 833.1 L1074.7 834.1 L1075.4 833.0 L1076.1 832.1 L1076.8 831.5 L1077.5 830.7 L1078.2 832.2 L1078.9 832.6 L1079.6 833.3 L1080.3 833.0 L1081.0 834.3 L1081.7 834.9 L1082.4 835.3 L1083.1 833.9 L1083.8 833.6 L1084.5 833.4 L1085.2 833.1 L1085.9 831.2 L1086.6 832.6 L1087.3 831.4 L1088.0 832.7 L1088.7 831.9 L1089.4 833.0 L1090.1 832.9 L1090.8 832.7 L1091.5 831.8 L1092.2 832.3 L1092.9 830.9 L1093.6 831.2 L1094.3 832.3 L1095.0 833.8 L1095.7 834.9 L1096.4 835.5 L1097.1 835.4 L1097.8 834.6 L1098.5 833.6 L1099.2 835.2 L1099.9 835.9 L1100.6 836.5 L1101.3 835.0 L1102.0 835.3 L1102.7 835.4 L1103.4 835.6 L1104.1 835.3 L1104.8 834.3 L1105.5 833.6 L1106.2 834.2 L1106.9 835.6 L1107.6 837.2 L1108.3 837.0 L1109.0 835.6 L1109.7 835.4 L1110.4 836.0 L1111.1 835.4 L1111.8 835.6 L1112.5 835.7 L1113.2 838.5 L1113.9 836.9 L1114.6 835.3 L1115.3 834.6 L1116.0 834.0 L1116.7 834.6 L1117.4 833.0 L1118.1 833.7 L1118.8 832.7 L1119.5 833.5 L1120.2 835.3 L1120.9 837.4 L1121.6 838.1 L1122.3 836.9 L1123.0 837.9 L1123.7 838.0 L1124.4 839.3 L1125.1 836.6 L1125.8 836.5 L1126.5 834.6 L1127.2 836.3 L1127.9 836.2 L1128.6 836.3 L1129.3 836.2 L1130.0 837.1 L1130.7 838.5 L1131.4 838.9 L1132.1 837.2 L1132.8 836.2 L1133.5 834.7 L1134.2 835.6 L1134.9 837.3 L1135.6 838.6 L1136.3 838.6 L1137.0 836.6 L1137.7 836.6 L1138.4 836.4 L1139.1 835.7 L1139.8 833.8 L1140.5 833.8 L1141.2 834.7 L1141.9 837.7 L1142.6 838.0 L1143.3 837.9 L1144.0 836.1 L1144.7 837.5 L1145.4 837.6 L1146.1 838.7 L1146.8 837.7 L1147.5 839.8 L1148.2 839.6 L1148.9 838.9 L1149.6 838.1 L1150.3 837.7 L1151.0 839.0 L1151.7 838.5 L1152.4 840.2 L1153.1 839.2 L1153.8 839.7 L1154.5 837.4 L1155.2 837.6 L1155.9 837.3 L1156.6 838.0 L1157.3 838.7 L1158.0 838.3 L1158.7 837.4 L1159.4 837.6 L1160.1 837.9 L1160.8 838.0 L1161.5 838.1 L1162.2 839.1 L1162.9 837.4 L1163.6 836.0 L1164.3 836.1 L1165.0 839.1 L1165.7 839.0 L1166.4 839.8 L1167.1 838.4 L1167.8 838.6 L1168.5 837.4 L1169.2 838.1 L1169.9 839.1 L1170.6 839.9 L1171.3 839.9 L1172.0 840.4 L1172.7 839.0 L1173.4 838.9 L1174.1 839.2 L1174.8 839.9 L1175.5 841.1 L1176.2 839.2 L1176.9 838.9 L1177.6 838.0 L1178.3 838.5 L1179.0 838.5 L1179.7 838.7 L1180.4 839.1 L1181.1 840.5 L1181.8 840.7 L1182.5 840.7 L1183.2 840.5 L1183.9 839.5 L1184.6 837.6 L1185.3 838.3 L1186.0 840.4 L1186.7 841.9 L1187.4 840.9 L1188.1 839.0 L1188.8 837.8 L1189.5 837.8 L1190.2 837.4 L1190.9 839.4 L1191.6 838.6 L1192.3 840.2 L1193.0 841.2 L1193.7 843.5 L1194.4 843.1 L1195.1 842.4 L1195.8 839.9 L1196.5 839.7 L1197.2 839.2 L1197.9 841.4 L1198.6 841.5 L1199.3 841.7 L1200.0 840.6 L1200.7 840.1 L1201.4 839.6 L1202.1 841.0 L1202.8 842.1 L1203.5 842.8 L1204.2 842.3 L1204.9 841.9 L1205.6 842.7 L1206.3 843.4 L1207.0 845.6 L1207.7 845.8 L1208.4 844.2 L1209.1 842.5 L1209.8 840.8 L1210.5 840.5 L1211.2 840.3 L1211.9 841.9 L1212.6 844.0 L1213.3 844.1 L1214.0 844.0 L1214.7 841.6 L1215.4 841.9 L1216.1 840.3 L1216.8 840.0 L1217.5 840.3 L1218.2 841.2 L1218.9 842.2 L1219.6 841.7 L1220.3 840.7 L1221.0 841.0 L1221.7 840.9 L1222.4 841.9 L1223.1 840.9 L1223.8 841.6 L1224.5 841.8 L1225.2 843.9 L1225.9 844.6 L1226.6 844.3 L1227.3 842.6 L1228.0 840.1 L1228.7 839.9 L1229.4 841.7 L1230.1 844.7 L1230.8 842.5 L1231.5 840.6 L1232.2 838.9 L1232.9 840.2 L1233.6 841.0 L1234.3 841.4 L1235.0 841.9 L1235.7 841.7 L1236.4 840.4 L1237.1 840.1 L1237.8 839.5 L1238.5 841.7 L1239.2 841.3 L1239.9 842.0 L1240.6 842.1 L1241.3 843.6 L1242.0 844.6 L1242.7 843.5 L1243.4 844.1 L1244.1 844.4 L1244.8 847.0 L1245.5 847.4 L1246.2 847.9 L1246.9 846.2 L1247.6 845.8 L1248.3 846.0 L1249.0 846.6 L1249.7 847.8 L1250.4 847.1 L1251.1 848.4 L1251.8 849.3 L1252.5 848.0 L1253.2 847.7 L1253.9 846.1 L1254.6 847.2 L1255.3 845.5 L1256.0 845.7 L1256.7 844.4 L1257.4 843.8 L1258.1 842.6 L1258.8 843.7 L1259.5 845.1 L1260.2 846.4 L1260.9 846.5 L1261.6 845.2 L1262.3 843.0 L1263.0 843.0 L1263.7 843.6 L1264.4 845.4 L1265.1 846.3 L1265.8 846.0 L1266.5 845.5 L1267.2 842.3 L1267.9 842.9 L1268.6 843.1 L1269.3 844.4 L1270.0 844.2 L1270.7 843.4 L1271.4 843.6 L1272.1 844.9 L1272.8 846.4 L1273.5 847.7 L1274.2 846.3 L1274.9 845.1 L1275.6 843.2 L1276.3 843.4 L1277.0 841.5 L1277.7 840.7 L1278.4 837.2 L1279.1 835.6 L1279.8 831.4 L1280.5 828.4 L1281.2 828.7 L1281.9 830.8 L1282.6 830.6 L1283.3 827.7 L1284.0 825.4 L1284.7 823.2 L1285.4 823.0 L1286.1 819.3 L1286.8 817.5 L1287.5 811.2 L1288.2 812.1 L1288.9 811.6 L1289.6 813.6 L1290.0 811.9 L1290.3 811.4 L1291.0 812.4 L1291.7 815.4 L1292.4 819.4 L1293.1 824.2 L1293.8 828.1 L1294.5 828.7 L1295.2 830.0 L1295.9 832.1 L1296.6 834.8 L1297.3 836.5 L1298.0 837.8 L1298.7 838.5 L1299.4 840.0 L1300.1 842.7 L1300.8 844.0 L1301.5 844.9 L1302.2 844.9 L1302.9 844.8 L1303.6 844.9 L1304.3 842.9 L1305.0 843.7 L1305.7 842.7 L1306.4 843.5 L1307.1 843.7 L1307.8 844.7 L1308.5 845.4 L1309.2 843.9 L1309.9 845.6 L1310.6 845.7 L1311.3 846.9 L1312.0 845.1 L1312.7 845.7 L1313.4 845.9 L1314.1 846.2 L1314.8 845.6 L1315.5 847.0 L1316.2 846.8 L1316.9 847.6 L1317.6 847.5 L1318.3 848.1 L1319.0 848.8 L1319.7 848.5 L1320.4 847.7 L1321.1 846.9 L1321.8 847.0 L1322.5 848.0 L1323.2 848.0 L1323.9 849.9 L1324.6 850.1 L1325.3 850.4 L1326.0 848.2 L1326.7 849.1 L1327.4 848.7 L1328.1 848.3 L1328.8 846.1 L1329.5 846.6 L1330.2 848.0 L1330.9 847.7 L1331.6 846.6 L1332.3 846.6 L1333.0 848.8 L1333.7 848.3 L1334.4 847.4 L1335.1 847.3 L1335.8 848.0 L1336.5 847.9 L1337.2 846.8 L1337.9 846.2 L1338.6 846.6 L1339.3 847.3 L1340.0 847.3 L1340.7 847.3 L1341.4 848.0 L1342.1 849.4 L1342.8 850.2 L1343.5 848.8 L1344.2 849.8 L1344.9 848.4 L1345.6 850.4 L1346.3 848.9 L1347.0 849.0 L1347.7 846.7 L1348.4 846.8 L1349.1 847.0 L1349.8 847.2 L1350.5 847.3 L1351.2 848.3 L1351.9 849.7 L1352.6 849.7 L1353.3 850.2 L1354.0 848.7 L1354.7 848.1 L1355.4 846.2 L1356.1 847.6 L1356.8 847.2 L1357.5 847.0 L1358.2 847.6 L1358.9 850.4 L1359.6 852.7 L1360.3 850.4 L1361.0 849.0 L1361.7 848.6 L1362.4 850.0 L1363.1 848.7 L1363.8 847.7 L1364.5 846.3 L1365.2 846.6 L1365.9 848.8 L1366.6 850.8 L1367.3 850.6 L1368.0 847.6 L1368.7 847.5 L1369.4 848.2 L1370.1 850.0 L1370.8 849.1 L1371.5 849.5 L1372.2 849.2 L1372.9 848.9 L1373.6 847.6 L1374.3 846.4 L1375.0 846.7 L1375.7 848.2 L1376.4 849.2 L1377.1 849.7 L1377.8 850.4 L1378.5 849.7 L1379.2 851.0 L1379.9 852.3 L1380.6 853.4 L1381.3 852.4 L1382.0 851.8 L1382.7 852.1 L1383.4 852.1 L1384.1 851.0 L1384.8 849.9 L1385.5 848.8 L1386.2 849.5 L1386.9 851.2 L1387.6 851.3 L1388.3 850.7 L1389.0 850.0 L1389.7 850.5 L1390.4 850.0 L1391.1 849.5 L1391.8 848.3 L1392.5 848.9 L1393.2 849.0 L1393.9 852.4 L1394.6 853.3 L1395.3 853.3 L1396.0 851.5 L1396.7 852.2 L1397.4 853.8 L1398.1 854.0 L1398.8 852.5 L1399.5 850.0 L1400.2 849.6 L1400.9 849.6 L1401.6 850.2 L1402.3 851.9 L1403.0 850.5 L1403.7 851.0 L1404.4 849.9 L1405.1 851.8 L1405.8 853.4 L1406.5 851.9 L1407.2 850.9 L1407.9 849.6 L1408.6 850.9 L1409.3 851.2 L1410.0 850.5 L1410.7 851.3 L1411.4 850.7 L1412.1 850.9 L1412.8 851.2 L1413.5 853.5 L1414.2 854.7 L1414.9 852.8 L1415.6 850.7 L1416.3 849.3 L1417.0 849.0 L1417.7 849.4 L1418.4 851.2 L1419.1 852.3 L1419.8 852.1 L1420.5 850.4 L1421.2 849.2 L1421.9 850.9 L1422.6 849.8 L1423.3 851.0 L1424.0 848.9 L1424.7 849.7 L1425.4 848.2 L1426.1 850.2 L1426.8 851.0 L1427.5 854.5 L1428.2 852.9 L1428.9 852.0 L1429.6 850.2 L1430.3 851.6 L1431.0 852.2 L1431.7 850.1 L1432.4 850.8 L1433.1 851.5 L1433.8 853.5 L1434.5 851.8 L1435.2 851.9 L1435.9 851.1 L1436.6 851.6 L1437.3 850.9 L1438.0 852.4 L1438.7 852.0 L1439.4 851.8 L1440.1 851.7 L1440.8 852.3 L1441.5 852.5 L1442.2 851.4 L1442.9 852.0 L1443.6 851.4 L1444.3 852.0 L1445.0 852.9 L1445.7 853.7 L1446.4 852.7 L1447.1 850.0 L1447.8 849.8 L1448.5 849.4 L1449.2 849.0 L1449.9 848.2 L1450.6 848.3 L1451.3 850.4 L1452.0 849.8 L1452.7 851.9 L1453.4 850.6 L1454.1 851.8 L1454.8 851.1 L1455.5 851.8 L1456.2 852.3 L1456.9 850.9 L1457.6 848.8 L1458.3 848.0 L1459.0 847.4 L1459.7 848.8 L1460.4 849.7 L1461.1 850.9 L1461.8 850.9 L1462.5 849.1 L1463.2 849.0 L1463.9 849.3 L1464.6 848.9 L1465.3 849.3 L1466.0 848.5 L1466.7 850.0 L1467.4 849.3 L1468.1 851.0 L1468.8 851.5 L1469.5 851.8 L1470.2 850.8 L1470.9 850.4 L1471.6 851.5 L1472.3 852.4 L1473.0 852.1 L1473.7 851.2 L1474.4 851.6 L1475.1 850.0 L1475.8 850.2 L1476.5 848.0 L1477.2 850.5 L1477.9 849.5 L1478.6 850.1 L1479.3 848.0 L1480.0 848.4 L1480.7 848.5" stroke-width="7.2" stroke-linejoin="round"/><path d="M109.4 805.4 L110.1 794.4 L110.8 798.9 L111.5 798.5 L112.2 797.9 L112.9 796.9 L113.6 792.5 L114.3 796.1 L115.0 799.8 L115.7 810.5 L116.4 803.2 L117.1 797.9 L117.8 797.0 L118.5 795.2 L119.2 794.0 L119.9 796.7 L120.6 799.5 L121.3 799.0 L122.0 801.1 L122.7 798.3 L123.4 799.4 L124.1 803.8 L124.8 800.6 L125.5 796.1 L126.2 796.8 L126.9 800.9 L127.6 804.2 L128.3 797.8 L129.0 796.8 L129.7 799.1 L130.4 794.2 L131.1 795.5 L131.8 799.8 L132.5 799.3 L133.2 797.8 L133.9 795.6 L134.6 787.7 L135.3 795.5 L136.0 791.6 L136.7 789.0 L137.4 795.5 L138.1 797.7 L138.8 793.3 L139.5 790.9 L140.2 794.0 L140.9 796.3 L141.6 800.6 L142.3 799.1 L143.0 797.3 L143.7 798.5 L144.4 793.9 L145.1 791.4 L145.8 795.9 L146.5 796.6 L147.2 793.0 L147.9 791.1 L148.6 791.2 L149.3 785.7 L150.0 793.9 L150.7 794.2 L151.4 788.0 L152.1 790.7 L152.8 790.5 L153.5 792.5 L154.2 785.4 L154.9 788.0 L155.6 795.4 L156.3 795.0 L157.0 785.3 L157.7 788.5 L158.4 792.1 L159.1 791.8 L159.8 795.6 L160.5 789.4 L161.2 790.4 L161.9 789.5 L162.6 795.2 L163.3 792.1 L164.0 787.8 L164.7 786.0 L165.4 795.7 L166.1 795.9 L166.8 795.2 L167.5 795.6 L168.2 792.0 L168.9 787.2 L169.6 785.5 L170.3 787.5 L171.0 792.2 L171.7 785.0 L172.4 785.3 L173.1 787.7 L173.8 790.2 L174.5 790.0 L175.2 783.1 L175.9 781.1 L176.6 788.0 L177.3 793.7 L178.0 792.6 L178.7 789.5 L179.4 787.5 L180.1 788.5 L180.8 788.2 L181.5 789.6 L182.2 785.8 L182.9 787.1 L183.6 787.8 L184.3 789.4 L185.0 791.4 L185.7 798.3 L186.4 796.8 L187.1 791.8 L187.8 780.6 L188.5 782.6 L189.2 784.5 L189.9 785.3 L190.6 779.8 L191.3 789.2 L192.0 789.9 L192.7 781.3 L193.4 780.0 L194.1 781.8 L194.8 785.7 L195.5 790.2 L196.2 793.5 L196.9 787.7 L197.6 788.0 L198.3 788.5 L199.0 792.5 L199.7 791.1 L200.4 789.5 L201.1 782.1 L201.8 781.9 L202.5 783.0 L203.2 789.8 L203.9 788.1 L204.6 783.4 L205.3 782.7 L206.0 784.6 L206.7 780.9 L207.4 780.2 L208.1 787.2 L208.8 793.0 L209.5 784.7 L210.2 779.8 L210.9 776.9 L211.6 777.5 L212.3 784.5 L213.0 786.7 L213.7 784.2 L214.4 784.1 L215.1 783.5 L215.8 781.5 L216.5 776.4 L217.2 779.0 L217.9 781.2 L218.6 778.7 L219.3 778.4 L220.0 777.9 L220.7 780.6 L221.4 784.0 L222.1 780.8 L222.8 781.3 L223.5 785.0 L224.2 786.5 L224.9 786.0 L225.6 776.2 L226.3 781.5 L227.0 780.3 L227.7 781.9 L228.4 785.4 L229.1 787.0 L229.8 786.1 L230.5 784.3 L231.2 786.7 L231.9 781.3 L232.6 780.8 L233.3 783.0 L234.0 781.9 L234.7 789.3 L235.4 789.2 L236.1 789.9 L236.8 782.5 L237.5 779.3 L238.2 781.6 L238.9 782.9 L239.6 779.6 L240.3 781.3 L241.0 782.7 L241.7 785.8 L242.4 781.0 L243.1 783.0 L243.8 778.2 L244.5 775.4 L245.2 775.5 L245.9 775.4 L246.6 780.8 L247.3 784.6 L248.0 782.9 L248.7 784.7 L249.4 787.5 L250.1 783.4 L250.8 781.1 L251.5 777.8 L252.2 774.9 L252.9 779.5 L253.6 775.4 L254.3 780.8 L255.0 782.2 L255.7 784.5 L256.4 780.4 L257.1 777.6 L257.8 780.1 L258.5 778.4 L259.2 779.0 L259.9 780.1 L260.6 779.6 L261.3 778.5 L262.0 776.7 L262.7 776.3 L263.4 771.9 L264.1 776.0 L264.8 776.8 L265.5 784.5 L266.2 784.0 L266.9 774.5 L267.6 778.5 L268.3 778.7 L269.0 776.7 L269.7 780.5 L270.4 777.1 L271.1 772.8 L271.8 777.1 L272.5 779.4 L273.2 779.0 L273.9 776.3 L274.6 781.9 L275.3 782.3 L276.0 775.9 L276.7 776.3 L277.4 778.5 L278.1 779.8 L278.8 786.2 L279.5 781.7 L280.2 775.7 L280.9 775.9 L281.6 781.5 L282.3 788.4 L283.0 782.0 L283.7 780.9 L284.4 782.0 L285.1 782.9 L285.8 787.8 L286.5 781.2 L287.2 782.1 L287.9 781.8 L288.6 780.8 L289.3 777.7 L290.0 784.5 L290.7 780.7 L291.4 778.0 L292.1 774.7 L292.8 775.7 L293.5 781.1 L294.2 783.7 L294.9 783.7 L295.6 784.5 L296.3 782.3 L297.0 780.0 L297.7 781.9 L298.4 781.0 L299.1 778.8 L299.8 781.4 L300.5 782.9 L301.2 778.4 L301.9 775.7 L302.6 779.9 L303.3 782.7 L304.0 775.5 L304.7 772.8 L305.4 773.5 L306.1 774.2 L306.8 765.4 L307.5 770.1 L308.2 772.1 L308.9 766.3 L309.6 770.2 L310.3 765.5 L311.0 757.5 L311.7 752.8 L312.4 742.7 L313.1 741.8 L313.8 742.8 L314.5 729.8 L315.2 726.0 L315.9 712.2 L316.6 701.4 L317.3 682.9 L318.0 658.2 L318.7 643.8 L319.4 624.5 L320.1 588.9 L320.8 530.9 L321.5 473.4 L322.2 422.1 L322.9 370.1 L323.6 325.0 L324.3 292.4 L325.0 256.8 L325.6 245.2 L325.7 251.9 L326.4 266.2 L327.1 294.3 L327.8 342.6 L328.5 408.4 L329.2 474.6 L329.9 560.0 L330.6 621.7 L331.3 648.0 L332.0 665.7 L332.7 676.8 L333.4 690.6 L334.1 706.8 L334.8 725.7 L335.5 742.0 L336.2 750.0 L336.9 759.0 L337.6 770.1 L338.3 775.7 L339.0 786.9 L339.7 783.4 L340.4 779.0 L341.1 783.7 L341.8 783.7 L342.5 782.0 L343.2 785.8 L343.9 778.6 L344.6 772.6 L345.3 783.0 L346.0 784.5 L346.7 788.6 L347.4 782.7 L348.1 781.7 L348.8 788.6 L349.5 783.6 L350.2 787.1 L350.9 792.0 L351.6 788.6 L352.3 786.9 L353.0 788.5 L353.7 789.9 L354.4 786.5 L355.1 790.1 L355.8 793.6 L356.5 797.3 L357.2 789.0 L357.9 786.0 L358.6 790.3 L359.3 788.8 L360.0 790.1 L360.7 791.5 L361.4 793.3 L362.1 788.5 L362.8 786.1 L363.5 779.7 L364.2 785.8 L364.9 794.1 L365.6 788.8 L366.3 786.0 L367.0 786.1 L367.7 791.7 L368.4 790.9 L369.1 787.6 L369.8 792.6 L370.5 793.7 L371.2 793.7 L371.9 791.9 L372.6 797.6 L373.3 795.0 L374.0 791.4 L374.7 789.8 L375.4 791.6 L376.1 794.8 L376.8 793.5 L377.5 796.7 L378.2 797.3 L378.9 799.1 L379.6 797.2 L380.3 791.7 L381.0 786.7 L381.7 793.3 L382.4 796.9 L383.1 795.8 L383.8 795.7 L384.5 792.8 L385.2 791.7 L385.9 792.4 L386.6 799.0 L387.3 796.8 L388.0 792.6 L388.7 790.5 L389.4 795.8 L390.1 801.9 L390.8 799.2 L391.5 796.6 L392.2 803.2 L392.9 805.3 L393.6 803.8 L394.3 803.4 L395.0 804.1 L395.7 802.9 L396.4 801.7 L397.1 799.1 L397.8 804.4 L398.5 804.4 L399.2 805.4 L399.9 796.2 L400.6 802.0 L401.3 804.6 L402.0 801.3 L402.7 803.2 L403.4 805.1 L404.1 803.8 L404.8 800.4 L405.5 802.0 L406.2 806.8 L406.9 807.9 L407.6 804.2 L408.3 803.2 L409.0 804.6 L409.7 805.7 L410.4 799.2 L411.1 797.8 L411.8 801.4 L412.5 799.3 L413.2 800.7 L413.9 804.1 L414.6 804.7 L415.3 801.8 L416.0 804.2 L416.7 799.7 L417.4 803.1 L418.1 798.6 L418.8 799.6 L419.5 805.5 L420.2 803.6 L420.9 801.7 L421.6 803.5 L422.3 806.6 L423.0 805.9 L423.7 806.7 L424.4 808.8 L425.1 804.2 L425.8 803.3 L426.5 805.2 L427.2 810.9 L427.9 812.4 L428.6 812.0 L429.3 807.8 L430.0 807.2 L430.7 809.4 L431.4 807.5 L432.1 810.4 L432.8 810.0 L433.5 805.8 L434.2 806.5 L434.9 809.0 L435.6 816.2 L436.3 818.4 L437.0 810.3 L437.7 805.9 L438.4 800.9 L439.1 806.9 L439.8 807.7 L440.5 805.8 L441.2 808.8 L441.9 804.2 L442.6 806.8 L443.3 808.1 L444.0 806.0 L444.7 812.0 L445.4 812.4 L446.1 804.5 L446.8 804.1 L447.5 810.3 L448.2 809.1 L448.9 805.5 L449.6 807.7 L450.3 809.3 L451.0 810.4 L451.7 813.3 L452.4 814.2 L453.1 818.1 L453.8 817.5 L454.5 815.3 L455.2 816.3 L455.9 817.0 L456.6 813.3 L457.3 808.4 L458.0 812.8 L458.7 813.8 L459.4 816.7 L460.1 813.7 L460.8 813.5 L461.5 814.7 L462.2 817.6 L462.9 813.5 L463.6 811.2 L464.3 812.0 L465.0 810.8 L465.7 811.9 L466.4 812.3 L467.1 814.7 L467.8 818.3 L468.5 812.7 L469.2 811.7 L469.9 812.3 L470.6 813.2 L471.3 808.5 L472.0 809.0 L472.7 812.3 L473.4 814.4 L474.1 812.6 L474.8 810.3 L475.5 810.0 L476.2 815.2 L476.9 818.7 L477.6 815.8 L478.3 814.6 L479.0 814.1 L479.7 810.4 L480.4 811.3 L481.1 812.7 L481.8 814.4 L482.5 812.8 L483.2 811.0 L483.9 818.2 L484.6 820.6 L485.3 815.4 L486.0 815.7 L486.7 816.5 L487.4 816.0 L488.1 812.2 L488.8 818.3 L489.5 816.2 L490.2 818.9 L490.9 816.3 L491.6 814.0 L492.3 815.5 L493.0 817.5 L493.7 813.4 L494.4 813.3 L495.1 812.3 L495.8 811.2 L496.5 819.3 L497.2 819.4 L497.9 818.0 L498.6 819.3 L499.3 814.5 L500.0 817.2 L500.7 823.3 L501.4 819.6 L502.1 807.4 L502.8 803.0 L503.5 811.6 L504.2 819.2 L504.9 816.6 L505.6 816.8 L506.3 818.4 L507.0 815.4 L507.7 818.2 L508.4 820.9 L509.1 820.4 L509.8 818.9 L510.5 816.7 L511.2 818.6 L511.9 818.3 L512.6 824.3 L513.3 827.0 L514.0 816.1 L514.7 810.0 L515.4 815.1 L516.1 820.1 L516.8 823.1 L517.5 822.2 L518.2 816.2 L518.9 816.4 L519.6 820.9 L520.3 817.3 L521.0 820.9 L521.7 819.7 L522.4 821.7 L523.1 822.6 L523.8 822.8 L524.5 821.4 L525.2 816.9 L525.9 819.1 L526.6 819.7 L527.3 821.3 L528.0 823.2 L528.7 818.9 L529.4 816.1 L530.1 816.1 L530.8 818.5 L531.5 820.9 L532.2 818.8 L532.9 822.9 L533.6 821.6 L534.3 818.1 L535.0 815.6 L535.7 820.2 L536.4 820.9 L537.1 816.2 L537.8 824.0 L538.5 827.1 L539.2 823.5 L539.9 824.7 L540.6 830.0 L541.3 826.0 L542.0 819.0 L542.7 819.8 L543.4 820.2 L544.1 818.1 L544.8 814.1 L545.5 820.8 L546.2 820.1 L546.9 821.1 L547.6 822.0 L548.3 823.9 L549.0 820.7 L549.7 819.3 L550.4 824.0 L551.1 826.5 L551.8 823.5 L552.5 826.3 L553.2 823.7 L553.9 822.1 L554.6 825.8 L555.3 822.1 L556.0 824.4 L556.7 822.3 L557.4 822.3 L558.1 818.3 L558.8 819.9 L559.5 825.5 L560.2 824.5 L560.9 822.8 L561.6 822.0 L562.3 822.7 L563.0 818.0 L563.7 818.2 L564.4 820.9 L565.1 819.9 L565.8 820.3 L566.5 822.4 L567.2 822.8 L567.9 824.3 L568.6 829.7 L569.3 829.6 L570.0 828.6 L570.7 824.4 L571.4 820.9 L572.1 818.6 L572.8 819.6 L573.5 816.6 L574.2 821.1 L574.9 827.6 L575.6 831.0 L576.3 828.1 L577.0 823.1 L577.7 824.5 L578.4 823.3 L579.1 826.4 L579.8 825.9 L580.5 829.7 L581.2 834.6 L581.9 832.3 L582.6 833.3 L583.3 827.4 L584.0 825.4 L584.7 830.6 L585.4 831.3 L586.1 825.1 L586.8 823.6 L587.5 820.7 L588.2 824.2 L588.9 827.9 L589.6 825.5 L590.3 822.3 L591.0 821.0 L591.7 826.2 L592.4 829.1 L593.1 828.6 L593.8 826.0 L594.5 823.7 L595.2 830.2 L595.9 827.3 L596.6 826.2 L597.3 826.2 L598.0 820.0 L598.7 823.9 L599.4 826.1 L600.1 828.6 L600.8 831.4 L601.5 827.5 L602.2 820.9 L602.9 824.0 L603.6 827.1 L604.3 826.1 L605.0 821.3 L605.7 820.9 L606.4 827.3 L607.1 828.4 L607.8 825.6 L608.5 823.2 L609.2 828.3 L609.9 819.3 L610.6 825.3 L611.3 833.3 L612.0 828.9 L612.7 826.8 L613.4 825.2 L614.1 829.4 L614.8 824.9 L615.5 827.3 L616.2 827.3 L616.9 825.3 L617.6 828.2 L618.3 823.5 L619.0 824.3 L619.7 826.7 L620.4 827.0 L621.1 829.9 L621.8 831.0 L622.5 827.5 L623.2 825.6 L623.9 825.7 L624.6 827.3 L625.3 830.2 L626.0 828.7 L626.7 829.3 L627.4 827.6 L628.1 826.4 L628.8 829.4 L629.5 826.0 L630.2 828.9 L630.9 832.1 L631.6 826.5 L632.3 826.0 L633.0 823.2 L633.7 824.2 L634.4 823.2 L635.1 825.7 L635.8 826.8 L636.5 830.1 L637.2 834.1 L637.9 831.7 L638.6 831.1 L639.3 829.0 L640.0 827.3 L640.7 824.4 L641.4 822.6 L642.1 828.9 L642.8 834.5 L643.5 831.4 L644.2 829.2 L644.9 833.2 L645.6 828.5 L646.3 825.5 L647.0 823.7 L647.7 824.6 L648.4 829.2 L649.1 834.8 L649.8 829.2 L650.5 825.1 L651.2 826.0 L651.9 826.2 L652.6 823.6 L653.3 828.5 L654.0 831.6 L654.7 831.2 L655.4 830.0 L656.1 824.1 L656.8 823.8 L657.5 832.5 L658.2 832.3 L658.9 825.5 L659.6 828.4 L660.3 829.9 L661.0 831.0 L661.7 829.8 L662.4 827.9 L663.1 829.4 L663.8 829.8 L664.5 827.5 L665.2 820.6 L665.9 817.5 L666.6 822.5 L667.3 823.6 L668.0 829.1 L668.7 831.9 L669.4 830.3 L670.1 828.4 L670.8 830.1 L671.5 832.2 L672.2 828.9 L672.9 832.1 L673.6 832.5 L674.3 832.0 L675.0 833.3 L675.7 829.2 L676.4 830.7 L677.1 826.5 L677.8 825.1 L678.5 825.7 L679.2 828.8 L679.9 826.8 L680.6 827.5 L681.3 826.8 L682.0 833.2 L682.7 836.1 L683.4 833.2 L684.1 835.1 L684.8 834.5 L685.5 836.6 L686.2 830.1 L686.9 825.9 L687.6 832.4 L688.3 829.3 L689.0 825.4 L689.7 824.8 L690.4 823.5 L691.1 826.3 L691.8 827.2 L692.5 833.5 L693.2 831.2 L693.9 823.4 L694.6 822.6 L695.3 824.4 L696.0 822.7 L696.7 827.2 L697.4 828.4 L698.1 826.4 L698.8 827.3 L699.5 831.6 L700.2 835.5 L700.9 835.2 L701.6 831.5 L702.3 831.3 L703.0 828.1 L703.7 829.0 L704.4 827.3 L705.1 829.5 L705.8 825.2 L706.5 825.1 L707.2 828.8 L707.9 829.6 L708.6 824.7 L709.3 826.3 L710.0 829.3 L710.7 829.2 L711.4 826.8 L712.1 828.4 L712.8 829.6 L713.5 833.7 L714.2 830.9 L714.9 823.4 L715.6 821.1 L716.3 828.4 L717.0 832.9 L717.7 831.4 L718.4 831.4 L719.1 827.0 L719.8 824.9 L720.5 830.1 L721.2 830.5 L721.9 829.8 L722.6 825.3 L723.3 827.5 L724.0 827.7 L724.7 830.2 L725.4 827.1 L726.1 825.8 L726.8 827.5 L727.5 832.1 L728.2 829.2 L728.9 825.3 L729.6 823.8 L730.3 825.7 L731.0 830.5 L731.7 823.4 L732.4 824.8 L733.1 830.7 L733.8 832.5 L734.5 829.7 L735.2 831.4 L735.9 832.3 L736.6 832.1 L737.3 830.9 L738.0 833.7 L738.7 831.8 L739.4 832.2 L740.1 827.1 L740.8 829.0 L741.5 823.7 L742.2 822.7 L742.9 827.5 L743.6 826.3 L744.3 827.6 L745.0 826.4 L745.7 831.9 L746.4 828.2 L747.1 824.3 L747.8 828.0 L748.5 829.8 L749.2 826.4 L749.9 830.2 L750.6 835.0 L751.3 831.9 L752.0 827.4 L752.7 825.8 L753.4 826.9 L754.1 819.9 L754.8 815.3 L755.5 820.8 L756.2 824.2 L756.9 831.1 L757.6 827.6 L758.3 822.3 L759.0 822.1 L759.7 825.9 L760.4 823.3 L761.1 823.2 L761.8 825.1 L762.5 826.0 L763.2 826.1 L763.9 827.2 L764.6 831.2 L765.3 830.4 L766.0 824.0 L766.7 831.8 L767.4 829.0 L768.1 828.3 L768.8 823.9 L769.5 825.2 L770.2 825.7 L770.9 825.8 L771.6 827.8 L772.3 826.1 L773.0 821.5 L773.7 823.5 L774.4 826.8 L775.1 826.4 L775.8 823.1 L776.5 822.4 L777.2 821.8 L777.9 818.7 L778.6 819.8 L779.3 826.8 L780.0 823.6 L780.7 822.4 L781.4 822.0 L782.1 828.1 L782.8 829.5 L783.5 824.3 L784.2 823.5 L784.9 822.4 L785.6 828.4 L786.3 826.3 L787.0 821.8 L787.7 825.9 L788.4 825.0 L789.1 824.2 L789.8 823.0 L790.5 819.7 L791.2 820.2 L791.9 823.3 L792.6 821.3 L793.3 820.6 L794.0 827.1 L794.7 822.3 L795.4 818.8 L796.1 819.3 L796.8 823.8 L797.5 825.3 L798.2 823.7 L798.9 822.7 L799.6 816.7 L800.3 817.9 L801.0 819.0 L801.7 820.8 L802.4 820.3 L803.1 817.5 L803.8 827.8 L804.5 820.9 L805.2 821.4 L805.9 824.1 L806.6 823.9 L807.3 818.9 L808.0 809.8 L808.7 814.3 L809.4 820.3 L810.1 816.4 L810.8 813.1 L811.5 812.0 L812.2 821.6 L812.9 821.2 L813.6 816.6 L814.3 817.7 L815.0 817.4 L815.7 814.9 L816.4 817.0 L817.1 819.7 L817.8 821.7 L818.5 823.0 L819.2 819.1 L819.9 817.1 L820.6 818.3 L821.3 815.1 L822.0 814.2 L822.7 819.8 L823.4 817.5 L824.1 818.0 L824.8 818.4 L825.5 814.7 L826.2 818.4 L826.9 818.8 L827.6 817.2 L828.3 817.0 L829.0 812.2 L829.7 808.0 L830.4 812.1 L831.1 813.5 L831.8 818.0 L832.5 816.8 L833.2 814.0 L833.9 816.2 L834.6 820.7 L835.3 820.4 L836.0 817.5 L836.7 816.2 L837.4 813.9 L838.1 814.2 L838.8 815.8 L839.5 814.4 L840.2 813.6 L840.9 808.6 L841.6 805.2 L842.3 805.6 L843.0 811.2 L843.7 818.0 L844.4 816.9 L845.1 808.8 L845.8 806.9 L846.5 813.6 L847.2 812.8 L847.9 808.5 L848.6 813.8 L849.3 814.1 L850.0 815.9 L850.7 814.1 L851.4 814.2 L852.1 811.4 L852.8 807.0 L853.5 807.5 L854.2 807.9 L854.9 810.4 L855.6 805.0 L856.3 803.2 L857.0 810.3 L857.7 814.0 L858.4 814.7 L859.1 810.8 L859.8 801.9 L860.5 801.5 L861.2 802.4 L861.9 801.2 L862.6 795.5 L863.3 800.0 L864.0 801.1 L864.7 797.6 L865.4 800.6 L866.1 803.8 L866.8 801.4 L867.5 803.3 L868.2 803.1 L868.9 800.6 L869.6 798.9 L870.3 797.7 L871.0 800.9 L871.7 796.5 L872.4 795.7 L873.1 799.4 L873.8 797.6 L874.5 801.4 L875.2 804.3 L875.9 802.1 L876.6 802.5 L877.3 805.5 L878.0 803.6 L878.7 795.9 L879.4 797.1 L880.1 805.7 L880.8 802.7 L881.5 794.0 L882.2 795.5 L882.9 800.1 L883.6 799.5 L884.3 803.1 L885.0 803.6 L885.7 802.9 L886.4 799.3 L887.1 805.0 L887.8 808.5 L888.5 802.3 L889.2 806.2 L889.9 806.6 L890.6 804.1 L891.3 799.9 L892.0 795.4 L892.7 796.7 L893.4 802.6 L894.1 805.0 L894.8 805.4 L895.5 804.2 L896.2 801.8 L896.9 795.7 L897.6 792.6 L898.3 796.6 L899.0 798.4 L899.7 795.4 L900.4 790.3 L901.1 791.2 L901.8 790.6 L902.5 794.1 L903.2 792.6 L903.9 795.0 L904.6 797.5 L905.3 798.8 L906.0 800.4 L906.7 792.0 L907.4 789.0 L908.1 799.5 L908.8 804.6 L909.5 804.5 L910.2 801.3 L910.9 801.2 L911.6 799.2 L912.3 795.2 L913.0 797.8 L913.7 801.6 L914.4 801.6 L915.1 805.6 L915.8 797.3 L916.5 799.2 L917.2 803.9 L917.9 798.9 L918.6 795.0 L919.3 794.2 L920.0 798.4 L920.7 805.6 L921.4 804.1 L922.1 802.1 L922.8 799.9 L923.5 802.7 L924.2 800.3 L924.9 796.3 L925.6 797.4 L926.3 800.9 L927.0 803.4 L927.7 800.3 L928.4 802.1 L929.1 804.7 L929.8 795.3 L930.5 792.6 L931.2 798.8 L931.9 798.0 L932.6 795.3 L933.3 794.7 L934.0 792.9 L934.7 793.3 L935.4 791.1 L936.1 790.9 L936.8 784.1 L937.5 783.1 L938.2 785.2 L938.9 784.4 L939.6 786.2 L940.3 783.2 L941.0 780.4 L941.7 781.0 L942.4 777.3 L943.1 772.8 L943.8 773.7 L944.5 776.5 L945.2 779.9 L945.9 784.8 L946.6 789.7 L947.3 792.4 L948.0 797.6 L948.7 797.0 L949.4 794.5 L950.1 800.5 L950.8 800.6 L951.5 796.6 L952.2 799.8 L952.9 803.9 L953.6 803.8 L954.3 806.1 L955.0 805.9 L955.7 806.1 L956.4 804.2 L957.1 805.5 L957.8 805.3 L958.5 806.2 L959.2 801.7 L959.9 807.6 L960.6 812.4 L961.3 810.8 L962.0 808.8 L962.7 809.0 L963.4 805.1 L964.1 804.5 L964.8 806.5 L965.5 808.9 L966.2 811.2 L966.9 808.0 L967.6 810.2 L968.3 804.3 L969.0 805.2 L969.7 809.8 L970.4 813.0 L971.1 806.8 L971.8 802.5 L972.5 809.3 L973.2 809.4 L973.9 805.6 L974.6 805.2 L975.3 807.3 L976.0 811.0 L976.7 811.7 L977.4 809.0 L978.1 817.3 L978.8 813.1 L979.5 810.9 L980.2 813.7 L980.9 815.2 L981.6 821.1 L982.3 817.9 L983.0 812.0 L983.7 810.6 L984.4 810.6 L985.1 812.2 L985.8 814.7 L986.5 813.7 L987.2 818.5 L987.9 815.2 L988.6 814.7 L989.3 815.6 L990.0 808.3 L990.7 810.6 L991.4 816.3 L992.1 816.1 L992.8 816.2 L993.5 816.8 L994.2 814.7 L994.9 814.3 L995.6 810.6 L996.3 811.1 L997.0 819.1 L997.7 815.4 L998.4 816.4 L999.1 823.4 L999.8 823.1 L1000.5 817.9 L1001.2 817.1 L1001.9 818.0 L1002.6 817.2 L1003.3 821.1 L1004.0 821.4 L1004.7 821.7 L1005.4 823.8 L1006.1 825.5 L1006.8 828.9 L1007.5 826.1 L1008.2 818.0 L1008.9 821.6 L1009.6 817.4 L1010.3 816.6 L1011.0 822.0 L1011.7 820.0 L1012.4 821.3 L1013.1 824.6 L1013.8 820.3 L1014.5 819.2 L1015.2 823.8 L1015.9 827.3 L1016.6 824.1 L1017.3 817.7 L1018.0 819.2 L1018.7 823.7 L1019.4 830.0 L1020.1 828.7 L1020.8 828.1 L1021.5 827.9 L1022.2 824.3 L1022.9 825.5 L1023.6 825.0 L1024.3 821.4 L1025.0 823.7 L1025.7 825.1 L1026.4 822.3 L1027.1 826.8 L1027.8 828.8 L1028.5 828.0 L1029.2 823.5 L1029.9 826.0 L1030.6 830.6 L1031.3 828.4 L1032.0 823.9 L1032.7 826.8 L1033.4 830.3 L1034.1 827.2 L1034.8 829.4 L1035.5 834.4 L1036.2 828.3 L1036.9 825.0 L1037.6 822.5 L1038.3 824.9 L1039.0 830.6 L1039.7 826.6 L1040.4 822.2 L1041.1 823.0 L1041.8 827.0 L1042.5 828.9 L1043.2 826.4 L1043.9 828.6 L1044.6 827.0 L1045.3 828.8 L1046.0 830.3 L1046.7 829.9 L1047.4 827.1 L1048.1 827.7 L1048.8 828.5 L1049.5 824.9 L1050.2 828.3 L1050.9 831.2 L1051.6 832.3 L1052.3 829.4 L1053.0 828.4 L1053.7 828.5 L1054.4 826.7 L1055.1 828.2 L1055.8 830.6 L1056.5 829.6 L1057.2 826.1 L1057.9 825.6 L1058.6 823.5 L1059.3 829.8 L1060.0 829.1 L1060.7 829.1 L1061.4 826.7 L1062.1 829.2 L1062.8 832.3 L1063.5 832.4 L1064.2 827.8 L1064.9 831.6 L1065.6 830.0 L1066.3 828.5 L1067.0 831.2 L1067.7 830.0 L1068.4 829.0 L1069.1 828.7 L1069.8 831.1 L1070.5 831.2 L1071.2 829.8 L1071.9 827.7 L1072.6 829.3 L1073.3 833.4 L1074.0 835.8 L1074.7 834.0 L1075.4 836.0 L1076.1 832.1 L1076.8 829.1 L1077.5 832.1 L1078.2 830.0 L1078.9 833.5 L1079.6 835.6 L1080.3 832.3 L1081.0 834.1 L1081.7 840.2 L1082.4 835.8 L1083.1 834.4 L1083.8 835.3 L1084.5 833.2 L1085.2 832.9 L1085.9 832.0 L1086.6 827.4 L1087.3 834.4 L1088.0 830.3 L1088.7 829.6 L1089.4 834.1 L1090.1 833.0 L1090.8 830.0 L1091.5 832.2 L1092.2 829.9 L1092.9 829.4 L1093.6 828.0 L1094.3 830.5 L1095.0 834.6 L1095.7 835.1 L1096.4 836.1 L1097.1 837.3 L1097.8 834.5 L1098.5 832.2 L1099.2 834.5 L1099.9 839.4 L1100.6 836.5 L1101.3 835.6 L1102.0 835.0 L1102.7 835.9 L1103.4 836.4 L1104.1 835.2 L1104.8 833.9 L1105.5 831.9 L1106.2 832.3 L1106.9 836.4 L1107.6 838.8 L1108.3 838.9 L1109.0 835.7 L1109.7 833.6 L1110.4 837.3 L1111.1 836.7 L1111.8 832.4 L1112.5 837.3 L1113.2 839.7 L1113.9 840.4 L1114.6 832.9 L1115.3 831.8 L1116.0 835.7 L1116.7 830.7 L1117.4 831.4 L1118.1 831.3 L1118.8 830.5 L1119.5 829.4 L1120.2 834.8 L1120.9 839.5 L1121.6 839.0 L1122.3 837.8 L1123.0 837.1 L1123.7 841.0 L1124.4 840.3 L1125.1 838.8 L1125.8 833.2 L1126.5 835.3 L1127.2 833.9 L1127.9 837.0 L1128.6 836.7 L1129.3 833.8 L1130.0 837.4 L1130.7 841.0 L1131.4 840.0 L1132.1 838.4 L1132.8 834.3 L1133.5 833.2 L1134.2 833.2 L1134.9 837.5 L1135.6 841.2 L1136.3 839.5 L1137.0 836.5 L1137.7 834.2 L1138.4 837.3 L1139.1 835.2 L1139.8 829.8 L1140.5 830.1 L1141.2 834.0 L1141.9 835.8 L1142.6 841.5 L1143.3 838.0 L1144.0 833.9 L1144.7 836.4 L1145.4 840.9 L1146.1 836.7 L1146.8 839.3 L1147.5 840.8 L1148.2 842.7 L1148.9 840.1 L1149.6 837.3 L1150.3 838.9 L1151.0 839.1 L1151.7 840.5 L1152.4 840.0 L1153.1 843.4 L1153.8 839.5 L1154.5 838.4 L1155.2 836.3 L1155.9 837.6 L1156.6 838.1 L1157.3 839.1 L1158.0 840.2 L1158.7 836.3 L1159.4 835.9 L1160.1 840.2 L1160.8 837.5 L1161.5 836.7 L1162.2 841.5 L1162.9 839.0 L1163.6 830.5 L1164.3 835.3 L1165.0 840.8 L1165.7 840.8 L1166.4 838.7 L1167.1 841.7 L1167.8 837.0 L1168.5 837.0 L1169.2 838.4 L1169.9 839.1 L1170.6 841.6 L1171.3 842.1 L1172.0 840.4 L1172.7 842.0 L1173.4 837.5 L1174.1 838.8 L1174.8 843.6 L1175.5 841.3 L1176.2 841.5 L1176.9 838.1 L1177.6 837.5 L1178.3 838.4 L1179.0 838.9 L1179.7 838.0 L1180.4 839.2 L1181.1 842.0 L1181.8 843.2 L1182.5 841.0 L1183.2 841.9 L1183.9 841.5 L1184.6 835.4 L1185.3 835.1 L1186.0 843.9 L1186.7 844.7 L1187.4 841.1 L1188.1 839.8 L1188.8 835.9 L1189.5 835.0 L1190.2 838.1 L1190.9 836.4 L1191.6 840.6 L1192.3 838.9 L1193.0 841.9 L1193.7 847.6 L1194.4 847.1 L1195.1 841.9 L1195.8 842.2 L1196.5 837.7 L1197.2 838.0 L1197.9 842.2 L1198.6 844.4 L1199.3 840.5 L1200.0 841.8 L1200.7 840.4 L1201.4 837.1 L1202.1 840.7 L1202.8 845.3 L1203.5 842.7 L1204.2 843.4 L1204.9 843.7 L1205.6 841.2 L1206.3 846.0 L1207.0 848.7 L1207.7 849.1 L1208.4 847.0 L1209.1 841.5 L1209.8 839.6 L1210.5 838.9 L1211.2 838.5 L1211.9 840.3 L1212.6 846.1 L1213.3 847.2 L1214.0 842.7 L1214.7 843.3 L1215.4 839.3 L1216.1 839.7 L1216.8 838.0 L1217.5 837.0 L1218.2 841.3 L1218.9 842.4 L1219.6 840.9 L1220.3 839.7 L1221.0 839.0 L1221.7 840.6 L1222.4 840.7 L1223.1 841.5 L1223.8 839.2 L1224.5 842.3 L1225.2 845.0 L1225.9 847.2 L1226.6 846.5 L1227.3 843.0 L1228.0 838.7 L1228.7 836.1 L1229.4 841.7 L1230.1 847.6 L1230.8 845.9 L1231.5 835.4 L1232.2 837.3 L1232.9 839.5 L1233.6 838.8 L1234.3 841.8 L1235.0 841.9 L1235.7 840.7 L1236.4 840.3 L1237.1 836.8 L1237.8 837.5 L1238.5 839.9 L1239.2 843.2 L1239.9 838.7 L1240.6 841.7 L1241.3 845.2 L1242.0 844.5 L1242.7 845.2 L1243.4 842.8 L1244.1 845.3 L1244.8 848.8 L1245.5 852.0 L1246.2 849.5 L1246.9 849.1 L1247.6 845.8 L1248.3 846.2 L1249.0 849.8 L1249.7 849.0 L1250.4 850.0 L1251.1 849.9 L1251.8 853.6 L1252.5 852.9 L1253.2 846.1 L1253.9 849.9 L1254.6 848.1 L1255.3 846.5 L1256.0 845.5 L1256.7 845.9 L1257.4 841.6 L1258.1 841.1 L1258.8 842.2 L1259.5 845.8 L1260.2 848.3 L1260.9 848.0 L1261.6 846.0 L1262.3 841.9 L1263.0 839.5 L1263.7 844.5 L1264.4 845.8 L1265.1 847.1 L1265.8 849.0 L1266.5 845.2 L1267.2 842.0 L1267.9 838.2 L1268.6 844.3 L1269.3 844.4 L1270.0 842.8 L1270.7 844.2 L1271.4 841.5 L1272.1 843.8 L1272.8 850.5 L1273.5 849.3 L1274.2 848.3 L1274.9 846.7 L1275.6 844.6 L1276.3 843.8 L1277.0 846.3 L1277.7 840.6 L1278.4 838.8 L1279.1 835.2 L1279.8 830.7 L1280.5 823.2 L1281.2 824.6 L1281.9 834.2 L1282.6 833.9 L1283.3 826.8 L1284.0 825.4 L1284.7 824.6 L1285.4 820.8 L1286.1 823.4 L1286.8 815.2 L1287.5 809.6 L1288.2 805.7 L1288.9 815.2 L1289.6 813.7 L1290.0 811.9 L1290.3 809.1 L1291.0 813.3 L1291.7 815.6 L1292.4 819.9 L1293.1 828.9 L1293.8 833.3 L1294.5 831.8 L1295.2 829.1 L1295.9 834.0 L1296.6 837.8 L1297.3 837.8 L1298.0 839.0 L1298.7 839.5 L1299.4 838.2 L1300.1 843.2 L1300.8 847.3 L1301.5 842.9 L1302.2 845.1 L1302.9 846.6 L1303.6 842.1 L1304.3 842.7 L1305.0 840.2 L1305.7 841.5 L1306.4 840.6 L1307.1 841.9 L1307.8 843.7 L1308.5 844.9 L1309.2 843.5 L1309.9 840.7 L1310.6 848.9 L1311.3 846.3 L1312.0 842.9 L1312.7 844.4 L1313.4 846.5 L1314.1 844.2 L1314.8 844.8 L1315.5 846.0 L1316.2 847.9 L1316.9 846.1 L1317.6 848.4 L1318.3 848.8 L1319.0 848.5 L1319.7 851.0 L1320.4 847.7 L1321.1 844.5 L1321.8 847.6 L1322.5 848.3 L1323.2 847.9 L1323.9 850.4 L1324.6 854.9 L1325.3 850.8 L1326.0 849.1 L1326.7 848.6 L1327.4 851.3 L1328.1 848.1 L1328.8 844.5 L1329.5 844.2 L1330.2 849.0 L1330.9 849.2 L1331.6 843.4 L1332.3 845.1 L1333.0 850.1 L1333.7 850.4 L1334.4 844.8 L1335.1 846.5 L1335.8 849.6 L1336.5 846.9 L1337.2 845.9 L1337.9 845.1 L1338.6 844.0 L1339.3 847.4 L1340.0 847.9 L1340.7 844.5 L1341.4 848.2 L1342.1 851.6 L1342.8 850.6 L1343.5 850.7 L1344.2 848.7 L1344.9 851.1 L1345.6 848.8 L1346.3 852.7 L1347.0 848.1 L1347.7 845.3 L1348.4 845.0 L1349.1 846.2 L1349.8 846.2 L1350.5 845.9 L1351.2 847.7 L1351.9 851.0 L1352.6 851.5 L1353.3 849.5 L1354.0 851.2 L1354.7 846.1 L1355.4 844.1 L1356.1 845.3 L1356.8 848.4 L1357.5 843.9 L1358.2 844.8 L1358.9 852.9 L1359.6 856.1 L1360.3 853.1 L1361.0 846.0 L1361.7 848.6 L1362.4 851.7 L1363.1 848.9 L1363.8 844.5 L1364.5 845.6 L1365.2 843.2 L1365.9 846.3 L1366.6 855.1 L1367.3 852.0 L1368.0 844.7 L1368.7 844.4 L1369.4 849.1 L1370.1 848.7 L1370.8 850.2 L1371.5 848.2 L1372.2 848.8 L1372.9 849.4 L1373.6 845.5 L1374.3 842.5 L1375.0 844.3 L1375.7 846.8 L1376.4 848.7 L1377.1 849.6 L1377.8 850.2 L1378.5 850.7 L1379.2 849.2 L1379.9 855.0 L1380.6 857.3 L1381.3 853.1 L1382.0 852.2 L1382.7 854.6 L1383.4 853.4 L1384.1 851.3 L1384.8 849.5 L1385.5 847.3 L1386.2 847.2 L1386.9 852.5 L1387.6 853.7 L1388.3 848.6 L1389.0 849.8 L1389.7 850.9 L1390.4 849.1 L1391.1 848.0 L1391.8 847.5 L1392.5 844.9 L1393.2 848.9 L1393.9 851.8 L1394.6 857.5 L1395.3 855.1 L1396.0 850.8 L1396.7 852.2 L1397.4 857.2 L1398.1 857.2 L1398.8 852.8 L1399.5 849.7 L1400.2 846.7 L1400.9 848.9 L1401.6 849.8 L1402.3 850.4 L1403.0 853.9 L1403.7 847.2 L1404.4 849.6 L1405.1 852.6 L1405.8 854.2 L1406.5 855.2 L1407.2 848.1 L1407.9 848.1 L1408.6 851.0 L1409.3 851.4 L1410.0 849.7 L1410.7 849.7 L1411.4 852.8 L1412.1 848.8 L1412.8 850.0 L1413.5 856.4 L1414.2 858.1 L1414.9 854.5 L1415.6 849.0 L1416.3 847.5 L1417.0 847.2 L1417.7 847.1 L1418.4 850.4 L1419.1 854.8 L1419.8 852.5 L1420.5 848.8 L1421.2 847.6 L1421.9 848.5 L1422.6 852.2 L1423.3 847.0 L1424.0 849.4 L1424.7 846.8 L1425.4 846.0 L1426.1 847.2 L1426.8 852.9 L1427.5 854.3 L1428.2 858.2 L1428.9 849.9 L1429.6 848.0 L1430.3 852.7 L1431.0 853.3 L1431.7 849.5 L1432.4 846.7 L1433.1 854.3 L1433.8 854.6 L1434.5 852.5 L1435.2 850.6 L1435.9 852.3 L1436.6 850.4 L1437.3 850.9 L1438.0 852.0 L1438.7 854.4 L1439.4 850.8 L1440.1 850.9 L1440.8 854.4 L1441.5 852.9 L1442.2 851.3 L1442.9 851.4 L1443.6 853.2 L1444.3 850.6 L1445.0 853.7 L1445.7 857.7 L1446.4 853.4 L1447.1 848.3 L1447.8 847.3 L1448.5 849.6 L1449.2 846.5 L1449.9 845.0 L1450.6 846.7 L1451.3 848.1 L1452.0 851.4 L1452.7 848.9 L1453.4 853.6 L1454.1 850.2 L1454.8 851.2 L1455.5 853.1 L1456.2 852.6 L1456.9 852.2 L1457.6 846.7 L1458.3 843.4 L1459.0 846.9 L1459.7 845.3 L1460.4 848.4 L1461.1 852.6 L1461.8 850.3 L1462.5 847.8 L1463.2 846.6 L1463.9 848.6 L1464.6 848.4 L1465.3 846.0 L1466.0 849.0 L1466.7 847.7 L1467.4 849.6 L1468.1 849.9 L1468.8 853.3 L1469.5 853.3 L1470.2 850.7 L1470.9 850.0 L1471.6 852.2 L1472.3 855.0 L1473.0 854.1 L1473.7 851.4 L1474.4 852.1 L1475.1 853.1 L1475.8 846.8 L1476.5 849.0 L1477.2 848.6 L1477.9 852.2 L1478.6 849.1 L1479.3 847.7 L1480.0 846.1 L1480.7 848.4" stroke-width="3.6" stroke-linejoin="miter" stroke-miterlimit="2"/></g>
<g fill="none" stroke="#0000ff" stroke-linecap="butt"><path d="M109.4 726.4 L110.1 727.7 L110.8 728.7 L111.5 727.2 L112.2 725.6 L112.9 724.3 L113.6 725.6 L114.3 724.0 L115.0 724.6 L115.7 724.5 L116.4 727.1 L117.1 727.0 L117.8 727.0 L118.5 724.1 L119.2 725.6 L119.9 723.3 L120.6 725.4 L121.3 722.9 L122.0 723.6 L122.7 721.8 L123.4 721.3 L124.1 722.2 L124.8 722.5 L125.5 724.2 L126.2 722.0 L126.9 721.9 L127.6 719.6 L128.3 721.7 L129.0 719.6 L129.7 719.8 L130.4 719.1 L131.1 719.4 L131.8 720.4 L132.5 720.1 L133.2 722.1 L133.9 721.8 L134.6 720.5 L135.3 718.7 L136.0 717.4 L136.7 718.7 L137.4 719.9 L138.1 719.2 L138.8 717.7 L139.5 716.0 L140.2 715.9 L140.9 715.9 L141.6 716.3 L142.3 718.4 L143.0 717.9 L143.7 717.5 L144.4 715.8 L145.1 715.2 L145.8 714.9 L146.5 714.2 L147.2 715.5 L147.9 714.4 L148.6 715.4 L149.3 714.1 L150.0 715.3 L150.7 714.5 L151.4 715.2 L152.1 715.8 L152.8 715.0 L153.5 714.1 L154.2 713.2 L154.9 711.9 L155.6 712.8 L156.3 711.6 L157.0 711.1 L157.7 711.6 L158.4 712.0 L159.1 711.9 L159.8 711.4 L160.5 711.0 L161.2 712.9 L161.9 710.2 L162.6 710.0 L163.3 707.3 L164.0 706.0 L164.7 705.1 L165.4 706.4 L166.1 708.7 L166.8 711.6 L167.5 710.5 L168.2 710.5 L168.9 707.5 L169.6 708.0 L170.3 705.5 L171.0 704.5 L171.7 703.7 L172.4 703.7 L173.1 704.9 L173.8 704.7 L174.5 706.8 L175.2 706.7 L175.9 707.3 L176.6 706.9 L177.3 707.1 L178.0 706.6 L178.7 705.3 L179.4 704.4 L180.1 705.3 L180.8 705.9 L181.5 706.1 L182.2 705.6 L182.9 704.1 L183.6 704.0 L184.3 701.7 L185.0 703.2 L185.7 702.6 L186.4 703.9 L187.1 702.9 L187.8 702.6 L188.5 701.9 L189.2 702.3 L189.9 702.2 L190.6 701.3 L191.3 700.3 L192.0 698.4 L192.7 700.6 L193.4 699.8 L194.1 701.2 L194.8 701.6 L195.5 703.6 L196.2 703.4 L196.9 701.6 L197.6 700.3 L198.3 701.6 L199.0 700.7 L199.7 699.5 L200.4 698.9 L201.1 699.0 L201.8 699.4 L202.5 698.6 L203.2 697.1 L203.9 695.3 L204.6 691.9 L205.3 692.6 L206.0 694.5 L206.7 695.8 L207.4 697.0 L208.1 696.5 L208.8 697.3 L209.5 695.8 L210.2 694.7 L210.9 693.7 L211.6 693.2 L212.3 692.9 L213.0 694.1 L213.7 694.9 L214.4 694.0 L215.1 694.0 L215.8 692.2 L216.5 692.6 L217.2 691.9 L217.9 692.5 L218.6 692.3 L219.3 692.0 L220.0 691.3 L220.7 690.6 L221.4 689.9 L222.1 691.2 L222.8 691.6 L223.5 693.5 L224.2 692.6 L224.9 689.6 L225.6 687.1 L226.3 688.4 L227.0 691.3 L227.7 691.1 L228.4 688.5 L229.1 689.7 L229.8 691.1 L230.5 692.5 L231.2 691.6 L231.9 691.9 L232.6 692.0 L233.3 690.3 L234.0 689.6 L234.7 688.9 L235.4 689.9 L236.1 689.9 L236.8 689.7 L237.5 686.8 L238.2 687.6 L238.9 688.5 L239.6 691.3 L240.3 689.3 L241.0 688.5 L241.7 687.3 L242.4 687.9 L243.1 687.4 L243.8 688.3 L244.5 687.0 L245.2 686.6 L245.9 688.0 L246.6 690.2 L247.3 691.3 L248.0 690.1 L248.7 687.9 L249.4 688.1 L250.1 689.7 L250.8 689.0 L251.5 689.4 L252.2 685.6 L252.9 686.8 L253.6 686.0 L254.3 686.8 L255.0 685.6 L255.7 685.4 L256.4 687.6 L257.1 688.6 L257.8 689.7 L258.5 688.1 L259.2 690.3 L259.9 689.0 L260.6 690.0 L261.3 688.9 L262.0 689.1 L262.7 690.7 L263.4 692.2 L264.1 692.4 L264.8 690.4 L265.5 687.0 L266.2 685.7 L266.9 685.9 L267.6 687.0 L268.3 687.7 L269.0 687.6 L269.7 688.2 L270.4 686.9 L271.1 685.9 L271.8 686.5 L272.5 688.7 L273.2 689.1 L273.9 689.3 L274.6 687.8 L275.3 688.1 L276.0 684.9 L276.7 686.4 L277.4 686.7 L278.1 689.5 L278.8 689.4 L279.5 689.5 L280.2 688.6 L280.9 689.0 L281.6 688.8 L282.3 688.5 L283.0 687.3 L283.7 688.3 L284.4 689.3 L285.1 691.1 L285.8 690.2 L286.5 690.5 L287.2 687.9 L287.9 688.6 L288.6 687.3 L289.3 689.6 L290.0 689.5 L290.7 688.8 L291.4 687.5 L292.1 687.0 L292.8 687.0 L293.5 685.9 L294.2 684.4 L294.9 687.3 L295.6 687.5 L296.3 689.1 L297.0 684.8 L297.7 683.1 L298.4 681.5 L299.1 682.0 L299.8 683.3 L300.5 681.8 L301.2 681.9 L301.9 682.0 L302.6 681.5 L303.3 681.3 L304.0 678.1 L304.7 678.8 L305.4 677.6 L306.1 679.6 L306.8 677.7 L307.5 676.6 L308.2 674.7 L308.9 672.9 L309.6 671.1 L310.3 666.2 L311.0 662.7 L311.7 660.6 L312.4 660.0 L313.1 661.1 L313.8 658.5 L314.5 653.4 L315.2 640.6 L315.9 629.0 L316.6 617.3 L317.3 602.1 L318.0 587.4 L318.7 557.9 L319.4 520.5 L320.1 475.5 L320.8 426.2 L321.5 373.4 L322.2 321.1 L322.9 266.7 L323.6 217.8 L324.3 183.3 L325.0 151.9 L325.7 126.6 L326.4 113.3 L326.7 111.5 L327.1 114.1 L327.8 131.3 L328.5 156.0 L329.2 189.0 L329.9 223.5 L330.6 274.3 L331.3 328.8 L332.0 384.5 L332.7 444.3 L333.4 506.4 L334.1 574.3 L334.8 626.7 L335.5 647.1 L336.2 656.2 L336.9 665.2 L337.6 675.7 L338.3 680.5 L339.0 683.8 L339.7 687.2 L340.4 689.4 L341.1 692.1 L341.8 691.7 L342.5 693.3 L343.2 695.2 L343.9 697.9 L344.6 700.9 L345.3 700.8 L346.0 701.2 L346.7 701.7 L347.4 703.4 L348.1 704.4 L348.8 705.1 L349.5 705.4 L350.2 705.7 L350.9 704.3 L351.6 705.8 L352.3 706.5 L353.0 706.0 L353.7 705.0 L354.4 703.1 L355.1 705.0 L355.8 705.3 L356.5 706.5 L357.2 705.3 L357.9 703.2 L358.6 704.4 L359.3 704.9 L360.0 706.6 L360.7 706.8 L361.4 706.6 L362.1 706.6 L362.8 705.6 L363.5 705.3 L364.2 708.4 L364.9 709.1 L365.6 710.4 L366.3 709.3 L367.0 706.8 L367.7 707.4 L368.4 706.8 L369.1 709.1 L369.8 709.8 L370.5 708.2 L371.2 709.3 L371.9 709.9 L372.6 710.0 L373.3 708.8 L374.0 708.1 L374.7 710.3 L375.4 711.2 L376.1 711.9 L376.8 712.3 L377.5 711.9 L378.2 711.7 L378.9 710.5 L379.6 710.1 L380.3 708.2 L381.0 710.6 L381.7 712.6 L382.4 716.8 L383.1 714.8 L383.8 714.9 L384.5 713.8 L385.2 715.3 L385.9 716.4 L386.6 716.6 L387.3 716.5 L388.0 714.3 L388.7 713.7 L389.4 716.1 L390.1 719.3 L390.8 721.8 L391.5 720.1 L392.2 719.6 L392.9 717.9 L393.6 719.2 L394.3 719.8 L395.0 721.3 L395.7 722.8 L396.4 722.4 L397.1 723.0 L397.8 720.5 L398.5 722.5 L399.2 721.7 L399.9 723.2 L400.6 722.6 L401.3 724.6 L402.0 724.9 L402.7 724.6 L403.4 722.4 L404.1 722.9 L404.8 722.8 L405.5 723.6 L406.2 723.5 L406.9 725.1 L407.6 725.1 L408.3 725.9 L409.0 727.1 L409.7 726.6 L410.4 727.4 L411.1 727.9 L411.8 728.9 L412.5 728.5 L413.2 725.6 L413.9 726.6 L414.6 726.0 L415.3 727.6 L416.0 726.7 L416.7 726.5 L417.4 726.0 L418.1 726.3 L418.8 726.7 L419.5 727.1 L420.2 726.9 L420.9 727.5 L421.6 728.3 L422.3 727.4 L423.0 727.9 L423.7 727.0 L424.4 728.2 L425.1 727.1 L425.8 727.2 L426.5 727.7 L427.2 729.4 L427.9 729.2 L428.6 730.9 L429.3 730.1 L430.0 732.0 L430.7 732.2 L431.4 732.1 L432.1 732.6 L432.8 733.8 L433.5 734.7 L434.2 734.5 L434.9 732.8 L435.6 733.4 L436.3 733.0 L437.0 732.9 L437.7 733.7 L438.4 734.8 L439.1 735.4 L439.8 736.3 L440.5 736.7 L441.2 737.5 L441.9 735.8 L442.6 736.7 L443.3 737.4 L444.0 736.4 L444.7 734.1 L445.4 732.8 L446.1 735.5 L446.8 737.7 L447.5 738.0 L448.2 737.6 L448.9 737.3 L449.6 736.7 L450.3 737.1 L451.0 736.4 L451.7 737.8 L452.4 737.4 L453.1 736.8 L453.8 736.0 L454.5 736.2 L455.2 737.4 L455.9 738.2 L456.6 739.2 L457.3 738.9 L458.0 738.2 L458.7 737.2 L459.4 737.4 L460.1 738.5 L460.8 739.8 L461.5 740.5 L462.2 741.6 L462.9 741.3 L463.6 740.8 L464.3 740.9 L465.0 740.3 L465.7 740.7 L466.4 739.2 L467.1 739.6 L467.8 739.2 L468.5 740.5 L469.2 742.0 L469.9 744.3 L470.6 745.0 L471.3 743.6 L472.0 742.4 L472.7 741.9 L473.4 741.5 L474.1 740.9 L474.8 740.7 L475.5 740.8 L476.2 742.1 L476.9 742.0 L477.6 742.2 L478.3 741.8 L479.0 741.8 L479.7 741.4 L480.4 740.3 L481.1 741.4 L481.8 742.8 L482.5 743.9 L483.2 743.3 L483.9 742.5 L484.6 743.1 L485.3 742.5 L486.0 743.2 L486.7 741.6 L487.4 742.6 L488.1 742.8 L488.8 745.1 L489.5 743.3 L490.2 744.7 L490.9 743.2 L491.6 745.9 L492.3 745.6 L493.0 745.9 L493.7 745.8 L494.4 745.7 L495.1 746.4 L495.8 746.1 L496.5 746.0 L497.2 746.4 L497.9 745.9 L498.6 747.1 L499.3 747.3 L500.0 746.8 L500.7 745.2 L501.4 746.5 L502.1 749.9 L502.8 751.0 L503.5 748.4 L504.2 747.1 L504.9 747.9 L505.6 749.7 L506.3 749.8 L507.0 748.5 L507.7 749.0 L508.4 749.2 L509.1 750.2 L509.8 750.1 L510.5 751.7 L511.2 751.8 L511.9 751.7 L512.6 749.2 L513.3 750.0 L514.0 750.7 L514.7 752.2 L515.4 749.7 L516.1 748.7 L516.8 748.9 L517.5 752.5 L518.2 753.6 L518.9 754.3 L519.6 753.4 L520.3 754.1 L521.0 752.7 L521.7 751.5 L522.4 749.7 L523.1 750.5 L523.8 751.0 L524.5 752.1 L525.2 751.7 L525.9 752.1 L526.6 751.5 L527.3 754.1 L528.0 753.7 L528.7 756.5 L529.4 756.2 L530.1 755.8 L530.8 754.6 L531.5 753.9 L532.2 753.8 L532.9 753.6 L533.6 753.1 L534.3 754.7 L535.0 753.6 L535.7 753.8 L536.4 753.9 L537.1 754.5 L537.8 754.2 L538.5 753.8 L539.2 753.3 L539.9 754.1 L540.6 752.3 L541.3 754.3 L542.0 754.2 L542.7 756.6 L543.4 756.2 L544.1 755.3 L544.8 756.7 L545.5 755.3 L546.2 756.7 L546.9 755.2 L547.6 757.2 L548.3 756.9 L549.0 755.6 L549.7 754.9 L550.4 753.1 L551.1 754.1 L551.8 753.5 L552.5 756.7 L553.2 756.7 L553.9 756.8 L554.6 755.1 L555.3 754.7 L556.0 754.7 L556.7 755.8 L557.4 755.5 L558.1 755.8 L558.8 754.3 L559.5 755.2 L560.2 755.6 L560.9 755.8 L561.6 755.6 L562.3 755.6 L563.0 757.2 L563.7 758.4 L564.4 758.3 L565.1 757.0 L565.8 755.1 L566.5 755.8 L567.2 757.7 L567.9 759.3 L568.6 759.9 L569.3 758.6 L570.0 758.0 L570.7 758.1 L571.4 757.7 L572.1 758.5 L572.8 757.7 L573.5 758.6 L574.2 759.5 L574.9 758.6 L575.6 758.2 L576.3 755.3 L577.0 755.2 L577.7 755.2 L578.4 756.6 L579.1 757.3 L579.8 758.0 L580.5 757.8 L581.2 756.5 L581.9 756.4 L582.6 757.3 L583.3 758.0 L584.0 757.3 L584.7 758.4 L585.4 760.2 L586.1 761.7 L586.8 760.9 L587.5 760.3 L588.2 759.1 L588.9 759.1 L589.6 758.9 L590.3 759.0 L591.0 758.6 L591.7 758.7 L592.4 759.8 L593.1 759.2 L593.8 761.2 L594.5 759.8 L595.2 760.3 L595.9 759.2 L596.6 759.4 L597.3 759.4 L598.0 758.8 L598.7 757.2 L599.4 757.3 L600.1 756.6 L600.8 758.7 L601.5 759.6 L602.2 760.9 L602.9 762.3 L603.6 763.1 L604.3 763.5 L605.0 762.4 L605.7 762.2 L606.4 760.7 L607.1 760.7 L607.8 761.1 L608.5 762.6 L609.2 761.6 L609.9 760.2 L610.6 760.3 L611.3 762.0 L612.0 763.3 L612.7 761.4 L613.4 760.0 L614.1 759.1 L614.8 759.8 L615.5 760.8 L616.2 761.1 L616.9 762.2 L617.6 762.2 L618.3 762.7 L619.0 763.1 L619.7 763.4 L620.4 762.1 L621.1 762.5 L621.8 762.7 L622.5 764.0 L623.2 763.2 L623.9 761.9 L624.6 762.1 L625.3 761.5 L626.0 761.9 L626.7 762.5 L627.4 762.8 L628.1 764.0 L628.8 763.8 L629.5 765.3 L630.2 763.8 L630.9 762.6 L631.6 761.9 L632.3 762.9 L633.0 761.0 L633.7 760.7 L634.4 761.4 L635.1 764.5 L635.8 764.6 L636.5 764.2 L637.2 763.8 L637.9 763.6 L638.6 763.6 L639.3 763.7 L640.0 764.0 L640.7 763.6 L641.4 764.3 L642.1 764.6 L642.8 766.0 L643.5 763.2 L644.2 762.7 L644.9 762.0 L645.6 763.4 L646.3 763.7 L647.0 762.7 L647.7 764.4 L648.4 764.3 L649.1 765.1 L649.8 765.2 L650.5 765.3 L651.2 766.0 L651.9 763.9 L652.6 764.0 L653.3 764.8 L654.0 766.7 L654.7 765.3 L655.4 765.3 L656.1 765.7 L656.8 767.4 L657.5 766.0 L658.2 763.7 L658.9 762.4 L659.6 762.3 L660.3 763.6 L661.0 764.8 L661.7 764.6 L662.4 763.2 L663.1 762.5 L663.8 762.1 L664.5 764.3 L665.2 763.7 L665.9 765.1 L666.6 764.7 L667.3 764.9 L668.0 765.3 L668.7 764.6 L669.4 764.8 L670.1 763.3 L670.8 763.5 L671.5 764.9 L672.2 764.2 L672.9 764.6 L673.6 763.7 L674.3 764.6 L675.0 764.0 L675.7 764.1 L676.4 764.7 L677.1 765.4 L677.8 764.7 L678.5 766.3 L679.2 766.3 L679.9 766.6 L680.6 763.7 L681.3 763.0 L682.0 763.1 L682.7 765.2 L683.4 765.7 L684.1 767.5 L684.8 766.9 L685.5 766.9 L686.2 765.2 L686.9 765.0 L687.6 765.6 L688.3 765.8 L689.0 766.0 L689.7 764.6 L690.4 765.0 L691.1 765.5 L691.8 765.7 L692.5 764.6 L693.2 764.4 L693.9 763.9 L694.6 764.5 L695.3 764.4 L696.0 765.2 L696.7 763.7 L697.4 764.8 L698.1 765.2 L698.8 768.4 L699.5 769.0 L700.2 767.7 L700.9 765.8 L701.6 764.1 L702.3 765.5 L703.0 765.5 L703.7 765.1 L704.4 765.2 L705.1 764.9 L705.8 765.2 L706.5 765.2 L707.2 765.7 L707.9 766.1 L708.6 765.1 L709.3 764.1 L710.0 763.1 L710.7 763.0 L711.4 763.9 L712.1 764.3 L712.8 764.7 L713.5 765.2 L714.2 765.2 L714.9 764.6 L715.6 764.2 L716.3 763.7 L717.0 763.6 L717.7 764.7 L718.4 763.5 L719.1 764.1 L719.8 761.8 L720.5 762.8 L721.2 763.1 L721.9 764.1 L722.6 765.6 L723.3 764.2 L724.0 764.2 L724.7 762.6 L725.4 763.3 L726.1 763.2 L726.8 763.3 L727.5 763.4 L728.2 764.4 L728.9 764.7 L729.6 764.7 L730.3 763.6 L731.0 762.9 L731.7 761.7 L732.4 761.1 L733.1 761.6 L733.8 761.2 L734.5 762.4 L735.2 762.0 L735.9 762.7 L736.6 761.8 L737.3 762.5 L738.0 763.5 L738.7 764.0 L739.4 764.8 L740.1 766.3 L740.8 765.1 L741.5 764.4 L742.2 762.1 L742.9 762.0 L743.6 760.9 L744.3 762.2 L745.0 762.9 L745.7 763.0 L746.4 763.2 L747.1 763.8 L747.8 764.1 L748.5 764.3 L749.2 764.3 L749.9 763.7 L750.6 761.5 L751.3 760.7 L752.0 761.4 L752.7 762.8 L753.4 763.7 L754.1 763.6 L754.8 761.9 L755.5 761.9 L756.2 761.8 L756.9 761.8 L757.6 760.0 L758.3 760.0 L759.0 761.0 L759.7 762.5 L760.4 761.3 L761.1 762.4 L761.8 760.3 L762.5 761.1 L763.2 760.6 L763.9 762.6 L764.6 761.8 L765.3 761.2 L766.0 761.2 L766.7 762.4 L767.4 761.1 L768.1 761.3 L768.8 759.4 L769.5 760.1 L770.2 757.9 L770.9 758.7 L771.6 758.3 L772.3 759.4 L773.0 758.7 L773.7 759.0 L774.4 759.5 L775.1 760.4 L775.8 760.6 L776.5 759.8 L777.2 759.1 L777.9 758.3 L778.6 757.9 L779.3 758.7 L780.0 760.5 L780.7 761.6 L781.4 760.8 L782.1 758.8 L782.8 756.6 L783.5 755.1 L784.2 756.4 L784.9 757.5 L785.6 757.6 L786.3 756.5 L787.0 757.9 L787.7 759.6 L788.4 759.9 L789.1 758.2 L789.8 757.1 L790.5 755.7 L791.2 754.8 L791.9 755.4 L792.6 756.0 L793.3 757.1 L794.0 758.3 L794.7 758.8 L795.4 758.8 L796.1 757.1 L796.8 755.5 L797.5 756.4 L798.2 757.2 L798.9 759.0 L799.6 756.9 L800.3 754.9 L801.0 754.9 L801.7 753.4 L802.4 754.5 L803.1 752.9 L803.8 754.6 L804.5 755.3 L805.2 756.3 L805.9 754.3 L806.6 754.3 L807.3 752.1 L808.0 754.1 L808.7 752.9 L809.4 753.4 L810.1 752.3 L810.8 751.5 L811.5 752.3 L812.2 753.3 L812.9 754.9 L813.6 754.8 L814.3 754.8 L815.0 754.5 L815.7 756.0 L816.4 755.5 L817.1 754.5 L817.8 752.4 L818.5 751.3 L819.2 751.4 L819.9 751.4 L820.6 752.4 L821.3 753.2 L822.0 753.2 L822.7 752.9 L823.4 751.5 L824.1 750.9 L824.8 748.5 L825.5 748.4 L826.2 748.3 L826.9 752.2 L827.6 751.6 L828.3 751.9 L829.0 749.5 L829.7 749.1 L830.4 749.2 L831.1 749.3 L831.8 749.2 L832.5 747.0 L833.2 746.8 L833.9 746.6 L834.6 748.9 L835.3 748.5 L836.0 749.9 L836.7 748.9 L837.4 750.2 L838.1 750.1 L838.8 751.4 L839.5 750.0 L840.2 748.4 L840.9 745.7 L841.6 745.0 L842.3 745.8 L843.0 746.3 L843.7 748.5 L844.4 747.9 L845.1 748.6 L845.8 746.5 L846.5 745.3 L847.2 745.6 L847.9 745.8 L848.6 747.4 L849.3 745.6 L850.0 744.9 L850.7 744.0 L851.4 745.6 L852.1 744.2 L852.8 744.6 L853.5 744.5 L854.2 745.0 L854.9 743.5 L855.6 743.3 L856.3 743.6 L857.0 744.8 L857.7 743.9 L858.4 744.0 L859.1 742.1 L859.8 738.8 L860.5 737.5 L861.2 736.0 L861.9 737.4 L862.6 735.4 L863.3 736.5 L864.0 735.0 L864.7 735.5 L865.4 734.3 L866.1 733.8 L866.8 732.7 L867.5 731.0 L868.2 729.7 L868.9 730.2 L869.6 729.0 L870.3 728.3 L871.0 726.5 L871.7 727.6 L872.4 729.3 L873.1 729.8 L873.8 729.8 L874.5 728.3 L875.2 729.6 L875.9 732.0 L876.6 733.7 L877.3 731.9 L878.0 731.3 L878.7 732.0 L879.4 730.4 L880.1 729.3 L880.8 728.4 L881.5 731.0 L882.2 733.6 L882.9 735.8 L883.6 736.8 L884.3 735.1 L885.0 735.6 L885.7 734.6 L886.4 735.0 L887.1 732.8 L887.8 734.1 L888.5 733.2 L889.2 732.7 L889.9 732.4 L890.6 732.2 L891.3 734.0 L892.0 732.2 L892.7 731.4 L893.4 728.8 L894.1 729.8 L894.8 728.6 L895.5 728.8 L896.2 728.5 L896.9 729.2 L897.6 729.1 L898.3 727.7 L899.0 727.2 L899.7 727.1 L900.4 726.3 L901.1 723.9 L901.8 724.2 L902.5 723.2 L903.2 726.4 L903.9 725.2 L904.6 728.8 L905.3 727.9 L906.0 727.9 L906.7 725.6 L907.4 723.2 L908.1 723.0 L908.8 722.0 L909.5 723.7 L910.2 722.2 L910.9 721.2 L911.6 722.5 L912.3 724.9 L913.0 726.9 L913.7 726.4 L914.4 726.0 L915.1 726.2 L915.8 727.1 L916.5 727.6 L917.2 728.9 L917.9 727.7 L918.6 726.4 L919.3 725.2 L920.0 725.8 L920.7 726.3 L921.4 726.3 L922.1 725.7 L922.8 727.1 L923.5 727.8 L924.2 728.7 L924.9 726.7 L925.6 725.7 L926.3 725.3 L927.0 725.6 L927.7 724.7 L928.4 722.4 L929.1 722.4 L929.8 722.1 L930.5 723.2 L931.2 721.7 L931.9 722.8 L932.6 721.3 L933.3 719.7 L934.0 717.3 L934.7 717.2 L935.4 718.9 L936.1 717.6 L936.8 715.9 L937.5 713.6 L938.2 712.8 L938.9 710.4 L939.6 710.5 L940.3 711.2 L941.0 711.8 L941.7 709.6 L942.4 707.9 L943.1 707.6 L943.8 709.4 L944.5 709.2 L945.2 711.2 L945.9 710.1 L946.6 710.4 L947.3 709.5 L948.0 710.7 L948.7 713.8 L949.4 717.5 L950.1 720.4 L950.8 721.6 L951.5 720.2 L952.2 722.7 L952.9 723.3 L953.6 728.4 L954.3 731.3 L955.0 733.9 L955.7 734.3 L956.4 733.5 L957.1 733.1 L957.8 732.2 L958.5 731.7 L959.2 733.6 L959.9 735.9 L960.6 737.1 L961.3 738.4 L962.0 737.7 L962.7 736.8 L963.4 736.3 L964.1 737.1 L964.8 737.5 L965.5 738.8 L966.2 738.4 L966.9 739.4 L967.6 739.1 L968.3 739.3 L969.0 740.8 L969.7 741.3 L970.4 742.9 L971.1 742.7 L971.8 742.3 L972.5 741.5 L973.2 742.1 L973.9 743.9 L974.6 745.5 L975.3 745.8 L976.0 745.8 L976.7 746.5 L977.4 745.4 L978.1 744.8 L978.8 744.9 L979.5 745.6 L980.2 745.5 L980.9 745.2 L981.6 745.8 L982.3 747.4 L983.0 746.8 L983.7 747.7 L984.4 749.0 L985.1 750.4 L985.8 749.0 L986.5 746.2 L987.2 744.6 L987.9 745.9 L988.6 745.8 L989.3 747.3 L990.0 748.9 L990.7 751.6 L991.4 750.7 L992.1 749.2 L992.8 747.9 L993.5 748.0 L994.2 749.8 L994.9 749.7 L995.6 749.7 L996.3 748.8 L997.0 749.8 L997.7 752.1 L998.4 753.3 L999.1 753.0 L999.8 750.3 L1000.5 749.8 L1001.2 750.8 L1001.9 754.1 L1002.6 752.5 L1003.3 751.1 L1004.0 751.1 L1004.7 753.9 L1005.4 756.1 L1006.1 755.1 L1006.8 755.0 L1007.5 753.8 L1008.2 753.0 L1008.9 752.2 L1009.6 752.9 L1010.3 754.8 L1011.0 756.0 L1011.7 754.7 L1012.4 754.5 L1013.1 754.3 L1013.8 754.9 L1014.5 754.7 L1015.2 754.6 L1015.9 756.1 L1016.6 755.9 L1017.3 755.6 L1018.0 754.5 L1018.7 755.6 L1019.4 756.0 L1020.1 756.6 L1020.8 757.0 L1021.5 757.2 L1022.2 756.9 L1022.9 757.4 L1023.6 758.4 L1024.3 759.8 L1025.0 758.2 L1025.7 758.5 L1026.4 757.7 L1027.1 757.2 L1027.8 756.4 L1028.5 758.3 L1029.2 759.6 L1029.9 760.2 L1030.6 760.0 L1031.3 760.6 L1032.0 760.1 L1032.7 759.1 L1033.4 759.6 L1034.1 759.6 L1034.8 760.0 L1035.5 760.1 L1036.2 760.3 L1036.9 760.8 L1037.6 760.9 L1038.3 761.1 L1039.0 760.5 L1039.7 760.3 L1040.4 760.6 L1041.1 760.8 L1041.8 760.0 L1042.5 760.4 L1043.2 761.3 L1043.9 762.7 L1044.6 762.1 L1045.3 762.2 L1046.0 762.3 L1046.7 762.4 L1047.4 762.5 L1048.1 762.0 L1048.8 762.6 L1049.5 762.5 L1050.2 762.7 L1050.9 761.4 L1051.6 761.5 L1052.3 761.0 L1053.0 762.7 L1053.7 763.2 L1054.4 764.0 L1055.1 763.9 L1055.8 763.6 L1056.5 764.3 L1057.2 764.2 L1057.9 763.7 L1058.6 763.8 L1059.3 765.8 L1060.0 766.4 L1060.7 766.8 L1061.4 765.2 L1062.1 765.3 L1062.8 764.8 L1063.5 764.5 L1064.2 764.6 L1064.9 764.5 L1065.6 763.6 L1066.3 763.7 L1067.0 764.1 L1067.7 766.3 L1068.4 766.7 L1069.1 765.7 L1069.8 765.1 L1070.5 764.8 L1071.2 765.1 L1071.9 765.4 L1072.6 766.5 L1073.3 766.6 L1074.0 766.8 L1074.7 767.3 L1075.4 767.9 L1076.1 767.6 L1076.8 766.5 L1077.5 766.8 L1078.2 767.7 L1078.9 766.4 L1079.6 766.6 L1080.3 766.9 L1081.0 769.7 L1081.7 770.1 L1082.4 769.6 L1083.1 768.4 L1083.8 768.5 L1084.5 768.8 L1085.2 768.6 L1085.9 769.2 L1086.6 769.8 L1087.3 770.3 L1088.0 768.7 L1088.7 768.7 L1089.4 767.1 L1090.1 768.7 L1090.8 768.2 L1091.5 770.1 L1092.2 770.3 L1092.9 770.0 L1093.6 770.5 L1094.3 769.7 L1095.0 771.4 L1095.7 770.4 L1096.4 769.8 L1097.1 770.0 L1097.8 770.7 L1098.5 771.3 L1099.2 769.6 L1099.9 770.4 L1100.6 770.2 L1101.3 770.9 L1102.0 769.6 L1102.7 769.9 L1103.4 770.6 L1104.1 771.1 L1104.8 771.2 L1105.5 770.4 L1106.2 771.6 L1106.9 772.9 L1107.6 773.2 L1108.3 771.6 L1109.0 770.7 L1109.7 769.8 L1110.4 770.7 L1111.1 770.8 L1111.8 772.1 L1112.5 773.2 L1113.2 774.4 L1113.9 774.7 L1114.6 773.4 L1115.3 772.9 L1116.0 773.4 L1116.7 772.9 L1117.4 771.7 L1118.1 770.8 L1118.8 770.6 L1119.5 770.4 L1120.2 771.8 L1120.9 772.1 L1121.6 773.6 L1122.3 771.9 L1123.0 773.6 L1123.7 773.3 L1124.4 774.5 L1125.1 772.9 L1125.8 773.0 L1126.5 772.0 L1127.2 773.6 L1127.9 773.9 L1128.6 774.5 L1129.3 773.9 L1130.0 773.4 L1130.7 773.6 L1131.4 773.3 L1132.1 773.1 L1132.8 772.5 L1133.5 772.2 L1134.2 773.3 L1134.9 772.8 L1135.6 774.5 L1136.3 774.3 L1137.0 774.1 L1137.7 771.9 L1138.4 771.5 L1139.1 772.0 L1139.8 773.4 L1140.5 774.1 L1141.2 775.2 L1141.9 775.0 L1142.6 774.2 L1143.3 775.0 L1144.0 775.0 L1144.7 776.4 L1145.4 776.8 L1146.1 776.9 L1146.8 775.9 L1147.5 775.7 L1148.2 775.5 L1148.9 775.7 L1149.6 775.2 L1150.3 775.1 L1151.0 775.1 L1151.7 774.5 L1152.4 774.9 L1153.1 775.7 L1153.8 775.6 L1154.5 777.6 L1155.2 777.1 L1155.9 776.7 L1156.6 775.3 L1157.3 774.3 L1158.0 775.5 L1158.7 775.8 L1159.4 775.5 L1160.1 774.7 L1160.8 774.6 L1161.5 775.5 L1162.2 775.2 L1162.9 775.6 L1163.6 776.6 L1164.3 776.3 L1165.0 776.6 L1165.7 774.2 L1166.4 775.2 L1167.1 773.7 L1167.8 774.8 L1168.5 775.1 L1169.2 774.8 L1169.9 775.1 L1170.6 776.2 L1171.3 777.4 L1172.0 778.5 L1172.7 778.0 L1173.4 776.6 L1174.1 776.8 L1174.8 776.8 L1175.5 778.5 L1176.2 777.0 L1176.9 776.1 L1177.6 774.9 L1178.3 775.1 L1179.0 775.6 L1179.7 776.3 L1180.4 776.3 L1181.1 774.9 L1181.8 774.5 L1182.5 774.1 L1183.2 775.7 L1183.9 776.0 L1184.6 776.3 L1185.3 776.1 L1186.0 776.2 L1186.7 776.3 L1187.4 777.1 L1188.1 777.3 L1188.8 776.9 L1189.5 776.6 L1190.2 777.3 L1190.9 778.4 L1191.6 777.2 L1192.3 777.3 L1193.0 776.9 L1193.7 778.0 L1194.4 777.4 L1195.1 777.8 L1195.8 778.1 L1196.5 779.1 L1197.2 779.0 L1197.9 778.6 L1198.6 778.1 L1199.3 777.9 L1200.0 778.7 L1200.7 778.5 L1201.4 779.1 L1202.1 778.0 L1202.8 778.6 L1203.5 778.6 L1204.2 778.4 L1204.9 777.5 L1205.6 777.1 L1206.3 776.8 L1207.0 776.4 L1207.7 776.7 L1208.4 778.0 L1209.1 779.6 L1209.8 778.5 L1210.5 777.9 L1211.2 775.6 L1211.9 777.7 L1212.6 777.1 L1213.3 778.3 L1214.0 778.5 L1214.7 780.4 L1215.4 780.0 L1216.1 780.2 L1216.8 779.6 L1217.5 779.5 L1218.2 778.2 L1218.9 778.3 L1219.6 779.5 L1220.3 777.9 L1221.0 778.7 L1221.7 777.2 L1222.4 778.5 L1223.1 778.3 L1223.8 779.7 L1224.5 779.8 L1225.2 778.5 L1225.9 778.6 L1226.6 779.6 L1227.3 779.7 L1228.0 779.6 L1228.7 778.5 L1229.4 778.6 L1230.1 777.0 L1230.8 777.4 L1231.5 778.4 L1232.2 779.7 L1232.9 780.3 L1233.6 779.9 L1234.3 780.9 L1235.0 780.3 L1235.7 780.0 L1236.4 778.9 L1237.1 779.0 L1237.8 779.5 L1238.5 779.4 L1239.2 779.3 L1239.9 778.3 L1240.6 778.0 L1241.3 778.6 L1242.0 779.8 L1242.7 781.4 L1243.4 781.1 L1244.1 781.1 L1244.8 781.8 L1245.5 781.3 L1246.2 781.4 L1246.9 781.2 L1247.6 783.2 L1248.3 783.5 L1249.0 782.4 L1249.7 780.4 L1250.4 780.0 L1251.1 780.2 L1251.8 780.9 L1252.5 781.4 L1253.2 781.7 L1253.9 781.4 L1254.6 780.5 L1255.3 780.0 L1256.0 780.6 L1256.7 782.3 L1257.4 781.5 L1258.1 781.9 L1258.8 780.7 L1259.5 782.5 L1260.2 783.1 L1260.9 783.6 L1261.6 782.1 L1262.3 780.6 L1263.0 780.6 L1263.7 781.1 L1264.4 781.4 L1265.1 780.6 L1265.8 780.7 L1266.5 780.4 L1267.2 781.5 L1267.9 781.8 L1268.6 782.8 L1269.3 781.1 L1270.0 780.6 L1270.7 779.7 L1271.4 780.5 L1272.1 780.2 L1272.8 780.3 L1273.5 781.6 L1274.2 782.0 L1274.9 781.7 L1275.6 780.4 L1276.3 781.1 L1277.0 781.4 L1277.7 779.9 L1278.4 777.0 L1279.1 775.3 L1279.8 774.8 L1280.5 772.4 L1281.2 770.5 L1281.9 769.0 L1282.6 767.6 L1283.3 766.7 L1284.0 765.5 L1284.7 765.6 L1285.4 764.5 L1286.1 762.2 L1286.8 759.6 L1287.5 757.2 L1288.2 756.2 L1288.9 754.5 L1289.6 752.2 L1290.3 750.9 L1290.6 751.3 L1291.0 752.2 L1291.7 753.4 L1292.4 755.4 L1293.1 756.8 L1293.8 758.0 L1294.5 758.5 L1295.2 761.6 L1295.9 765.2 L1296.6 767.8 L1297.3 770.8 L1298.0 771.6 L1298.7 774.2 L1299.4 774.9 L1300.1 778.2 L1300.8 779.3 L1301.5 781.8 L1302.2 781.7 L1302.9 781.7 L1303.6 780.6 L1304.3 780.8 L1305.0 782.9 L1305.7 783.0 L1306.4 783.2 L1307.1 783.6 L1307.8 784.1 L1308.5 783.9 L1309.2 782.1 L1309.9 781.1 L1310.6 781.9 L1311.3 783.3 L1312.0 784.2 L1312.7 783.4 L1313.4 782.9 L1314.1 783.3 L1314.8 784.0 L1315.5 784.2 L1316.2 784.3 L1316.9 784.3 L1317.6 784.7 L1318.3 783.6 L1319.0 783.1 L1319.7 782.3 L1320.4 782.7 L1321.1 784.5 L1321.8 783.3 L1322.5 784.7 L1323.2 784.1 L1323.9 785.8 L1324.6 785.7 L1325.3 785.0 L1326.0 784.4 L1326.7 785.1 L1327.4 785.4 L1328.1 784.9 L1328.8 783.3 L1329.5 782.4 L1330.2 783.6 L1330.9 785.1 L1331.6 786.0 L1332.3 785.9 L1333.0 784.9 L1333.7 785.7 L1334.4 786.3 L1335.1 787.2 L1335.8 787.9 L1336.5 786.6 L1337.2 786.5 L1337.9 784.4 L1338.6 785.7 L1339.3 785.8 L1340.0 787.3 L1340.7 787.4 L1341.4 786.8 L1342.1 786.0 L1342.8 786.0 L1343.5 785.7 L1344.2 786.6 L1344.9 785.6 L1345.6 786.3 L1346.3 786.1 L1347.0 786.1 L1347.7 785.7 L1348.4 786.2 L1349.1 786.8 L1349.8 787.4 L1350.5 786.5 L1351.2 786.5 L1351.9 785.3 L1352.6 785.2 L1353.3 785.9 L1354.0 787.3 L1354.7 787.8 L1355.4 787.1 L1356.1 786.0 L1356.8 786.2 L1357.5 785.4 L1358.2 785.8 L1358.9 786.0 L1359.6 786.4 L1360.3 786.5 L1361.0 786.1 L1361.7 786.6 L1362.4 787.8 L1363.1 786.8 L1363.8 786.5 L1364.5 786.1 L1365.2 786.9 L1365.9 786.9 L1366.6 786.0 L1367.3 786.2 L1368.0 786.9 L1368.7 788.2 L1369.4 788.7 L1370.1 789.2 L1370.8 788.5 L1371.5 787.2 L1372.2 786.9 L1372.9 785.6 L1373.6 786.6 L1374.3 786.2 L1375.0 786.8 L1375.7 786.7 L1376.4 786.4 L1377.1 787.3 L1377.8 787.3 L1378.5 788.0 L1379.2 787.8 L1379.9 788.4 L1380.6 788.0 L1381.3 788.5 L1382.0 788.2 L1382.7 788.0 L1383.4 788.6 L1384.1 788.9 L1384.8 787.8 L1385.5 786.4 L1386.2 787.1 L1386.9 788.4 L1387.6 791.0 L1388.3 790.3 L1389.0 790.8 L1389.7 788.7 L1390.4 788.4 L1391.1 788.2 L1391.8 789.1 L1392.5 789.4 L1393.2 789.3 L1393.9 788.1 L1394.6 787.8 L1395.3 787.6 L1396.0 788.2 L1396.7 788.0 L1397.4 787.6 L1398.1 787.5 L1398.8 786.5 L1399.5 786.2 L1400.2 785.9 L1400.9 787.7 L1401.6 788.3 L1402.3 788.1 L1403.0 788.3 L1403.7 788.7 L1404.4 790.2 L1405.1 789.7 L1405.8 789.4 L1406.5 788.3 L1407.2 789.6 L1407.9 791.0 L1408.6 791.3 L1409.3 790.9 L1410.0 789.1 L1410.7 789.8 L1411.4 789.4 L1412.1 790.3 L1412.8 789.5 L1413.5 789.5 L1414.2 789.3 L1414.9 789.0 L1415.6 788.1 L1416.3 789.4 L1417.0 789.1 L1417.7 789.8 L1418.4 789.5 L1419.1 790.8 L1419.8 791.8 L1420.5 790.8 L1421.2 789.8 L1421.9 788.8 L1422.6 788.1 L1423.3 788.9 L1424.0 787.9 L1424.7 789.0 L1425.4 789.0 L1426.1 790.6 L1426.8 790.4 L1427.5 790.4 L1428.2 790.6 L1428.9 789.8 L1429.6 789.1 L1430.3 788.8 L1431.0 790.2 L1431.7 790.2 L1432.4 789.7 L1433.1 790.9 L1433.8 790.8 L1434.5 791.5 L1435.2 789.4 L1435.9 789.9 L1436.6 789.9 L1437.3 790.4 L1438.0 789.7 L1438.7 790.2 L1439.4 790.4 L1440.1 791.4 L1440.8 789.4 L1441.5 790.6 L1442.2 788.7 L1442.9 789.1 L1443.6 787.7 L1444.3 788.9 L1445.0 789.6 L1445.7 791.0 L1446.4 792.3 L1447.1 793.4 L1447.8 792.9 L1448.5 791.7 L1449.2 789.3 L1449.9 788.7 L1450.6 788.2 L1451.3 789.9 L1452.0 789.3 L1452.7 789.1 L1453.4 788.3 L1454.1 789.3 L1454.8 789.9 L1455.5 789.7 L1456.2 788.2 L1456.9 787.7 L1457.6 788.0 L1458.3 788.7 L1459.0 789.1 L1459.7 789.9 L1460.4 790.7 L1461.1 790.2 L1461.8 789.3 L1462.5 789.7 L1463.2 790.0 L1463.9 790.9 L1464.6 790.0 L1465.3 790.4 L1466.0 790.9 L1466.7 790.6 L1467.4 791.1 L1468.1 790.4 L1468.8 790.4 L1469.5 789.4 L1470.2 788.7 L1470.9 789.5 L1471.6 790.4 L1472.3 790.1 L1473.0 789.6 L1473.7 787.8 L1474.4 788.4 L1475.1 789.4 L1475.8 789.7 L1476.5 789.9 L1477.2 788.1 L1477.9 788.9 L1478.6 788.0 L1479.3 788.5 L1480.0 786.9 L1480.7 787.5" stroke-width="7.2" stroke-linejoin="round"/><path d="M109.4 725.1 L110.1 727.3 L110.8 732.1 L111.5 728.6 L112.2 722.1 L112.9 724.2 L113.6 724.3 L114.3 724.4 L115.0 721.2 L115.7 725.0 L116.4 727.6 L117.1 730.3 L117.8 727.7 L118.5 725.2 L119.2 722.5 L119.9 728.0 L120.6 721.3 L121.3 725.2 L122.0 722.9 L122.7 720.0 L123.4 720.0 L124.1 720.8 L124.8 723.3 L125.5 724.0 L126.2 725.2 L126.9 718.0 L127.6 719.6 L128.3 719.8 L129.0 721.2 L129.7 715.3 L130.4 718.4 L131.1 719.9 L131.8 717.2 L132.5 722.2 L133.2 722.5 L133.9 724.0 L134.6 722.6 L135.3 716.6 L136.0 715.7 L136.7 718.2 L137.4 721.5 L138.1 721.0 L138.8 716.2 L139.5 714.7 L140.2 714.1 L140.9 714.7 L141.6 715.8 L142.3 718.1 L143.0 722.4 L143.7 716.4 L144.4 715.2 L145.1 716.2 L145.8 712.8 L146.5 713.4 L147.2 715.6 L147.9 716.1 L148.6 712.5 L149.3 717.1 L150.0 714.5 L150.7 714.9 L151.4 717.1 L152.1 717.3 L152.8 717.3 L153.5 714.5 L154.2 713.2 L154.9 712.6 L155.6 710.6 L156.3 714.2 L157.0 709.4 L157.7 708.9 L158.4 716.5 L159.1 711.5 L159.8 708.8 L160.5 715.1 L161.2 712.1 L161.9 712.5 L162.6 708.2 L163.3 706.7 L164.0 702.3 L164.7 700.9 L165.4 704.2 L166.1 708.5 L166.8 713.4 L167.5 715.9 L168.2 708.2 L168.9 709.7 L169.6 706.7 L170.3 705.2 L171.0 701.1 L171.7 700.3 L172.4 701.9 L173.1 702.2 L173.8 704.7 L174.5 705.2 L175.2 709.5 L175.9 707.6 L176.6 707.3 L177.3 709.6 L178.0 707.8 L178.7 705.2 L179.4 704.2 L180.1 705.0 L180.8 708.3 L181.5 707.9 L182.2 706.4 L182.9 705.9 L183.6 702.8 L184.3 702.8 L185.0 700.0 L185.7 705.7 L186.4 704.1 L187.1 703.3 L187.8 704.0 L188.5 701.9 L189.2 701.7 L189.9 704.9 L190.6 701.5 L191.3 698.2 L192.0 699.4 L192.7 696.7 L193.4 703.6 L194.1 700.8 L194.8 701.7 L195.5 708.8 L196.2 708.3 L196.9 701.9 L197.6 701.8 L198.3 704.2 L199.0 704.6 L199.7 699.2 L200.4 699.2 L201.1 701.9 L201.8 700.1 L202.5 700.4 L203.2 698.5 L203.9 692.6 L204.6 689.9 L205.3 686.4 L206.0 693.9 L206.7 698.9 L207.4 694.4 L208.1 699.3 L208.8 699.6 L209.5 695.7 L210.2 694.7 L210.9 693.9 L211.6 691.2 L212.3 692.2 L213.0 694.0 L213.7 696.3 L214.4 695.9 L215.1 692.3 L215.8 694.2 L216.5 690.8 L217.2 691.5 L217.9 693.3 L218.6 692.2 L219.3 691.7 L220.0 691.9 L220.7 689.3 L221.4 688.4 L222.1 690.7 L222.8 693.9 L223.5 693.3 L224.2 697.1 L224.9 690.1 L225.6 680.1 L226.3 687.4 L227.0 695.2 L227.7 691.2 L228.4 687.5 L229.1 687.7 L229.8 694.2 L230.5 694.9 L231.2 693.2 L231.9 693.0 L232.6 695.5 L233.3 692.3 L234.0 686.7 L234.7 690.7 L235.4 690.4 L236.1 689.6 L236.8 691.5 L237.5 686.9 L238.2 680.6 L238.9 692.3 L239.6 693.8 L240.3 689.0 L241.0 687.6 L241.7 687.8 L242.4 684.8 L243.1 688.1 L243.8 687.7 L244.5 686.2 L245.2 684.3 L245.9 686.3 L246.6 692.8 L247.3 694.5 L248.0 691.3 L248.7 687.8 L249.4 686.0 L250.1 691.4 L250.8 692.8 L251.5 685.5 L252.2 688.4 L252.9 681.7 L253.6 685.2 L254.3 687.7 L255.0 682.3 L255.7 681.8 L256.4 688.0 L257.1 690.7 L257.8 688.6 L258.5 691.3 L259.2 688.4 L259.9 693.2 L260.6 690.3 L261.3 689.4 L262.0 690.5 L262.7 691.4 L263.4 696.7 L264.1 697.7 L264.8 691.7 L265.5 686.6 L266.2 682.9 L266.9 684.1 L267.6 687.0 L268.3 687.4 L269.0 687.5 L269.7 688.2 L270.4 688.1 L271.1 682.6 L271.8 684.0 L272.5 691.4 L273.2 691.2 L273.9 688.0 L274.6 690.9 L275.3 686.4 L276.0 684.3 L276.7 682.1 L277.4 688.7 L278.1 689.5 L278.8 692.0 L279.5 691.2 L280.2 688.8 L280.9 689.4 L281.6 691.7 L282.3 688.1 L283.0 687.0 L283.7 688.5 L284.4 691.3 L285.1 693.4 L285.8 694.9 L286.5 690.4 L287.2 691.0 L287.9 687.0 L288.6 688.9 L289.3 690.0 L290.0 693.7 L290.7 690.3 L291.4 686.5 L292.1 688.5 L292.8 687.9 L293.5 685.3 L294.2 683.8 L294.9 685.2 L295.6 694.3 L296.3 689.5 L297.0 687.2 L297.7 680.4 L298.4 678.9 L299.1 681.7 L299.8 683.1 L300.5 683.9 L301.2 679.6 L301.9 683.5 L302.6 685.4 L303.3 679.2 L304.0 680.5 L304.7 676.6 L305.4 678.6 L306.1 680.7 L306.8 682.2 L307.5 675.0 L308.2 675.3 L308.9 675.6 L309.6 668.3 L310.3 666.3 L311.0 660.6 L311.7 658.9 L312.4 661.9 L313.1 663.0 L313.8 665.5 L314.5 657.2 L315.2 644.2 L315.9 628.7 L316.6 616.6 L317.3 602.6 L318.0 581.4 L318.7 562.6 L319.4 518.8 L320.1 472.8 L320.8 425.0 L321.5 375.9 L322.2 324.6 L322.9 265.7 L323.6 219.1 L324.3 183.2 L325.0 149.3 L325.7 127.1 L326.4 113.4 L326.7 111.5 L327.1 117.1 L327.8 127.1 L328.5 156.7 L329.2 186.2 L329.9 221.4 L330.6 272.5 L331.3 330.8 L332.0 381.2 L332.7 443.9 L333.4 510.7 L334.1 572.5 L334.8 626.7 L335.5 649.0 L336.2 654.7 L336.9 666.4 L337.6 674.1 L338.3 682.2 L339.0 684.0 L339.7 685.0 L340.4 692.8 L341.1 691.9 L341.8 691.1 L342.5 691.1 L343.2 694.2 L343.9 697.8 L344.6 701.3 L345.3 703.4 L346.0 698.2 L346.7 700.9 L347.4 706.2 L348.1 704.9 L348.8 706.0 L349.5 709.1 L350.2 706.5 L350.9 705.4 L351.6 705.7 L352.3 710.6 L353.0 708.4 L353.7 703.4 L354.4 704.4 L355.1 702.5 L355.8 707.8 L356.5 708.0 L357.2 705.0 L357.9 702.4 L358.6 700.3 L359.3 706.6 L360.0 706.3 L360.7 706.1 L361.4 708.2 L362.1 705.1 L362.8 704.3 L363.5 703.7 L364.2 705.3 L364.9 714.5 L365.6 709.9 L366.3 708.5 L367.0 708.8 L367.7 700.4 L368.4 706.8 L369.1 709.1 L369.8 707.7 L370.5 709.2 L371.2 704.8 L371.9 709.9 L372.6 711.9 L373.3 703.9 L374.0 704.8 L374.7 709.8 L375.4 711.0 L376.1 710.3 L376.8 712.9 L377.5 712.2 L378.2 708.5 L378.9 710.0 L379.6 707.0 L380.3 703.4 L381.0 705.0 L381.7 714.5 L382.4 716.2 L383.1 718.7 L383.8 711.4 L384.5 712.6 L385.2 715.6 L385.9 715.7 L386.6 717.3 L387.3 716.4 L388.0 712.6 L388.7 708.3 L389.4 713.7 L390.1 722.7 L390.8 723.1 L391.5 722.7 L392.2 718.0 L392.9 717.2 L393.6 717.0 L394.3 720.3 L395.0 721.1 L395.7 723.5 L396.4 725.9 L397.1 720.9 L397.8 721.8 L398.5 719.2 L399.2 723.8 L399.9 722.0 L400.6 722.1 L401.3 724.7 L402.0 728.1 L402.7 724.3 L403.4 721.0 L404.1 720.1 L404.8 723.1 L405.5 721.5 L406.2 722.2 L406.9 724.8 L407.6 726.3 L408.3 724.2 L409.0 728.2 L409.7 730.1 L410.4 724.0 L411.1 730.5 L411.8 733.2 L412.5 727.0 L413.2 726.6 L413.9 723.5 L414.6 726.4 L415.3 726.7 L416.0 727.1 L416.7 724.3 L417.4 724.0 L418.1 725.2 L418.8 725.0 L419.5 725.5 L420.2 726.2 L420.9 724.9 L421.6 727.7 L422.3 728.1 L423.0 722.8 L423.7 727.1 L424.4 726.4 L425.1 724.5 L425.8 724.1 L426.5 725.6 L427.2 727.5 L427.9 729.6 L428.6 728.0 L429.3 731.9 L430.0 730.0 L430.7 733.3 L431.4 734.0 L432.1 729.8 L432.8 735.7 L433.5 738.9 L434.2 733.3 L434.9 733.7 L435.6 733.0 L436.3 733.0 L437.0 732.4 L437.7 732.5 L438.4 736.1 L439.1 737.1 L439.8 736.2 L440.5 739.7 L441.2 739.6 L441.9 737.2 L442.6 735.2 L443.3 741.2 L444.0 739.0 L444.7 729.7 L445.4 730.5 L446.1 734.5 L446.8 739.5 L447.5 740.5 L448.2 737.0 L448.9 737.8 L449.6 738.0 L450.3 734.5 L451.0 737.6 L451.7 737.2 L452.4 737.8 L453.1 736.7 L453.8 733.6 L454.5 734.2 L455.2 737.5 L455.9 738.4 L456.6 738.6 L457.3 741.0 L458.0 737.5 L458.7 734.7 L459.4 736.7 L460.1 738.1 L460.8 739.6 L461.5 742.8 L462.2 742.6 L462.9 743.4 L463.6 742.1 L464.3 740.6 L465.0 742.4 L465.7 740.2 L466.4 739.7 L467.1 737.6 L467.8 739.4 L468.5 739.8 L469.2 742.7 L469.9 747.9 L470.6 749.7 L471.3 745.6 L472.0 742.4 L472.7 743.5 L473.4 742.0 L474.1 739.7 L474.8 740.5 L475.5 740.3 L476.2 740.9 L476.9 744.7 L477.6 741.2 L478.3 740.8 L479.0 743.2 L479.7 740.1 L480.4 738.1 L481.1 739.8 L481.8 743.8 L482.5 744.7 L483.2 743.9 L483.9 741.6 L484.6 741.3 L485.3 744.3 L486.0 740.4 L486.7 741.2 L487.4 740.1 L488.1 742.1 L488.8 744.8 L489.5 745.7 L490.2 739.1 L490.9 745.8 L491.6 744.2 L492.3 746.2 L493.0 747.5 L493.7 744.3 L494.4 745.6 L495.1 747.4 L495.8 745.9 L496.5 744.6 L497.2 746.8 L497.9 746.2 L498.6 744.2 L499.3 750.0 L500.0 747.2 L500.7 740.6 L501.4 745.0 L502.1 753.3 L502.8 754.1 L503.5 749.0 L504.2 743.9 L504.9 747.5 L505.6 751.8 L506.3 750.6 L507.0 747.9 L507.7 747.6 L508.4 750.9 L509.1 749.9 L509.8 750.8 L510.5 752.7 L511.2 755.0 L511.9 752.2 L512.6 749.7 L513.3 746.7 L514.0 752.9 L514.7 754.0 L515.4 749.8 L516.1 744.5 L516.8 747.9 L517.5 752.7 L518.2 757.6 L518.9 755.5 L519.6 755.0 L520.3 755.7 L521.0 755.3 L521.7 749.5 L522.4 748.1 L523.1 748.3 L523.8 750.5 L524.5 751.5 L525.2 751.9 L525.9 750.3 L526.6 751.7 L527.3 752.5 L528.0 757.8 L528.7 755.5 L529.4 761.1 L530.1 758.9 L530.8 752.4 L531.5 755.8 L532.2 755.0 L532.9 750.8 L533.6 754.3 L534.3 754.6 L535.0 754.4 L535.7 752.2 L536.4 753.8 L537.1 755.3 L537.8 753.9 L538.5 752.7 L539.2 753.0 L539.9 752.3 L540.6 753.0 L541.3 749.6 L542.0 757.1 L542.7 756.8 L543.4 757.1 L544.1 756.9 L544.8 754.5 L545.5 759.6 L546.2 754.6 L546.9 756.1 L547.6 757.8 L548.3 759.4 L549.0 755.6 L549.7 752.3 L550.4 753.7 L551.1 749.5 L551.8 753.2 L552.5 755.9 L553.2 759.7 L553.9 756.3 L554.6 754.3 L555.3 753.3 L556.0 753.1 L556.7 754.8 L557.4 756.6 L558.1 753.4 L558.8 753.9 L559.5 752.5 L560.2 755.3 L560.9 756.1 L561.6 753.3 L562.3 754.5 L563.0 757.4 L563.7 759.9 L564.4 760.1 L565.1 756.8 L565.8 753.2 L566.5 752.8 L567.2 759.1 L567.9 761.9 L568.6 760.6 L569.3 761.5 L570.0 757.2 L570.7 757.4 L571.4 760.6 L572.1 756.7 L572.8 758.8 L573.5 759.3 L574.2 759.8 L574.9 761.8 L575.6 756.6 L576.3 754.5 L577.0 751.4 L577.7 753.3 L578.4 755.6 L579.1 756.6 L579.8 757.6 L580.5 758.4 L581.2 755.3 L581.9 752.8 L582.6 757.6 L583.3 758.8 L584.0 755.2 L584.7 757.0 L585.4 763.4 L586.1 763.6 L586.8 762.9 L587.5 761.5 L588.2 759.4 L588.9 758.1 L589.6 759.9 L590.3 758.6 L591.0 757.8 L591.7 758.7 L592.4 759.7 L593.1 760.8 L593.8 759.4 L594.5 764.4 L595.2 758.4 L595.9 758.4 L596.6 761.1 L597.3 757.9 L598.0 757.9 L598.7 757.3 L599.4 751.8 L600.1 755.6 L600.8 757.0 L601.5 759.1 L602.2 761.8 L602.9 763.5 L603.6 765.9 L604.3 766.1 L605.0 764.3 L605.7 762.1 L606.4 762.6 L607.1 758.9 L607.8 760.9 L608.5 765.2 L609.2 763.1 L609.9 757.6 L610.6 759.3 L611.3 763.6 L612.0 764.5 L612.7 763.3 L613.4 756.8 L614.1 756.8 L614.8 759.3 L615.5 759.0 L616.2 761.0 L616.9 762.2 L617.6 762.8 L618.3 762.4 L619.0 764.1 L619.7 764.8 L620.4 762.4 L621.1 760.3 L621.8 765.1 L622.5 764.4 L623.2 764.0 L623.9 762.2 L624.6 759.2 L625.3 762.6 L626.0 760.7 L626.7 760.3 L627.4 765.2 L628.1 763.5 L628.8 764.4 L629.5 767.0 L630.2 766.8 L630.9 759.3 L631.6 760.6 L632.3 764.1 L633.0 759.8 L633.7 754.8 L634.4 761.7 L635.1 764.9 L635.8 766.1 L636.5 764.6 L637.2 763.0 L637.9 764.0 L638.6 763.6 L639.3 762.8 L640.0 764.5 L640.7 764.3 L641.4 762.5 L642.1 766.5 L642.8 767.6 L643.5 764.7 L644.2 757.8 L644.9 762.3 L645.6 763.2 L646.3 762.0 L647.0 763.8 L647.7 761.7 L648.4 766.6 L649.1 765.8 L649.8 764.4 L650.5 767.9 L651.2 766.8 L651.9 764.6 L652.6 761.7 L653.3 765.8 L654.0 769.2 L654.7 767.3 L655.4 763.0 L656.1 768.3 L656.8 770.3 L657.5 767.6 L658.2 763.0 L658.9 759.7 L659.6 760.7 L660.3 762.6 L661.0 765.2 L661.7 765.6 L662.4 761.9 L663.1 759.5 L663.8 761.3 L664.5 761.9 L665.2 766.1 L665.9 762.8 L666.6 765.6 L667.3 766.4 L668.0 763.5 L668.7 766.4 L669.4 764.4 L670.1 761.8 L670.8 761.7 L671.5 765.0 L672.2 766.1 L672.9 761.1 L673.6 764.7 L674.3 764.2 L675.0 762.6 L675.7 763.9 L676.4 764.6 L677.1 765.2 L677.8 766.1 L678.5 764.6 L679.2 769.8 L679.9 768.1 L680.6 762.5 L681.3 759.4 L682.0 763.0 L682.7 764.4 L683.4 767.0 L684.1 768.7 L684.8 770.2 L685.5 766.6 L686.2 766.6 L686.9 764.2 L687.6 764.9 L688.3 768.5 L689.0 765.7 L689.7 764.4 L690.4 764.3 L691.1 766.0 L691.8 766.7 L692.5 764.3 L693.2 762.3 L693.9 764.5 L694.6 763.0 L695.3 763.7 L696.0 765.6 L696.7 764.1 L697.4 760.6 L698.1 768.3 L698.8 769.9 L699.5 772.5 L700.2 772.3 L700.9 764.1 L701.6 763.1 L702.3 765.9 L703.0 767.2 L703.7 764.1 L704.4 764.6 L705.1 766.8 L705.8 763.6 L706.5 765.6 L707.2 767.6 L707.9 765.6 L708.6 766.5 L709.3 763.9 L710.0 760.2 L710.7 762.0 L711.4 763.5 L712.1 763.6 L712.8 764.7 L713.5 765.8 L714.2 765.7 L714.9 764.8 L715.6 763.3 L716.3 763.2 L717.0 762.7 L717.7 763.5 L718.4 765.9 L719.1 760.5 L719.8 762.1 L720.5 759.6 L721.2 761.9 L721.9 765.3 L722.6 764.8 L723.3 766.5 L724.0 762.2 L724.7 761.8 L725.4 761.9 L726.1 763.0 L726.8 762.5 L727.5 762.4 L728.2 764.2 L728.9 766.4 L729.6 764.6 L730.3 763.3 L731.0 762.0 L731.7 760.0 L732.4 758.1 L733.1 759.3 L733.8 760.8 L734.5 758.6 L735.2 762.8 L735.9 761.5 L736.6 759.6 L737.3 761.1 L738.0 764.2 L738.7 764.3 L739.4 764.9 L740.1 769.1 L740.8 768.9 L741.5 761.7 L742.2 763.3 L742.9 760.3 L743.6 758.1 L744.3 760.9 L745.0 764.5 L745.7 762.2 L746.4 762.1 L747.1 766.2 L747.8 764.8 L748.5 764.1 L749.2 767.5 L749.9 764.5 L750.6 760.1 L751.3 758.7 L752.0 760.6 L752.7 763.1 L753.4 765.4 L754.1 765.1 L754.8 762.1 L755.5 759.8 L756.2 763.5 L756.9 762.0 L757.6 758.1 L758.3 757.8 L759.0 761.4 L759.7 763.1 L760.4 762.8 L761.1 760.1 L761.8 763.8 L762.5 757.7 L763.2 760.4 L763.9 765.1 L764.6 763.7 L765.3 759.4 L766.0 762.3 L766.7 764.6 L767.4 762.4 L768.1 759.5 L768.8 762.4 L769.5 757.0 L770.2 757.9 L770.9 756.6 L771.6 757.4 L772.3 758.7 L773.0 759.5 L773.7 756.5 L774.4 759.8 L775.1 762.7 L775.8 760.6 L776.5 760.7 L777.2 759.7 L777.9 756.8 L778.6 757.1 L779.3 758.7 L780.0 761.2 L780.7 765.3 L781.4 763.7 L782.1 757.8 L782.8 755.7 L783.5 753.1 L784.2 751.9 L784.9 759.8 L785.6 758.5 L786.3 752.8 L787.0 757.8 L787.7 763.9 L788.4 760.7 L789.1 759.0 L789.8 757.4 L790.5 754.1 L791.2 752.5 L791.9 753.7 L792.6 756.2 L793.3 756.5 L794.0 759.5 L794.7 762.0 L795.4 759.8 L796.1 758.6 L796.8 754.7 L797.5 753.9 L798.2 761.2 L798.9 760.3 L799.6 759.1 L800.3 754.1 L801.0 751.6 L801.7 755.8 L802.4 750.3 L803.1 752.5 L803.8 753.6 L804.5 755.7 L805.2 757.7 L805.9 755.8 L806.6 750.3 L807.3 753.9 L808.0 750.5 L808.7 754.1 L809.4 752.5 L810.1 750.1 L810.8 750.4 L811.5 749.7 L812.2 753.2 L812.9 756.6 L813.6 756.3 L814.3 754.9 L815.0 756.5 L815.7 756.9 L816.4 759.5 L817.1 755.4 L817.8 751.2 L818.5 750.7 L819.2 749.9 L819.9 750.8 L820.6 752.1 L821.3 754.4 L822.0 754.6 L822.7 752.9 L823.4 752.3 L824.1 749.5 L824.8 747.4 L825.5 743.5 L826.2 746.7 L826.9 751.2 L827.6 756.5 L828.3 749.2 L829.0 749.5 L829.7 748.4 L830.4 746.0 L831.1 749.7 L831.8 749.2 L832.5 744.1 L833.2 742.2 L833.9 746.4 L834.6 746.0 L835.3 749.7 L836.0 749.3 L836.7 749.9 L837.4 749.5 L838.1 753.0 L838.8 752.7 L839.5 752.9 L840.2 748.6 L840.9 743.7 L841.6 742.2 L842.3 744.8 L843.0 746.8 L843.7 747.2 L844.4 752.8 L845.1 748.5 L845.8 747.4 L846.5 745.4 L847.2 743.1 L847.9 747.9 L848.6 748.7 L849.3 747.3 L850.0 743.1 L850.7 744.1 L851.4 745.5 L852.1 746.6 L852.8 741.9 L853.5 745.9 L854.2 747.6 L854.9 742.8 L855.6 741.8 L856.3 746.3 L857.0 745.4 L857.7 746.3 L858.4 745.6 L859.1 744.4 L859.8 738.5 L860.5 733.2 L861.2 737.4 L861.9 736.1 L862.6 736.8 L863.3 735.5 L864.0 738.5 L864.7 735.1 L865.4 736.2 L866.1 736.2 L866.8 732.6 L867.5 731.8 L868.2 729.7 L868.9 728.3 L869.6 732.3 L870.3 726.4 L871.0 723.3 L871.7 726.6 L872.4 729.7 L873.1 730.1 L873.8 729.1 L874.5 727.4 L875.2 725.2 L875.9 733.4 L876.6 737.4 L877.3 730.5 L878.0 727.6 L878.7 733.7 L879.4 730.1 L880.1 721.0 L880.8 726.9 L881.5 728.1 L882.2 731.2 L882.9 740.1 L883.6 739.0 L884.3 734.9 L885.0 735.7 L885.7 738.0 L886.4 732.8 L887.1 734.4 L887.8 732.9 L888.5 735.1 L889.2 733.3 L889.9 730.9 L890.6 734.6 L891.3 735.3 L892.0 736.2 L892.7 730.7 L893.4 729.2 L894.1 728.5 L894.8 731.3 L895.5 727.3 L896.2 728.5 L896.9 732.1 L897.6 730.3 L898.3 728.5 L899.0 727.9 L899.7 728.0 L900.4 727.8 L901.1 723.3 L901.8 720.0 L902.5 726.2 L903.2 724.2 L903.9 729.3 L904.6 729.5 L905.3 735.0 L906.0 730.5 L906.7 726.7 L907.4 725.3 L908.1 720.0 L908.8 722.4 L909.5 723.0 L910.2 722.4 L910.9 716.8 L911.6 717.8 L912.3 726.5 L913.0 727.0 L913.7 725.5 L914.4 725.8 L915.1 724.8 L915.8 726.1 L916.5 729.1 L917.2 728.4 L917.9 729.3 L918.6 724.9 L919.3 721.4 L920.0 724.3 L920.7 726.0 L921.4 723.9 L922.1 724.8 L922.8 726.0 L923.5 729.8 L924.2 730.5 L924.9 729.0 L925.6 724.0 L926.3 726.0 L927.0 728.4 L927.7 725.1 L928.4 722.2 L929.1 720.7 L929.8 723.9 L930.5 723.6 L931.2 723.9 L931.9 722.5 L932.6 725.9 L933.3 719.6 L934.0 714.5 L934.7 717.6 L935.4 719.9 L936.1 720.5 L936.8 714.8 L937.5 712.3 L938.2 712.1 L938.9 709.5 L939.6 705.6 L940.3 712.9 L941.0 714.7 L941.7 707.8 L942.4 705.6 L943.1 707.3 L943.8 707.4 L944.5 711.0 L945.2 709.8 L945.9 711.5 L946.6 707.5 L947.3 706.3 L948.0 707.2 L948.7 710.6 L949.4 718.5 L950.1 722.3 L950.8 721.9 L951.5 720.7 L952.2 717.9 L952.9 725.7 L953.6 725.7 L954.3 734.1 L955.0 739.1 L955.7 734.4 L956.4 734.8 L957.1 734.4 L957.8 729.5 L958.5 729.4 L959.2 732.2 L959.9 736.2 L960.6 738.8 L961.3 738.6 L962.0 740.0 L962.7 735.8 L963.4 733.4 L964.1 737.2 L964.8 737.4 L965.5 735.9 L966.2 740.5 L966.9 737.4 L967.6 737.6 L968.3 739.8 L969.0 738.6 L969.7 742.5 L970.4 743.7 L971.1 743.6 L971.8 742.3 L972.5 740.6 L973.2 740.6 L973.9 744.6 L974.6 748.3 L975.3 747.4 L976.0 746.5 L976.7 748.5 L977.4 748.1 L978.1 742.3 L978.8 744.9 L979.5 748.1 L980.2 744.3 L980.9 744.4 L981.6 747.1 L982.3 747.0 L983.0 749.3 L983.7 747.2 L984.4 750.3 L985.1 755.5 L985.8 751.3 L986.5 743.6 L987.2 742.6 L987.9 744.0 L988.6 745.8 L989.3 744.6 L990.0 750.1 L990.7 755.0 L991.4 753.8 L992.1 747.8 L992.8 747.4 L993.5 747.5 L994.2 748.3 L994.9 753.1 L995.6 748.4 L996.3 746.6 L997.0 750.5 L997.7 752.8 L998.4 756.3 L999.1 756.1 L999.8 750.0 L1000.5 745.7 L1001.2 752.1 L1001.9 755.7 L1002.6 756.0 L1003.3 748.1 L1004.0 748.9 L1004.7 757.0 L1005.4 759.3 L1006.1 757.6 L1006.8 755.0 L1007.5 756.3 L1008.2 752.0 L1008.9 749.8 L1009.6 752.8 L1010.3 755.0 L1011.0 757.5 L1011.7 756.8 L1012.4 751.1 L1013.1 754.8 L1013.8 755.8 L1014.5 752.3 L1015.2 754.0 L1015.9 756.2 L1016.6 756.7 L1017.3 753.9 L1018.0 753.3 L1018.7 753.5 L1019.4 756.6 L1020.1 755.9 L1020.8 755.8 L1021.5 758.4 L1022.2 756.5 L1022.9 755.1 L1023.6 760.5 L1024.3 761.6 L1025.0 759.0 L1025.7 756.4 L1026.4 759.8 L1027.1 756.0 L1027.8 752.8 L1028.5 758.0 L1029.2 762.9 L1029.9 759.3 L1030.6 761.0 L1031.3 763.1 L1032.0 760.3 L1032.7 758.5 L1033.4 759.5 L1034.1 760.6 L1034.8 758.9 L1035.5 760.7 L1036.2 761.3 L1036.9 760.0 L1037.6 762.2 L1038.3 762.1 L1039.0 759.9 L1039.7 759.9 L1040.4 760.8 L1041.1 760.4 L1041.8 759.6 L1042.5 758.4 L1043.2 761.4 L1043.9 764.0 L1044.6 763.2 L1045.3 760.6 L1046.0 763.2 L1046.7 763.4 L1047.4 760.7 L1048.1 762.9 L1048.8 762.2 L1049.5 761.8 L1050.2 763.0 L1050.9 761.0 L1051.6 757.4 L1052.3 761.3 L1053.0 760.7 L1053.7 763.0 L1054.4 765.2 L1055.1 763.4 L1055.8 762.8 L1056.5 764.5 L1057.2 765.0 L1057.9 762.1 L1058.6 762.6 L1059.3 766.6 L1060.0 769.2 L1060.7 766.7 L1061.4 766.6 L1062.1 763.9 L1062.8 764.7 L1063.5 764.5 L1064.2 762.2 L1064.9 764.4 L1065.6 763.2 L1066.3 759.1 L1067.0 763.9 L1067.7 766.7 L1068.4 767.0 L1069.1 766.2 L1069.8 763.0 L1070.5 763.4 L1071.2 764.6 L1071.9 763.7 L1072.6 765.5 L1073.3 768.6 L1074.0 765.1 L1074.7 766.6 L1075.4 771.0 L1076.1 767.2 L1076.8 764.6 L1077.5 767.1 L1078.2 767.9 L1078.9 766.6 L1079.6 763.6 L1080.3 767.3 L1081.0 770.3 L1081.7 773.6 L1082.4 770.7 L1083.1 767.6 L1083.8 769.0 L1084.5 769.9 L1085.2 768.3 L1085.9 769.1 L1086.6 772.2 L1087.3 771.1 L1088.0 769.6 L1088.7 767.1 L1089.4 767.8 L1090.1 765.5 L1090.8 770.4 L1091.5 769.4 L1092.2 771.5 L1092.9 772.5 L1093.6 768.6 L1094.3 771.8 L1095.0 771.9 L1095.7 772.5 L1096.4 769.3 L1097.1 768.9 L1097.8 773.0 L1098.5 772.2 L1099.2 769.8 L1099.9 768.5 L1100.6 772.6 L1101.3 770.5 L1102.0 769.3 L1102.7 768.9 L1103.4 770.7 L1104.1 772.3 L1104.8 771.2 L1105.5 770.4 L1106.2 770.8 L1106.9 775.6 L1107.6 776.1 L1108.3 771.2 L1109.0 769.3 L1109.7 770.4 L1110.4 768.0 L1111.1 771.3 L1111.8 772.7 L1112.5 773.6 L1113.2 777.2 L1113.9 777.9 L1114.6 774.2 L1115.3 772.3 L1116.0 775.3 L1116.7 774.9 L1117.4 769.8 L1118.1 769.7 L1118.8 770.2 L1119.5 767.6 L1120.2 770.0 L1120.9 775.0 L1121.6 771.5 L1122.3 773.4 L1123.0 772.3 L1123.7 775.1 L1124.4 775.2 L1125.1 774.5 L1125.8 770.7 L1126.5 772.6 L1127.2 772.7 L1127.9 775.3 L1128.6 775.8 L1129.3 774.3 L1130.0 773.3 L1130.7 773.6 L1131.4 773.9 L1132.1 772.3 L1132.8 771.8 L1133.5 771.2 L1134.2 771.6 L1134.9 774.7 L1135.6 772.4 L1136.3 776.6 L1137.0 775.4 L1137.7 769.1 L1138.4 768.5 L1139.1 772.1 L1139.8 771.7 L1140.5 774.4 L1141.2 776.8 L1141.9 775.6 L1142.6 773.9 L1143.3 774.8 L1144.0 777.5 L1144.7 775.8 L1145.4 779.8 L1146.1 780.4 L1146.8 775.4 L1147.5 776.3 L1148.2 778.5 L1148.9 774.6 L1149.6 776.1 L1150.3 776.9 L1151.0 773.4 L1151.7 775.2 L1152.4 775.2 L1153.1 775.0 L1153.8 778.3 L1154.5 777.5 L1155.2 781.0 L1155.9 778.1 L1156.6 774.3 L1157.3 774.9 L1158.0 774.3 L1158.7 777.3 L1159.4 776.8 L1160.1 772.9 L1160.8 774.1 L1161.5 776.5 L1162.2 775.4 L1162.9 774.2 L1163.6 778.6 L1164.3 778.7 L1165.0 774.3 L1165.7 776.9 L1166.4 771.9 L1167.1 773.7 L1167.8 773.8 L1168.5 774.3 L1169.2 775.2 L1169.9 773.3 L1170.6 776.1 L1171.3 780.3 L1172.0 779.4 L1172.7 780.6 L1173.4 778.1 L1174.1 774.2 L1174.8 779.9 L1175.5 780.0 L1176.2 778.2 L1176.9 775.6 L1177.6 774.2 L1178.3 773.5 L1179.0 775.5 L1179.7 776.6 L1180.4 776.2 L1181.1 774.8 L1181.8 771.4 L1182.5 773.0 L1183.2 774.5 L1183.9 776.6 L1184.6 775.6 L1185.3 775.5 L1186.0 776.4 L1186.7 775.6 L1187.4 776.7 L1188.1 779.2 L1188.8 776.7 L1189.5 775.2 L1190.2 778.4 L1190.9 779.8 L1191.6 778.3 L1192.3 775.2 L1193.0 778.6 L1193.7 778.1 L1194.4 777.8 L1195.1 778.0 L1195.8 778.9 L1196.5 780.0 L1197.2 781.5 L1197.9 779.1 L1198.6 778.1 L1199.3 779.1 L1200.0 778.7 L1200.7 780.3 L1201.4 779.4 L1202.1 779.3 L1202.8 777.9 L1203.5 780.3 L1204.2 779.5 L1204.9 776.2 L1205.6 776.6 L1206.3 777.1 L1207.0 774.3 L1207.7 775.0 L1208.4 778.9 L1209.1 780.6 L1209.8 780.8 L1210.5 775.9 L1211.2 775.1 L1211.9 774.5 L1212.6 780.0 L1213.3 776.3 L1214.0 778.2 L1214.7 783.6 L1215.4 782.4 L1216.1 778.9 L1216.8 783.3 L1217.5 780.3 L1218.2 776.6 L1218.9 778.8 L1219.6 780.6 L1220.3 779.0 L1221.0 775.3 L1221.7 780.3 L1222.4 776.0 L1223.1 778.0 L1223.8 782.1 L1224.5 780.5 L1225.2 778.5 L1225.9 777.7 L1226.6 780.6 L1227.3 782.0 L1228.0 778.8 L1228.7 779.2 L1229.4 778.1 L1230.1 776.3 L1230.8 774.1 L1231.5 778.9 L1232.2 781.3 L1232.9 780.2 L1233.6 781.6 L1234.3 781.2 L1235.0 782.4 L1235.7 780.4 L1236.4 778.4 L1237.1 778.3 L1237.8 779.7 L1238.5 779.9 L1239.2 778.1 L1239.9 778.1 L1240.6 775.9 L1241.3 776.5 L1242.0 781.0 L1242.7 782.1 L1243.4 782.7 L1244.1 781.5 L1244.8 782.4 L1245.5 784.3 L1246.2 780.1 L1246.9 781.8 L1247.6 785.9 L1248.3 786.9 L1249.0 783.4 L1249.7 780.4 L1250.4 778.4 L1251.1 780.1 L1251.8 781.3 L1252.5 781.6 L1253.2 782.6 L1253.9 782.4 L1254.6 779.9 L1255.3 778.7 L1256.0 780.3 L1256.7 783.1 L1257.4 784.2 L1258.1 779.4 L1258.8 782.5 L1259.5 782.1 L1260.2 784.9 L1260.9 786.7 L1261.6 783.0 L1262.3 778.9 L1263.0 780.0 L1263.7 781.8 L1264.4 780.9 L1265.1 780.6 L1265.8 779.6 L1266.5 780.1 L1267.2 780.6 L1267.9 783.3 L1268.6 783.3 L1269.3 782.4 L1270.0 778.1 L1270.7 779.0 L1271.4 779.4 L1272.1 779.6 L1272.8 778.9 L1273.5 780.5 L1274.2 784.6 L1274.9 781.3 L1275.6 778.5 L1276.3 780.7 L1277.0 785.0 L1277.7 781.0 L1278.4 775.6 L1279.1 775.0 L1279.8 774.7 L1280.5 772.5 L1281.2 767.4 L1281.9 767.4 L1282.6 767.4 L1283.3 763.9 L1284.0 765.2 L1284.7 765.7 L1285.4 765.9 L1286.1 764.1 L1286.8 759.3 L1287.5 757.7 L1288.2 757.5 L1288.9 756.4 L1289.6 752.4 L1290.3 749.5 L1290.6 751.3 L1291.0 753.8 L1291.7 753.8 L1292.4 756.5 L1293.1 759.7 L1293.8 757.2 L1294.5 757.3 L1295.2 759.8 L1295.9 765.8 L1296.6 769.5 L1297.3 770.0 L1298.0 774.7 L1298.7 773.3 L1299.4 775.4 L1300.1 778.1 L1300.8 781.6 L1301.5 780.9 L1302.2 784.4 L1302.9 781.5 L1303.6 778.5 L1304.3 780.0 L1305.0 782.7 L1305.7 785.8 L1306.4 782.6 L1307.1 783.7 L1307.8 787.5 L1308.5 784.2 L1309.2 781.2 L1309.9 780.0 L1310.6 779.5 L1311.3 783.9 L1312.0 786.2 L1312.7 782.9 L1313.4 781.3 L1314.1 783.8 L1314.8 784.1 L1315.5 784.0 L1316.2 785.1 L1316.9 784.4 L1317.6 784.2 L1318.3 785.1 L1319.0 780.2 L1319.7 780.6 L1320.4 782.3 L1321.1 782.4 L1321.8 785.7 L1322.5 781.3 L1323.2 785.2 L1323.9 786.7 L1324.6 786.2 L1325.3 785.6 L1326.0 783.4 L1326.7 783.9 L1327.4 787.6 L1328.1 784.7 L1328.8 780.9 L1329.5 780.4 L1330.2 781.1 L1330.9 785.5 L1331.6 787.7 L1332.3 785.4 L1333.0 785.1 L1333.7 784.9 L1334.4 787.6 L1335.1 788.6 L1335.8 789.3 L1336.5 789.4 L1337.2 784.6 L1337.9 785.7 L1338.6 783.3 L1339.3 786.9 L1340.0 788.6 L1340.7 788.6 L1341.4 788.1 L1342.1 785.8 L1342.8 785.1 L1343.5 787.0 L1344.2 785.7 L1344.9 786.8 L1345.6 785.1 L1346.3 786.7 L1347.0 786.7 L1347.7 784.5 L1348.4 785.8 L1349.1 788.3 L1349.8 787.5 L1350.5 787.3 L1351.2 785.8 L1351.9 785.6 L1352.6 783.0 L1353.3 784.9 L1354.0 789.3 L1354.7 788.7 L1355.4 787.2 L1356.1 786.3 L1356.8 784.3 L1357.5 786.1 L1358.2 784.0 L1358.9 785.0 L1359.6 787.5 L1360.3 785.5 L1361.0 785.3 L1361.7 786.5 L1362.4 788.0 L1363.1 788.9 L1363.8 784.0 L1364.5 785.5 L1365.2 787.8 L1365.9 786.2 L1366.6 785.5 L1367.3 785.0 L1368.0 786.4 L1368.7 789.2 L1369.4 790.6 L1370.1 789.7 L1370.8 790.6 L1371.5 787.4 L1372.2 784.4 L1372.9 786.7 L1373.6 783.6 L1374.3 786.1 L1375.0 786.8 L1375.7 785.0 L1376.4 786.1 L1377.1 786.5 L1377.8 787.5 L1378.5 787.6 L1379.2 788.7 L1379.9 787.8 L1380.6 789.0 L1381.3 788.5 L1382.0 788.6 L1382.7 788.2 L1383.4 787.8 L1384.1 790.6 L1384.8 788.7 L1385.5 782.9 L1386.2 785.3 L1386.9 791.0 L1387.6 790.6 L1388.3 794.5 L1389.0 791.4 L1389.7 789.4 L1390.4 787.7 L1391.1 787.9 L1391.8 789.4 L1392.5 790.8 L1393.2 789.4 L1393.9 788.1 L1394.6 786.3 L1395.3 786.9 L1396.0 787.5 L1396.7 787.8 L1397.4 786.5 L1398.1 785.9 L1398.8 786.0 L1399.5 782.5 L1400.2 783.6 L1400.9 786.4 L1401.6 788.8 L1402.3 787.0 L1403.0 786.6 L1403.7 789.6 L1404.4 789.9 L1405.1 791.6 L1405.8 788.9 L1406.5 787.1 L1407.2 788.8 L1407.9 793.5 L1408.6 793.5 L1409.3 791.0 L1410.0 790.5 L1410.7 787.6 L1411.4 791.1 L1412.1 790.6 L1412.8 789.2 L1413.5 789.3 L1414.2 789.4 L1414.9 788.2 L1415.6 787.4 L1416.3 787.4 L1417.0 791.2 L1417.7 788.2 L1418.4 789.0 L1419.1 792.1 L1419.8 793.3 L1420.5 792.6 L1421.2 788.6 L1421.9 787.9 L1422.6 787.6 L1423.3 785.8 L1424.0 788.9 L1424.7 786.2 L1425.4 788.5 L1426.1 791.5 L1426.8 791.2 L1427.5 789.3 L1428.2 791.5 L1428.9 791.0 L1429.6 786.1 L1430.3 788.0 L1431.0 790.7 L1431.7 790.4 L1432.4 789.0 L1433.1 790.3 L1433.8 793.8 L1434.5 790.6 L1435.2 790.5 L1435.9 787.7 L1436.6 790.3 L1437.3 791.6 L1438.0 788.7 L1438.7 788.9 L1439.4 792.8 L1440.1 790.8 L1440.8 790.6 L1441.5 788.1 L1442.2 791.0 L1442.9 785.8 L1443.6 786.0 L1444.3 787.7 L1445.0 789.3 L1445.7 791.0 L1446.4 794.5 L1447.1 796.3 L1447.8 795.5 L1448.5 792.8 L1449.2 789.4 L1449.9 785.5 L1450.6 788.0 L1451.3 788.9 L1452.0 790.1 L1452.7 787.5 L1453.4 786.9 L1454.1 788.1 L1454.8 790.8 L1455.5 789.9 L1456.2 786.6 L1456.9 785.0 L1457.6 787.0 L1458.3 787.6 L1459.0 788.1 L1459.7 789.9 L1460.4 791.7 L1461.1 791.3 L1461.8 788.2 L1462.5 788.5 L1463.2 792.1 L1463.9 790.4 L1464.6 791.0 L1465.3 790.6 L1466.0 791.4 L1466.7 793.0 L1467.4 790.6 L1468.1 792.0 L1468.8 791.2 L1469.5 789.1 L1470.2 788.0 L1470.9 788.7 L1471.6 792.1 L1472.3 791.6 L1473.0 788.3 L1473.7 788.4 L1474.4 785.6 L1475.1 789.5 L1475.8 792.8 L1476.5 788.0 L1477.2 788.6 L1477.9 788.0 L1478.6 788.1 L1479.3 786.9 L1480.0 787.2 L1480.7 784.0" stroke-width="3.6" stroke-linejoin="miter" stroke-miterlimit="2"/></g>
<line x1="327.2" y1="244" x2="327.2" y2="404" stroke="#007387" stroke-width="4"/>
<text x="109.5" y="1101" font-size="47" font-weight="bold" text-anchor="middle">20</text>
<text x="452.1" y="1101" font-size="47" font-weight="bold" text-anchor="middle">30</text>
<text x="794.8" y="1101" font-size="47" font-weight="bold" text-anchor="middle">40</text>
<text x="1137.4" y="1101" font-size="47" font-weight="bold" text-anchor="middle">50</text>
<text x="1480.0" y="1101" font-size="47" font-weight="bold" text-anchor="middle">60</text>
<text x="795.5" y="1165" font-size="69" font-weight="bold" text-anchor="middle">2θ</text>
<text transform="translate(65.8 505) rotate(-90)" font-size="69" font-weight="bold" text-anchor="middle">Intensity</text>
<line x1="904" y1="127.6" x2="1017" y2="127.6" stroke="#000000" stroke-width="6.8" stroke-linecap="round"/>
<text x="1029" y="143.8" font-size="61" font-weight="bold" text-anchor="start">Pure PF</text>
<line x1="904" y1="203.1" x2="1017" y2="203.1" stroke="#ff0000" stroke-width="6.8" stroke-linecap="round"/>
<text x="1029" y="217.2" font-size="61" font-weight="bold" text-anchor="start">3wt-FG+PF</text>
<line x1="904" y1="278.4" x2="1017" y2="278.4" stroke="#00ff00" stroke-width="6.8" stroke-linecap="round"/>
<text x="1029" y="293.8" font-size="61" font-weight="bold" text-anchor="start">5wt-FG+PF</text>
<line x1="904" y1="352.8" x2="1017" y2="352.8" stroke="#0000ff" stroke-width="6.8" stroke-linecap="round"/>
<text x="1029" y="370.6" font-size="61" font-weight="bold" text-anchor="start">8wt-FG+PF</text>
<text transform="translate(912.8 448.2) scale(1 0.91)" font-family='"DejaVu Sans", sans-serif' font-size="44.5" font-weight="normal" text-anchor="middle">♣</text>
<text transform="translate(932.3 446.1) scale(1 0.78)" font-size="60.5" font-weight="normal" text-anchor="start">----</text>
<text transform="translate(1011 448) scale(1.16 1)" font-size="60.5" font-weight="normal" text-anchor="start">C</text>
<text transform="translate(358.7 96.3) scale(1.03 1)" font-size="66" font-weight="bold" text-anchor="start">(002)</text>
<text transform="translate(884 625.7) scale(1.015 1)" font-size="66.3" font-weight="bold" text-anchor="start">(101)</text>
<text transform="translate(777.9 684.7) scale(1.024 1)" font-size="62" font-weight="bold" text-anchor="start">(100)</text>
<text transform="translate(1225.8 700.4) scale(1.044 1)" font-size="65.1" font-weight="bold" text-anchor="start">(004)</text>
<text x="854" y="917.3" font-size="52" font-weight="bold" text-anchor="start">(10<tspan font-style="italic" font-weight="normal">ℓ</tspan>)</text>
<text transform="translate(328 108) scale(1 0.91)" font-family='"DejaVu Sans", sans-serif' font-size="48.2" font-weight="normal" text-anchor="middle">♣</text>
<text transform="translate(866.9 719.8) scale(1 0.91)" font-family='"DejaVu Sans", sans-serif' font-size="48.2" font-weight="normal" text-anchor="middle">♣</text>
<text transform="translate(944.5 701.5) scale(1 0.91)" font-family='"DejaVu Sans", sans-serif' font-size="48.2" font-weight="normal" text-anchor="middle">♣</text>
<text transform="translate(1293.4 746.5) scale(1 0.91)" font-family='"DejaVu Sans", sans-serif' font-size="48.2" font-weight="normal" text-anchor="middle">♣</text>
</svg>
</body></html>
